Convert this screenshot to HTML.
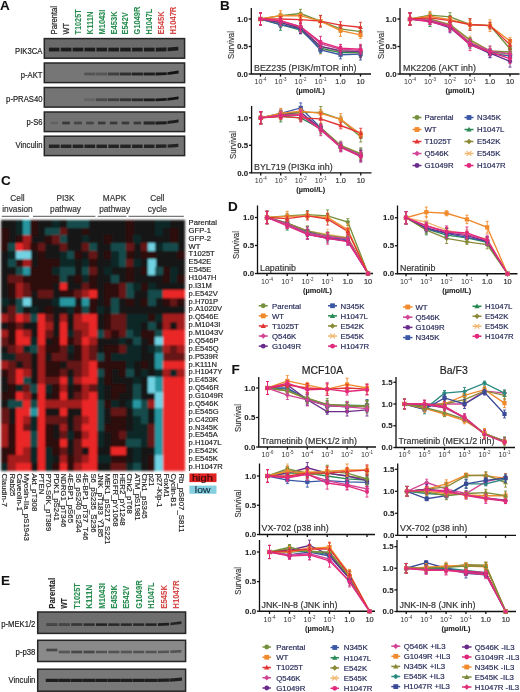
<!DOCTYPE html><html><head><meta charset="utf-8"><style>html,body{margin:0;padding:0;background:#fff;}svg{display:block;filter:blur(0.5px);}</style></head><body>
<svg width="520" height="692" viewBox="0 0 520 692" font-family='"Liberation Sans", sans-serif'>
<defs><filter id="bl" x="-20%" y="-50%" width="140%" height="200%"><feGaussianBlur stdDeviation="0.7"/></filter><filter id="bl2" x="-2%" y="-2%" width="104%" height="104%"><feGaussianBlur stdDeviation="0.85"/></filter></defs>
<rect width="520" height="692" fill="#fff"/>
<text x="0.00" y="10.20" font-size="13.5" font-weight="bold" fill="#111" stroke="#111" stroke-width="0.08" text-anchor="start">A</text>
<text x="220.00" y="10.20" font-size="13.5" font-weight="bold" fill="#111" stroke="#111" stroke-width="0.08" text-anchor="start">B</text>
<text x="1.00" y="184.50" font-size="13.5" font-weight="bold" fill="#111" stroke="#111" stroke-width="0.08" text-anchor="start">C</text>
<text x="228.00" y="211.00" font-size="13.5" font-weight="bold" fill="#111" stroke="#111" stroke-width="0.08" text-anchor="start">D</text>
<text x="1.00" y="584.80" font-size="13.5" font-weight="bold" fill="#111" stroke="#111" stroke-width="0.08" text-anchor="start">E</text>
<text x="231.50" y="374.20" font-size="13.5" font-weight="bold" fill="#111" stroke="#111" stroke-width="0.08" text-anchor="start">F</text>
<text x="0" y="0" font-size="7.6" fill="#222" stroke="#222" stroke-width="0.18" text-anchor="start" transform="translate(57.20 34.40) rotate(-90) scale(1 1.12)" textLength="28.4" lengthAdjust="spacingAndGlyphs">Parental</text>
<text x="0" y="0" font-size="7.6" fill="#222" stroke="#222" stroke-width="0.18" text-anchor="start" transform="translate(69.08 34.40) rotate(-90) scale(1 1.12)" textLength="11.4" lengthAdjust="spacingAndGlyphs">WT</text>
<text x="0" y="0" font-size="7.6" font-weight="bold" fill="#2a8e52" stroke="#2a8e52" stroke-width="0.08" text-anchor="start" transform="translate(80.96 34.40) rotate(-90) scale(1 1.12)" textLength="25" lengthAdjust="spacingAndGlyphs">T1025T</text>
<text x="0" y="0" font-size="7.6" font-weight="bold" fill="#2a8e52" stroke="#2a8e52" stroke-width="0.08" text-anchor="start" transform="translate(92.84 34.40) rotate(-90) scale(1 1.12)" textLength="23" lengthAdjust="spacingAndGlyphs">K111N</text>
<text x="0" y="0" font-size="7.6" font-weight="bold" fill="#2a8e52" stroke="#2a8e52" stroke-width="0.08" text-anchor="start" transform="translate(104.72 34.40) rotate(-90) scale(1 1.12)" textLength="24.7" lengthAdjust="spacingAndGlyphs">M1043I</text>
<text x="0" y="0" font-size="7.6" font-weight="bold" fill="#2a8e52" stroke="#2a8e52" stroke-width="0.08" text-anchor="start" transform="translate(116.60 34.40) rotate(-90) scale(1 1.12)" textLength="23" lengthAdjust="spacingAndGlyphs">E453K</text>
<text x="0" y="0" font-size="7.6" font-weight="bold" fill="#2a8e52" stroke="#2a8e52" stroke-width="0.08" text-anchor="start" transform="translate(128.48 34.40) rotate(-90) scale(1 1.12)" textLength="22" lengthAdjust="spacingAndGlyphs">E542V</text>
<text x="0" y="0" font-size="7.6" font-weight="bold" fill="#2a8e52" stroke="#2a8e52" stroke-width="0.08" text-anchor="start" transform="translate(140.36 34.40) rotate(-90) scale(1 1.12)" textLength="27.7" lengthAdjust="spacingAndGlyphs">G1049R</text>
<text x="0" y="0" font-size="7.6" font-weight="bold" fill="#2a8e52" stroke="#2a8e52" stroke-width="0.08" text-anchor="start" transform="translate(152.24 34.40) rotate(-90) scale(1 1.12)" textLength="25.4" lengthAdjust="spacingAndGlyphs">H1047L</text>
<text x="0" y="0" font-size="7.6" font-weight="bold" fill="#d64c4a" stroke="#d64c4a" stroke-width="0.08" text-anchor="start" transform="translate(164.12 34.40) rotate(-90) scale(1 1.12)" textLength="23" lengthAdjust="spacingAndGlyphs">E545K</text>
<text x="0" y="0" font-size="7.6" font-weight="bold" fill="#d64c4a" stroke="#d64c4a" stroke-width="0.08" text-anchor="start" transform="translate(176.00 34.40) rotate(-90) scale(1 1.12)" textLength="27.7" lengthAdjust="spacingAndGlyphs">H1047R</text>
<rect x="44.30" y="38.60" width="140.30" height="19.60" fill="#6a6a6a" stroke="#262626" stroke-width="1.5"/>
<text x="42.50" y="53.90" font-size="8.4" fill="#222" stroke="#222" stroke-width="0.18" text-anchor="end" textLength="27.4" lengthAdjust="spacingAndGlyphs">PIK3CA</text>
<rect x="44.30" y="63.00" width="140.30" height="19.60" fill="#767676" stroke="#262626" stroke-width="1.5"/>
<text x="42.50" y="77.80" font-size="8.4" fill="#222" stroke="#222" stroke-width="0.18" text-anchor="end" textLength="21.7" lengthAdjust="spacingAndGlyphs">p-AKT</text>
<rect x="44.30" y="87.50" width="140.30" height="19.60" fill="#747474" stroke="#262626" stroke-width="1.5"/>
<text x="42.50" y="101.60" font-size="8.4" fill="#222" stroke="#222" stroke-width="0.18" text-anchor="end" textLength="36.4" lengthAdjust="spacingAndGlyphs">p-PRAS40</text>
<rect x="44.30" y="112.00" width="140.30" height="19.60" fill="#727272" stroke="#262626" stroke-width="1.5"/>
<text x="42.50" y="124.90" font-size="8.4" fill="#222" stroke="#222" stroke-width="0.18" text-anchor="end" textLength="16.1" lengthAdjust="spacingAndGlyphs">p-S6</text>
<rect x="44.30" y="136.20" width="140.30" height="19.40" fill="#727272" stroke="#262626" stroke-width="1.5"/>
<text x="42.50" y="148.20" font-size="8.4" fill="#222" stroke="#222" stroke-width="0.18" text-anchor="end" textLength="26.9" lengthAdjust="spacingAndGlyphs">Vinculin</text>
<g filter="url(#bl)">
<path d="M48.90 47.70L59.50 47.70L59.50 51.50L48.90 51.50Z" fill="#101010" fill-opacity="0.85"/>
<path d="M60.78 47.70L71.38 47.70L71.38 51.50L60.78 51.50Z" fill="#101010" fill-opacity="0.85"/>
<path d="M72.66 47.70L83.26 47.70L83.26 51.50L72.66 51.50Z" fill="#101010" fill-opacity="0.85"/>
<path d="M84.54 47.70L95.14 47.70L95.14 51.50L84.54 51.50Z" fill="#101010" fill-opacity="0.85"/>
<path d="M96.42 47.70L107.02 47.70L107.02 51.50L96.42 51.50Z" fill="#101010" fill-opacity="0.85"/>
<path d="M108.30 47.70L118.90 47.70L118.90 51.50L108.30 51.50Z" fill="#101010" fill-opacity="0.85"/>
<path d="M120.18 47.70L130.78 47.70L130.78 51.50L120.18 51.50Z" fill="#101010" fill-opacity="0.85"/>
<path d="M132.06 47.70L142.66 47.70L142.66 51.50L132.06 51.50Z" fill="#101010" fill-opacity="0.85"/>
<path d="M143.94 47.70L154.54 47.70L154.54 51.50L143.94 51.50Z" fill="#101010" fill-opacity="0.85"/>
<path d="M155.82 47.70L166.42 47.54L166.42 51.34L155.82 51.50Z" fill="#101010" fill-opacity="0.85"/>
<path d="M167.70 47.49L178.30 46.79L178.30 50.59L167.70 51.29Z" fill="#101010" fill-opacity="0.85"/>
</g>
<g filter="url(#bl)">
<path d="M84.24 72.60L95.44 72.60L95.44 75.40L84.24 75.40Z" fill="#101010" fill-opacity="0.30"/>
<path d="M96.12 72.60L107.32 72.60L107.32 75.40L96.12 75.40Z" fill="#101010" fill-opacity="0.35"/>
<path d="M108.00 72.60L119.20 72.60L119.20 75.40L108.00 75.40Z" fill="#101010" fill-opacity="0.55"/>
<path d="M119.88 72.60L131.08 72.60L131.08 75.40L119.88 75.40Z" fill="#101010" fill-opacity="0.70"/>
<path d="M131.76 72.60L142.96 72.60L142.96 75.40L131.76 75.40Z" fill="#101010" fill-opacity="0.80"/>
<path d="M143.64 72.60L154.84 72.60L154.84 75.40L143.64 75.40Z" fill="#101010" fill-opacity="0.85"/>
<path d="M155.52 72.60L166.72 72.24L166.72 75.04L155.52 75.40Z" fill="#101010" fill-opacity="0.90"/>
<path d="M167.40 72.18L178.60 70.59L178.60 73.39L167.40 74.98Z" fill="#101010" fill-opacity="0.95"/>
</g>
<g filter="url(#bl)">
<path d="M84.24 98.40L95.44 98.40L95.44 101.20L84.24 101.20Z" fill="#101010" fill-opacity="0.15"/>
<path d="M96.12 98.40L107.32 98.40L107.32 101.20L96.12 101.20Z" fill="#101010" fill-opacity="0.45"/>
<path d="M108.00 98.40L119.20 98.40L119.20 101.20L108.00 101.20Z" fill="#101010" fill-opacity="0.55"/>
<path d="M119.88 98.40L131.08 98.40L131.08 101.20L119.88 101.20Z" fill="#101010" fill-opacity="0.65"/>
<path d="M131.76 98.40L142.96 98.40L142.96 101.20L131.76 101.20Z" fill="#101010" fill-opacity="0.75"/>
<path d="M143.64 98.40L154.84 98.40L154.84 101.20L143.64 101.20Z" fill="#101010" fill-opacity="0.85"/>
<path d="M155.52 98.40L166.72 98.04L166.72 100.84L155.52 101.20Z" fill="#101010" fill-opacity="0.90"/>
<path d="M167.40 97.98L178.60 96.39L178.60 99.19L167.40 100.78Z" fill="#101010" fill-opacity="0.95"/>
</g>
<g filter="url(#bl)">
<path d="M50.45 121.70L57.95 121.70L57.95 124.30L50.45 124.30Z" fill="#101010" fill-opacity="0.15"/>
<path d="M62.33 121.70L69.83 121.70L69.83 124.30L62.33 124.30Z" fill="#101010" fill-opacity="0.60"/>
<path d="M74.21 121.70L81.71 121.70L81.71 124.30L74.21 124.30Z" fill="#101010" fill-opacity="0.50"/>
<path d="M86.09 121.70L93.59 121.70L93.59 124.30L86.09 124.30Z" fill="#101010" fill-opacity="0.50"/>
<path d="M97.97 121.70L105.47 121.70L105.47 124.30L97.97 124.30Z" fill="#101010" fill-opacity="0.60"/>
<path d="M109.85 121.70L117.35 121.70L117.35 124.30L109.85 124.30Z" fill="#101010" fill-opacity="0.60"/>
<path d="M121.73 121.70L129.23 121.70L129.23 124.30L121.73 124.30Z" fill="#101010" fill-opacity="0.60"/>
<path d="M133.61 121.70L141.11 121.70L141.11 124.30L133.61 124.30Z" fill="#101010" fill-opacity="0.60"/>
</g>
<g filter="url(#bl)">
<path d="M143.64 121.50L154.84 121.50L154.84 124.50L143.64 124.50Z" fill="#101010" fill-opacity="0.75"/>
<path d="M155.52 121.50L166.72 121.14L166.72 124.14L155.52 124.50Z" fill="#101010" fill-opacity="0.85"/>
<path d="M167.40 121.08L178.60 119.49L178.60 122.49L167.40 124.08Z" fill="#101010" fill-opacity="0.85"/>
</g>
<g filter="url(#bl)">
<path d="M48.90 144.60L59.50 144.60L59.50 148.00L48.90 148.00Z" fill="#101010" fill-opacity="0.80"/>
<path d="M60.78 144.60L71.38 144.60L71.38 148.00L60.78 148.00Z" fill="#101010" fill-opacity="0.80"/>
<path d="M72.66 144.60L83.26 144.60L83.26 148.00L72.66 148.00Z" fill="#101010" fill-opacity="0.80"/>
<path d="M84.54 144.60L95.14 144.60L95.14 148.00L84.54 148.00Z" fill="#101010" fill-opacity="0.80"/>
<path d="M96.42 144.60L107.02 144.60L107.02 148.00L96.42 148.00Z" fill="#101010" fill-opacity="0.80"/>
<path d="M108.30 144.60L118.90 144.60L118.90 148.00L108.30 148.00Z" fill="#101010" fill-opacity="0.80"/>
<path d="M120.18 144.60L130.78 144.60L130.78 148.00L120.18 148.00Z" fill="#101010" fill-opacity="0.80"/>
<path d="M132.06 144.60L142.66 144.60L142.66 148.00L132.06 148.00Z" fill="#101010" fill-opacity="0.80"/>
<path d="M143.94 144.60L154.54 144.60L154.54 148.00L143.94 148.00Z" fill="#101010" fill-opacity="0.80"/>
<path d="M155.82 144.60L166.42 144.44L166.42 147.84L155.82 148.00Z" fill="#101010" fill-opacity="0.80"/>
<path d="M167.70 144.39L178.30 143.69L178.30 147.09L167.70 147.79Z" fill="#101010" fill-opacity="0.80"/>
</g>
<text x="0" y="0" font-size="7.6" font-weight="bold" fill="#222" stroke="#222" stroke-width="0.08" text-anchor="start" transform="translate(54.90 608.70) rotate(-90) scale(1 1.12)" textLength="30.8" lengthAdjust="spacingAndGlyphs">Parental</text>
<text x="0" y="0" font-size="7.6" font-weight="bold" fill="#222" stroke="#222" stroke-width="0.08" text-anchor="start" transform="translate(67.30 608.70) rotate(-90) scale(1 1.12)" textLength="10.5" lengthAdjust="spacingAndGlyphs">WT</text>
<text x="0" y="0" font-size="7.6" font-weight="bold" fill="#2a8e52" stroke="#2a8e52" stroke-width="0.08" text-anchor="start" transform="translate(79.70 608.70) rotate(-90) scale(1 1.12)" textLength="25.5" lengthAdjust="spacingAndGlyphs">T1025T</text>
<text x="0" y="0" font-size="7.6" font-weight="bold" fill="#2a8e52" stroke="#2a8e52" stroke-width="0.08" text-anchor="start" transform="translate(92.10 608.70) rotate(-90) scale(1 1.12)" textLength="23.9" lengthAdjust="spacingAndGlyphs">K111N</text>
<text x="0" y="0" font-size="7.6" font-weight="bold" fill="#2a8e52" stroke="#2a8e52" stroke-width="0.08" text-anchor="start" transform="translate(104.50 608.70) rotate(-90) scale(1 1.12)" textLength="25.5" lengthAdjust="spacingAndGlyphs">M1043I</text>
<text x="0" y="0" font-size="7.6" font-weight="bold" fill="#2a8e52" stroke="#2a8e52" stroke-width="0.08" text-anchor="start" transform="translate(116.90 608.70) rotate(-90) scale(1 1.12)" textLength="23.9" lengthAdjust="spacingAndGlyphs">E453K</text>
<text x="0" y="0" font-size="7.6" font-weight="bold" fill="#2a8e52" stroke="#2a8e52" stroke-width="0.08" text-anchor="start" transform="translate(129.30 608.70) rotate(-90) scale(1 1.12)" textLength="22.8" lengthAdjust="spacingAndGlyphs">E542V</text>
<text x="0" y="0" font-size="7.6" font-weight="bold" fill="#2a8e52" stroke="#2a8e52" stroke-width="0.08" text-anchor="start" transform="translate(141.70 608.70) rotate(-90) scale(1 1.12)" textLength="28.4" lengthAdjust="spacingAndGlyphs">G1049R</text>
<text x="0" y="0" font-size="7.6" font-weight="bold" fill="#2a8e52" stroke="#2a8e52" stroke-width="0.08" text-anchor="start" transform="translate(154.10 608.70) rotate(-90) scale(1 1.12)" textLength="26.1" lengthAdjust="spacingAndGlyphs">H1047L</text>
<text x="0" y="0" font-size="7.6" font-weight="bold" fill="#d64c4a" stroke="#d64c4a" stroke-width="0.08" text-anchor="start" transform="translate(166.50 608.70) rotate(-90) scale(1 1.12)" textLength="23.7" lengthAdjust="spacingAndGlyphs">E545K</text>
<text x="0" y="0" font-size="7.6" font-weight="bold" fill="#d64c4a" stroke="#d64c4a" stroke-width="0.08" text-anchor="start" transform="translate(178.90 608.70) rotate(-90) scale(1 1.12)" textLength="28.4" lengthAdjust="spacingAndGlyphs">H1047R</text>
<rect x="37.70" y="612.00" width="147.90" height="21.40" fill="#6e6e6e" stroke="#262626" stroke-width="1.5"/>
<text x="35.40" y="627.40" font-size="8.4" fill="#222" stroke="#222" stroke-width="0.18" text-anchor="end" textLength="34.2" lengthAdjust="spacingAndGlyphs">p-MEK1/2</text>
<rect x="37.70" y="640.30" width="147.90" height="21.20" fill="#8a8a8a" stroke="#262626" stroke-width="1.5"/>
<text x="35.40" y="654.60" font-size="8.4" fill="#222" stroke="#222" stroke-width="0.18" text-anchor="end" textLength="19.8" lengthAdjust="spacingAndGlyphs">p-p38</text>
<rect x="37.70" y="669.20" width="147.90" height="22.00" fill="#787878" stroke="#262626" stroke-width="1.5"/>
<text x="35.40" y="683.20" font-size="8.4" fill="#222" stroke="#222" stroke-width="0.18" text-anchor="end" textLength="26.8" lengthAdjust="spacingAndGlyphs">Vinculin</text>
<g filter="url(#bl)">
<path d="M46.40 623.30L57.40 623.30L57.40 625.90L46.40 625.90Z" fill="#101010" fill-opacity="0.45"/>
<path d="M58.80 623.30L69.80 623.30L69.80 625.90L58.80 625.90Z" fill="#101010" fill-opacity="0.45"/>
<path d="M71.20 623.30L82.20 623.30L82.20 625.90L71.20 625.90Z" fill="#101010" fill-opacity="0.60"/>
<path d="M83.60 623.30L94.60 623.30L94.60 625.90L83.60 625.90Z" fill="#101010" fill-opacity="0.70"/>
<path d="M96.00 623.30L107.00 623.30L107.00 625.90L96.00 625.90Z" fill="#101010" fill-opacity="0.80"/>
<path d="M108.40 623.30L119.40 623.30L119.40 625.90L108.40 625.90Z" fill="#101010" fill-opacity="0.75"/>
<path d="M120.80 623.30L131.80 623.30L131.80 625.90L120.80 625.90Z" fill="#101010" fill-opacity="0.75"/>
<path d="M133.20 623.30L144.20 623.30L144.20 625.90L133.20 625.90Z" fill="#101010" fill-opacity="0.75"/>
<path d="M145.60 623.30L156.60 623.30L156.60 625.90L145.60 625.90Z" fill="#101010" fill-opacity="0.80"/>
<path d="M158.00 623.30L169.00 622.85L169.00 625.45L158.00 625.90Z" fill="#101010" fill-opacity="0.85"/>
<path d="M170.40 622.73L181.40 621.28L181.40 623.88L170.40 625.33Z" fill="#101010" fill-opacity="0.80"/>
</g>
<g filter="url(#bl)">
<path d="M46.40 648.70L57.40 648.70L57.40 651.30L46.40 651.30Z" fill="#101010" fill-opacity="0.55"/>
</g>
<g filter="url(#bl)">
<path d="M58.80 650.70L69.80 650.70L69.80 653.30L58.80 653.30Z" fill="#101010" fill-opacity="0.45"/>
<path d="M71.20 650.70L82.20 650.70L82.20 653.30L71.20 653.30Z" fill="#101010" fill-opacity="0.55"/>
<path d="M83.60 650.70L94.60 650.70L94.60 653.30L83.60 653.30Z" fill="#101010" fill-opacity="0.55"/>
<path d="M96.00 650.70L107.00 650.70L107.00 653.30L96.00 653.30Z" fill="#101010" fill-opacity="0.40"/>
<path d="M108.40 650.70L119.40 650.70L119.40 653.30L108.40 653.30Z" fill="#101010" fill-opacity="0.40"/>
<path d="M120.80 650.70L131.80 650.70L131.80 653.30L120.80 653.30Z" fill="#101010" fill-opacity="0.45"/>
<path d="M133.20 650.70L144.20 650.70L144.20 653.30L133.20 653.30Z" fill="#101010" fill-opacity="0.40"/>
<path d="M145.60 650.70L156.60 650.70L156.60 653.30L145.60 653.30Z" fill="#101010" fill-opacity="0.40"/>
<path d="M158.00 650.70L169.00 650.52L169.00 653.12L158.00 653.30Z" fill="#101010" fill-opacity="0.40"/>
<path d="M170.40 650.47L181.40 649.89L181.40 652.49L170.40 653.07Z" fill="#101010" fill-opacity="0.45"/>
</g>
<g filter="url(#bl)">
<path d="M45.80 678.80L58.00 678.80L58.00 682.00L45.80 682.00Z" fill="#101010" fill-opacity="0.85"/>
<path d="M58.20 678.80L70.40 678.80L70.40 682.00L58.20 682.00Z" fill="#101010" fill-opacity="0.85"/>
<path d="M70.60 678.80L82.80 678.80L82.80 682.00L70.60 682.00Z" fill="#101010" fill-opacity="0.85"/>
<path d="M83.00 678.80L95.20 678.80L95.20 682.00L83.00 682.00Z" fill="#101010" fill-opacity="0.85"/>
<path d="M95.40 678.80L107.60 678.80L107.60 682.00L95.40 682.00Z" fill="#101010" fill-opacity="0.85"/>
<path d="M107.80 678.80L120.00 678.80L120.00 682.00L107.80 682.00Z" fill="#101010" fill-opacity="0.85"/>
<path d="M120.20 678.80L132.40 678.80L132.40 682.00L120.20 682.00Z" fill="#101010" fill-opacity="0.85"/>
<path d="M132.60 678.80L144.80 678.80L144.80 682.00L132.60 682.00Z" fill="#101010" fill-opacity="0.85"/>
<path d="M145.00 678.80L157.20 678.80L157.20 682.00L145.00 682.00Z" fill="#101010" fill-opacity="0.85"/>
<path d="M157.40 678.80L169.60 678.50L169.60 681.70L157.40 682.00Z" fill="#101010" fill-opacity="0.85"/>
<path d="M169.80 678.49L182.00 677.52L182.00 680.72L169.80 681.69Z" fill="#101010" fill-opacity="0.85"/>
</g>
<g filter="url(#bl2)" shape-rendering="crispEdges">
<rect x="0.9" y="219.8" width="183.90" height="250.80" fill="#141414"/>
<rect x="15.61" y="219.80" width="7.66" height="8.14" fill="#0e2626"/>
<rect x="22.97" y="219.80" width="7.66" height="8.14" fill="#2896a0"/>
<rect x="30.32" y="219.80" width="7.66" height="8.14" fill="#2e1111"/>
<rect x="52.39" y="219.80" width="7.66" height="8.14" fill="#0e2626"/>
<rect x="67.10" y="219.80" width="7.66" height="8.14" fill="#154c4c"/>
<rect x="74.46" y="219.80" width="7.66" height="8.14" fill="#154c4c"/>
<rect x="81.82" y="219.80" width="7.66" height="8.14" fill="#154c4c"/>
<rect x="125.95" y="219.80" width="7.66" height="8.14" fill="#2e1111"/>
<rect x="155.38" y="219.80" width="7.66" height="8.14" fill="#0e2626"/>
<rect x="162.73" y="219.80" width="7.66" height="8.14" fill="#0e2626"/>
<rect x="0.90" y="227.64" width="7.66" height="8.14" fill="#2e1111"/>
<rect x="15.61" y="227.64" width="7.66" height="8.14" fill="#0e2626"/>
<rect x="22.97" y="227.64" width="7.66" height="8.14" fill="#2896a0"/>
<rect x="30.32" y="227.64" width="7.66" height="8.14" fill="#2e1111"/>
<rect x="45.04" y="227.64" width="7.66" height="8.14" fill="#154c4c"/>
<rect x="52.39" y="227.64" width="7.66" height="8.14" fill="#154c4c"/>
<rect x="59.75" y="227.64" width="7.66" height="8.14" fill="#661717"/>
<rect x="81.82" y="227.64" width="7.66" height="8.14" fill="#2e1111"/>
<rect x="125.95" y="227.64" width="7.66" height="8.14" fill="#2e1111"/>
<rect x="155.38" y="227.64" width="7.66" height="8.14" fill="#0e2626"/>
<rect x="170.09" y="227.64" width="7.66" height="8.14" fill="#2e1111"/>
<rect x="0.90" y="235.48" width="7.66" height="8.14" fill="#2e1111"/>
<rect x="15.61" y="235.48" width="7.66" height="8.14" fill="#2e1111"/>
<rect x="22.97" y="235.48" width="7.66" height="8.14" fill="#a41e1e"/>
<rect x="45.04" y="235.48" width="7.66" height="8.14" fill="#2e1111"/>
<rect x="52.39" y="235.48" width="7.66" height="8.14" fill="#661717"/>
<rect x="59.75" y="235.48" width="7.66" height="8.14" fill="#154c4c"/>
<rect x="81.82" y="235.48" width="7.66" height="8.14" fill="#0e2626"/>
<rect x="103.88" y="235.48" width="7.66" height="8.14" fill="#2e1111"/>
<rect x="125.95" y="235.48" width="7.66" height="8.14" fill="#2e1111"/>
<rect x="133.31" y="235.48" width="7.66" height="8.14" fill="#0e2626"/>
<rect x="170.09" y="235.48" width="7.66" height="8.14" fill="#2e1111"/>
<rect x="0.90" y="243.31" width="7.66" height="8.14" fill="#2e1111"/>
<rect x="8.26" y="243.31" width="7.66" height="8.14" fill="#154c4c"/>
<rect x="15.61" y="243.31" width="7.66" height="8.14" fill="#ea2828"/>
<rect x="22.97" y="243.31" width="7.66" height="8.14" fill="#a41e1e"/>
<rect x="30.32" y="243.31" width="7.66" height="8.14" fill="#2e1111"/>
<rect x="37.68" y="243.31" width="7.66" height="8.14" fill="#661717"/>
<rect x="59.75" y="243.31" width="7.66" height="8.14" fill="#661717"/>
<rect x="81.82" y="243.31" width="7.66" height="8.14" fill="#661717"/>
<rect x="89.17" y="243.31" width="7.66" height="8.14" fill="#154c4c"/>
<rect x="111.24" y="243.31" width="7.66" height="8.14" fill="#154c4c"/>
<rect x="118.60" y="243.31" width="7.66" height="8.14" fill="#154c4c"/>
<rect x="125.95" y="243.31" width="7.66" height="8.14" fill="#661717"/>
<rect x="140.66" y="243.31" width="7.66" height="8.14" fill="#661717"/>
<rect x="148.02" y="243.31" width="7.66" height="8.14" fill="#70d2e2"/>
<rect x="155.38" y="243.31" width="7.66" height="8.14" fill="#0e2626"/>
<rect x="162.73" y="243.31" width="7.66" height="8.14" fill="#154c4c"/>
<rect x="170.09" y="243.31" width="7.66" height="8.14" fill="#154c4c"/>
<rect x="8.26" y="251.15" width="7.66" height="8.14" fill="#0e2626"/>
<rect x="15.61" y="251.15" width="7.66" height="8.14" fill="#70d2e2"/>
<rect x="22.97" y="251.15" width="7.66" height="8.14" fill="#70d2e2"/>
<rect x="37.68" y="251.15" width="7.66" height="8.14" fill="#2e1111"/>
<rect x="59.75" y="251.15" width="7.66" height="8.14" fill="#0e2626"/>
<rect x="67.10" y="251.15" width="7.66" height="8.14" fill="#154c4c"/>
<rect x="74.46" y="251.15" width="7.66" height="8.14" fill="#2e1111"/>
<rect x="89.17" y="251.15" width="7.66" height="8.14" fill="#661717"/>
<rect x="103.88" y="251.15" width="7.66" height="8.14" fill="#2e1111"/>
<rect x="111.24" y="251.15" width="7.66" height="8.14" fill="#0e2626"/>
<rect x="118.60" y="251.15" width="7.66" height="8.14" fill="#154c4c"/>
<rect x="125.95" y="251.15" width="7.66" height="8.14" fill="#2e1111"/>
<rect x="140.66" y="251.15" width="7.66" height="8.14" fill="#2e1111"/>
<rect x="148.02" y="251.15" width="7.66" height="8.14" fill="#2e1111"/>
<rect x="177.44" y="251.15" width="7.66" height="8.14" fill="#2e1111"/>
<rect x="8.26" y="258.99" width="7.66" height="8.14" fill="#154c4c"/>
<rect x="15.61" y="258.99" width="7.66" height="8.14" fill="#2e1111"/>
<rect x="22.97" y="258.99" width="7.66" height="8.14" fill="#a41e1e"/>
<rect x="37.68" y="258.99" width="7.66" height="8.14" fill="#2e1111"/>
<rect x="45.04" y="258.99" width="7.66" height="8.14" fill="#2e1111"/>
<rect x="52.39" y="258.99" width="7.66" height="8.14" fill="#2e1111"/>
<rect x="59.75" y="258.99" width="7.66" height="8.14" fill="#0e2626"/>
<rect x="67.10" y="258.99" width="7.66" height="8.14" fill="#0e2626"/>
<rect x="81.82" y="258.99" width="7.66" height="8.14" fill="#0e2626"/>
<rect x="89.17" y="258.99" width="7.66" height="8.14" fill="#2e1111"/>
<rect x="111.24" y="258.99" width="7.66" height="8.14" fill="#0e2626"/>
<rect x="118.60" y="258.99" width="7.66" height="8.14" fill="#154c4c"/>
<rect x="125.95" y="258.99" width="7.66" height="8.14" fill="#661717"/>
<rect x="133.31" y="258.99" width="7.66" height="8.14" fill="#0e2626"/>
<rect x="148.02" y="258.99" width="7.66" height="8.14" fill="#70d2e2"/>
<rect x="15.61" y="266.83" width="7.66" height="8.14" fill="#154c4c"/>
<rect x="22.97" y="266.83" width="7.66" height="8.14" fill="#2896a0"/>
<rect x="30.32" y="266.83" width="7.66" height="8.14" fill="#2e1111"/>
<rect x="37.68" y="266.83" width="7.66" height="8.14" fill="#2e1111"/>
<rect x="45.04" y="266.83" width="7.66" height="8.14" fill="#2e1111"/>
<rect x="52.39" y="266.83" width="7.66" height="8.14" fill="#0e2626"/>
<rect x="59.75" y="266.83" width="7.66" height="8.14" fill="#154c4c"/>
<rect x="67.10" y="266.83" width="7.66" height="8.14" fill="#154c4c"/>
<rect x="81.82" y="266.83" width="7.66" height="8.14" fill="#154c4c"/>
<rect x="89.17" y="266.83" width="7.66" height="8.14" fill="#661717"/>
<rect x="103.88" y="266.83" width="7.66" height="8.14" fill="#0e2626"/>
<rect x="125.95" y="266.83" width="7.66" height="8.14" fill="#2e1111"/>
<rect x="140.66" y="266.83" width="7.66" height="8.14" fill="#2e1111"/>
<rect x="148.02" y="266.83" width="7.66" height="8.14" fill="#70d2e2"/>
<rect x="155.38" y="266.83" width="7.66" height="8.14" fill="#154c4c"/>
<rect x="162.73" y="266.83" width="7.66" height="8.14" fill="#2e1111"/>
<rect x="170.09" y="266.83" width="7.66" height="8.14" fill="#0e2626"/>
<rect x="8.26" y="274.66" width="7.66" height="8.14" fill="#661717"/>
<rect x="15.61" y="274.66" width="7.66" height="8.14" fill="#661717"/>
<rect x="22.97" y="274.66" width="7.66" height="8.14" fill="#2e1111"/>
<rect x="30.32" y="274.66" width="7.66" height="8.14" fill="#2e1111"/>
<rect x="37.68" y="274.66" width="7.66" height="8.14" fill="#2e1111"/>
<rect x="45.04" y="274.66" width="7.66" height="8.14" fill="#2e1111"/>
<rect x="52.39" y="274.66" width="7.66" height="8.14" fill="#2e1111"/>
<rect x="59.75" y="274.66" width="7.66" height="8.14" fill="#154c4c"/>
<rect x="74.46" y="274.66" width="7.66" height="8.14" fill="#2e1111"/>
<rect x="81.82" y="274.66" width="7.66" height="8.14" fill="#0e2626"/>
<rect x="89.17" y="274.66" width="7.66" height="8.14" fill="#2e1111"/>
<rect x="111.24" y="274.66" width="7.66" height="8.14" fill="#154c4c"/>
<rect x="125.95" y="274.66" width="7.66" height="8.14" fill="#2e1111"/>
<rect x="162.73" y="274.66" width="7.66" height="8.14" fill="#2e1111"/>
<rect x="170.09" y="274.66" width="7.66" height="8.14" fill="#0e2626"/>
<rect x="177.44" y="274.66" width="7.66" height="8.14" fill="#2e1111"/>
<rect x="8.26" y="282.50" width="7.66" height="8.14" fill="#2e1111"/>
<rect x="15.61" y="282.50" width="7.66" height="8.14" fill="#a41e1e"/>
<rect x="22.97" y="282.50" width="7.66" height="8.14" fill="#661717"/>
<rect x="30.32" y="282.50" width="7.66" height="8.14" fill="#2e1111"/>
<rect x="37.68" y="282.50" width="7.66" height="8.14" fill="#2e1111"/>
<rect x="45.04" y="282.50" width="7.66" height="8.14" fill="#2e1111"/>
<rect x="59.75" y="282.50" width="7.66" height="8.14" fill="#ea2828"/>
<rect x="81.82" y="282.50" width="7.66" height="8.14" fill="#661717"/>
<rect x="89.17" y="282.50" width="7.66" height="8.14" fill="#2e1111"/>
<rect x="103.88" y="282.50" width="7.66" height="8.14" fill="#2e1111"/>
<rect x="111.24" y="282.50" width="7.66" height="8.14" fill="#2e1111"/>
<rect x="118.60" y="282.50" width="7.66" height="8.14" fill="#661717"/>
<rect x="125.95" y="282.50" width="7.66" height="8.14" fill="#154c4c"/>
<rect x="133.31" y="282.50" width="7.66" height="8.14" fill="#0e2626"/>
<rect x="140.66" y="282.50" width="7.66" height="8.14" fill="#2e1111"/>
<rect x="148.02" y="282.50" width="7.66" height="8.14" fill="#0e2626"/>
<rect x="8.26" y="290.34" width="7.66" height="8.14" fill="#2e1111"/>
<rect x="15.61" y="290.34" width="7.66" height="8.14" fill="#a41e1e"/>
<rect x="22.97" y="290.34" width="7.66" height="8.14" fill="#661717"/>
<rect x="37.68" y="290.34" width="7.66" height="8.14" fill="#661717"/>
<rect x="45.04" y="290.34" width="7.66" height="8.14" fill="#661717"/>
<rect x="59.75" y="290.34" width="7.66" height="8.14" fill="#2e1111"/>
<rect x="67.10" y="290.34" width="7.66" height="8.14" fill="#2e1111"/>
<rect x="74.46" y="290.34" width="7.66" height="8.14" fill="#661717"/>
<rect x="81.82" y="290.34" width="7.66" height="8.14" fill="#a41e1e"/>
<rect x="89.17" y="290.34" width="7.66" height="8.14" fill="#ea2828"/>
<rect x="103.88" y="290.34" width="7.66" height="8.14" fill="#2e1111"/>
<rect x="111.24" y="290.34" width="7.66" height="8.14" fill="#2e1111"/>
<rect x="118.60" y="290.34" width="7.66" height="8.14" fill="#661717"/>
<rect x="125.95" y="290.34" width="7.66" height="8.14" fill="#154c4c"/>
<rect x="148.02" y="290.34" width="7.66" height="8.14" fill="#154c4c"/>
<rect x="155.38" y="290.34" width="7.66" height="8.14" fill="#154c4c"/>
<rect x="162.73" y="290.34" width="7.66" height="8.14" fill="#ea2828"/>
<rect x="170.09" y="290.34" width="7.66" height="8.14" fill="#ea2828"/>
<rect x="177.44" y="290.34" width="7.66" height="8.14" fill="#ea2828"/>
<rect x="0.90" y="298.18" width="7.66" height="8.14" fill="#0e2626"/>
<rect x="15.61" y="298.18" width="7.66" height="8.14" fill="#154c4c"/>
<rect x="22.97" y="298.18" width="7.66" height="8.14" fill="#70d2e2"/>
<rect x="52.39" y="298.18" width="7.66" height="8.14" fill="#0e2626"/>
<rect x="59.75" y="298.18" width="7.66" height="8.14" fill="#2896a0"/>
<rect x="67.10" y="298.18" width="7.66" height="8.14" fill="#2896a0"/>
<rect x="81.82" y="298.18" width="7.66" height="8.14" fill="#2896a0"/>
<rect x="89.17" y="298.18" width="7.66" height="8.14" fill="#2e1111"/>
<rect x="103.88" y="298.18" width="7.66" height="8.14" fill="#2e1111"/>
<rect x="111.24" y="298.18" width="7.66" height="8.14" fill="#154c4c"/>
<rect x="125.95" y="298.18" width="7.66" height="8.14" fill="#2e1111"/>
<rect x="140.66" y="298.18" width="7.66" height="8.14" fill="#2e1111"/>
<rect x="148.02" y="298.18" width="7.66" height="8.14" fill="#154c4c"/>
<rect x="162.73" y="298.18" width="7.66" height="8.14" fill="#2e1111"/>
<rect x="170.09" y="298.18" width="7.66" height="8.14" fill="#661717"/>
<rect x="177.44" y="298.18" width="7.66" height="8.14" fill="#2e1111"/>
<rect x="8.26" y="306.01" width="7.66" height="8.14" fill="#661717"/>
<rect x="15.61" y="306.01" width="7.66" height="8.14" fill="#154c4c"/>
<rect x="30.32" y="306.01" width="7.66" height="8.14" fill="#0e2626"/>
<rect x="45.04" y="306.01" width="7.66" height="8.14" fill="#2e1111"/>
<rect x="67.10" y="306.01" width="7.66" height="8.14" fill="#0e2626"/>
<rect x="74.46" y="306.01" width="7.66" height="8.14" fill="#2e1111"/>
<rect x="81.82" y="306.01" width="7.66" height="8.14" fill="#154c4c"/>
<rect x="89.17" y="306.01" width="7.66" height="8.14" fill="#2e1111"/>
<rect x="96.53" y="306.01" width="7.66" height="8.14" fill="#0e2626"/>
<rect x="111.24" y="306.01" width="7.66" height="8.14" fill="#154c4c"/>
<rect x="0.90" y="313.85" width="7.66" height="8.14" fill="#a41e1e"/>
<rect x="8.26" y="313.85" width="7.66" height="8.14" fill="#661717"/>
<rect x="15.61" y="313.85" width="7.66" height="8.14" fill="#ea2828"/>
<rect x="22.97" y="313.85" width="7.66" height="8.14" fill="#a41e1e"/>
<rect x="30.32" y="313.85" width="7.66" height="8.14" fill="#154c4c"/>
<rect x="37.68" y="313.85" width="7.66" height="8.14" fill="#ea2828"/>
<rect x="45.04" y="313.85" width="7.66" height="8.14" fill="#661717"/>
<rect x="59.75" y="313.85" width="7.66" height="8.14" fill="#a41e1e"/>
<rect x="74.46" y="313.85" width="7.66" height="8.14" fill="#a41e1e"/>
<rect x="81.82" y="313.85" width="7.66" height="8.14" fill="#ea2828"/>
<rect x="89.17" y="313.85" width="7.66" height="8.14" fill="#ea2828"/>
<rect x="103.88" y="313.85" width="7.66" height="8.14" fill="#2e1111"/>
<rect x="111.24" y="313.85" width="7.66" height="8.14" fill="#661717"/>
<rect x="118.60" y="313.85" width="7.66" height="8.14" fill="#661717"/>
<rect x="125.95" y="313.85" width="7.66" height="8.14" fill="#0e2626"/>
<rect x="133.31" y="313.85" width="7.66" height="8.14" fill="#0e2626"/>
<rect x="140.66" y="313.85" width="7.66" height="8.14" fill="#0e2626"/>
<rect x="148.02" y="313.85" width="7.66" height="8.14" fill="#2e1111"/>
<rect x="155.38" y="313.85" width="7.66" height="8.14" fill="#0e2626"/>
<rect x="162.73" y="313.85" width="7.66" height="8.14" fill="#a41e1e"/>
<rect x="170.09" y="313.85" width="7.66" height="8.14" fill="#a41e1e"/>
<rect x="177.44" y="313.85" width="7.66" height="8.14" fill="#a41e1e"/>
<rect x="8.26" y="321.69" width="7.66" height="8.14" fill="#2e1111"/>
<rect x="15.61" y="321.69" width="7.66" height="8.14" fill="#661717"/>
<rect x="37.68" y="321.69" width="7.66" height="8.14" fill="#ea2828"/>
<rect x="45.04" y="321.69" width="7.66" height="8.14" fill="#a41e1e"/>
<rect x="59.75" y="321.69" width="7.66" height="8.14" fill="#ea2828"/>
<rect x="74.46" y="321.69" width="7.66" height="8.14" fill="#a41e1e"/>
<rect x="81.82" y="321.69" width="7.66" height="8.14" fill="#a41e1e"/>
<rect x="89.17" y="321.69" width="7.66" height="8.14" fill="#ea2828"/>
<rect x="103.88" y="321.69" width="7.66" height="8.14" fill="#2e1111"/>
<rect x="111.24" y="321.69" width="7.66" height="8.14" fill="#661717"/>
<rect x="118.60" y="321.69" width="7.66" height="8.14" fill="#661717"/>
<rect x="125.95" y="321.69" width="7.66" height="8.14" fill="#0e2626"/>
<rect x="133.31" y="321.69" width="7.66" height="8.14" fill="#0e2626"/>
<rect x="148.02" y="321.69" width="7.66" height="8.14" fill="#154c4c"/>
<rect x="162.73" y="321.69" width="7.66" height="8.14" fill="#a41e1e"/>
<rect x="177.44" y="321.69" width="7.66" height="8.14" fill="#a41e1e"/>
<rect x="0.90" y="329.53" width="7.66" height="8.14" fill="#a41e1e"/>
<rect x="8.26" y="329.53" width="7.66" height="8.14" fill="#2e1111"/>
<rect x="15.61" y="329.53" width="7.66" height="8.14" fill="#ea2828"/>
<rect x="22.97" y="329.53" width="7.66" height="8.14" fill="#a41e1e"/>
<rect x="37.68" y="329.53" width="7.66" height="8.14" fill="#ea2828"/>
<rect x="45.04" y="329.53" width="7.66" height="8.14" fill="#661717"/>
<rect x="59.75" y="329.53" width="7.66" height="8.14" fill="#ea2828"/>
<rect x="67.10" y="329.53" width="7.66" height="8.14" fill="#0e2626"/>
<rect x="74.46" y="329.53" width="7.66" height="8.14" fill="#661717"/>
<rect x="81.82" y="329.53" width="7.66" height="8.14" fill="#a41e1e"/>
<rect x="89.17" y="329.53" width="7.66" height="8.14" fill="#ea2828"/>
<rect x="96.53" y="329.53" width="7.66" height="8.14" fill="#154c4c"/>
<rect x="103.88" y="329.53" width="7.66" height="8.14" fill="#661717"/>
<rect x="111.24" y="329.53" width="7.66" height="8.14" fill="#2e1111"/>
<rect x="118.60" y="329.53" width="7.66" height="8.14" fill="#661717"/>
<rect x="125.95" y="329.53" width="7.66" height="8.14" fill="#154c4c"/>
<rect x="133.31" y="329.53" width="7.66" height="8.14" fill="#0e2626"/>
<rect x="140.66" y="329.53" width="7.66" height="8.14" fill="#2e1111"/>
<rect x="148.02" y="329.53" width="7.66" height="8.14" fill="#2e1111"/>
<rect x="155.38" y="329.53" width="7.66" height="8.14" fill="#154c4c"/>
<rect x="162.73" y="329.53" width="7.66" height="8.14" fill="#ea2828"/>
<rect x="170.09" y="329.53" width="7.66" height="8.14" fill="#ea2828"/>
<rect x="177.44" y="329.53" width="7.66" height="8.14" fill="#ea2828"/>
<rect x="0.90" y="337.36" width="7.66" height="8.14" fill="#661717"/>
<rect x="8.26" y="337.36" width="7.66" height="8.14" fill="#2e1111"/>
<rect x="15.61" y="337.36" width="7.66" height="8.14" fill="#ea2828"/>
<rect x="22.97" y="337.36" width="7.66" height="8.14" fill="#ea2828"/>
<rect x="30.32" y="337.36" width="7.66" height="8.14" fill="#0e2626"/>
<rect x="37.68" y="337.36" width="7.66" height="8.14" fill="#ea2828"/>
<rect x="52.39" y="337.36" width="7.66" height="8.14" fill="#2e1111"/>
<rect x="59.75" y="337.36" width="7.66" height="8.14" fill="#ea2828"/>
<rect x="67.10" y="337.36" width="7.66" height="8.14" fill="#2e1111"/>
<rect x="74.46" y="337.36" width="7.66" height="8.14" fill="#661717"/>
<rect x="81.82" y="337.36" width="7.66" height="8.14" fill="#ea2828"/>
<rect x="89.17" y="337.36" width="7.66" height="8.14" fill="#a41e1e"/>
<rect x="118.60" y="337.36" width="7.66" height="8.14" fill="#0e2626"/>
<rect x="133.31" y="337.36" width="7.66" height="8.14" fill="#154c4c"/>
<rect x="148.02" y="337.36" width="7.66" height="8.14" fill="#2e1111"/>
<rect x="155.38" y="337.36" width="7.66" height="8.14" fill="#70d2e2"/>
<rect x="162.73" y="337.36" width="7.66" height="8.14" fill="#ea2828"/>
<rect x="170.09" y="337.36" width="7.66" height="8.14" fill="#ea2828"/>
<rect x="177.44" y="337.36" width="7.66" height="8.14" fill="#ea2828"/>
<rect x="8.26" y="345.20" width="7.66" height="8.14" fill="#661717"/>
<rect x="15.61" y="345.20" width="7.66" height="8.14" fill="#a41e1e"/>
<rect x="22.97" y="345.20" width="7.66" height="8.14" fill="#0e2626"/>
<rect x="30.32" y="345.20" width="7.66" height="8.14" fill="#154c4c"/>
<rect x="37.68" y="345.20" width="7.66" height="8.14" fill="#a41e1e"/>
<rect x="45.04" y="345.20" width="7.66" height="8.14" fill="#2e1111"/>
<rect x="52.39" y="345.20" width="7.66" height="8.14" fill="#2e1111"/>
<rect x="59.75" y="345.20" width="7.66" height="8.14" fill="#661717"/>
<rect x="67.10" y="345.20" width="7.66" height="8.14" fill="#0e2626"/>
<rect x="74.46" y="345.20" width="7.66" height="8.14" fill="#2e1111"/>
<rect x="81.82" y="345.20" width="7.66" height="8.14" fill="#a41e1e"/>
<rect x="89.17" y="345.20" width="7.66" height="8.14" fill="#661717"/>
<rect x="103.88" y="345.20" width="7.66" height="8.14" fill="#2e1111"/>
<rect x="111.24" y="345.20" width="7.66" height="8.14" fill="#2e1111"/>
<rect x="118.60" y="345.20" width="7.66" height="8.14" fill="#661717"/>
<rect x="125.95" y="345.20" width="7.66" height="8.14" fill="#0e2626"/>
<rect x="133.31" y="345.20" width="7.66" height="8.14" fill="#0e2626"/>
<rect x="148.02" y="345.20" width="7.66" height="8.14" fill="#0e2626"/>
<rect x="155.38" y="345.20" width="7.66" height="8.14" fill="#154c4c"/>
<rect x="162.73" y="345.20" width="7.66" height="8.14" fill="#a41e1e"/>
<rect x="170.09" y="345.20" width="7.66" height="8.14" fill="#661717"/>
<rect x="177.44" y="345.20" width="7.66" height="8.14" fill="#a41e1e"/>
<rect x="0.90" y="353.04" width="7.66" height="8.14" fill="#0e2626"/>
<rect x="8.26" y="353.04" width="7.66" height="8.14" fill="#0e2626"/>
<rect x="15.61" y="353.04" width="7.66" height="8.14" fill="#661717"/>
<rect x="22.97" y="353.04" width="7.66" height="8.14" fill="#661717"/>
<rect x="37.68" y="353.04" width="7.66" height="8.14" fill="#a41e1e"/>
<rect x="52.39" y="353.04" width="7.66" height="8.14" fill="#661717"/>
<rect x="59.75" y="353.04" width="7.66" height="8.14" fill="#661717"/>
<rect x="74.46" y="353.04" width="7.66" height="8.14" fill="#2e1111"/>
<rect x="81.82" y="353.04" width="7.66" height="8.14" fill="#a41e1e"/>
<rect x="89.17" y="353.04" width="7.66" height="8.14" fill="#661717"/>
<rect x="96.53" y="353.04" width="7.66" height="8.14" fill="#154c4c"/>
<rect x="103.88" y="353.04" width="7.66" height="8.14" fill="#2e1111"/>
<rect x="111.24" y="353.04" width="7.66" height="8.14" fill="#0e2626"/>
<rect x="118.60" y="353.04" width="7.66" height="8.14" fill="#0e2626"/>
<rect x="125.95" y="353.04" width="7.66" height="8.14" fill="#0e2626"/>
<rect x="133.31" y="353.04" width="7.66" height="8.14" fill="#0e2626"/>
<rect x="155.38" y="353.04" width="7.66" height="8.14" fill="#2896a0"/>
<rect x="162.73" y="353.04" width="7.66" height="8.14" fill="#661717"/>
<rect x="170.09" y="353.04" width="7.66" height="8.14" fill="#661717"/>
<rect x="177.44" y="353.04" width="7.66" height="8.14" fill="#661717"/>
<rect x="0.90" y="360.88" width="7.66" height="8.14" fill="#a41e1e"/>
<rect x="8.26" y="360.88" width="7.66" height="8.14" fill="#661717"/>
<rect x="22.97" y="360.88" width="7.66" height="8.14" fill="#661717"/>
<rect x="37.68" y="360.88" width="7.66" height="8.14" fill="#a41e1e"/>
<rect x="45.04" y="360.88" width="7.66" height="8.14" fill="#2e1111"/>
<rect x="52.39" y="360.88" width="7.66" height="8.14" fill="#2e1111"/>
<rect x="67.10" y="360.88" width="7.66" height="8.14" fill="#661717"/>
<rect x="74.46" y="360.88" width="7.66" height="8.14" fill="#661717"/>
<rect x="81.82" y="360.88" width="7.66" height="8.14" fill="#a41e1e"/>
<rect x="89.17" y="360.88" width="7.66" height="8.14" fill="#ea2828"/>
<rect x="96.53" y="360.88" width="7.66" height="8.14" fill="#2e1111"/>
<rect x="103.88" y="360.88" width="7.66" height="8.14" fill="#2e1111"/>
<rect x="111.24" y="360.88" width="7.66" height="8.14" fill="#2e1111"/>
<rect x="118.60" y="360.88" width="7.66" height="8.14" fill="#2e1111"/>
<rect x="125.95" y="360.88" width="7.66" height="8.14" fill="#0e2626"/>
<rect x="140.66" y="360.88" width="7.66" height="8.14" fill="#2e1111"/>
<rect x="155.38" y="360.88" width="7.66" height="8.14" fill="#2896a0"/>
<rect x="162.73" y="360.88" width="7.66" height="8.14" fill="#ea2828"/>
<rect x="170.09" y="360.88" width="7.66" height="8.14" fill="#ea2828"/>
<rect x="177.44" y="360.88" width="7.66" height="8.14" fill="#ea2828"/>
<rect x="0.90" y="368.71" width="7.66" height="8.14" fill="#2e1111"/>
<rect x="8.26" y="368.71" width="7.66" height="8.14" fill="#661717"/>
<rect x="15.61" y="368.71" width="7.66" height="8.14" fill="#ea2828"/>
<rect x="22.97" y="368.71" width="7.66" height="8.14" fill="#a41e1e"/>
<rect x="37.68" y="368.71" width="7.66" height="8.14" fill="#a41e1e"/>
<rect x="45.04" y="368.71" width="7.66" height="8.14" fill="#2e1111"/>
<rect x="52.39" y="368.71" width="7.66" height="8.14" fill="#2e1111"/>
<rect x="59.75" y="368.71" width="7.66" height="8.14" fill="#661717"/>
<rect x="74.46" y="368.71" width="7.66" height="8.14" fill="#661717"/>
<rect x="81.82" y="368.71" width="7.66" height="8.14" fill="#a41e1e"/>
<rect x="89.17" y="368.71" width="7.66" height="8.14" fill="#ea2828"/>
<rect x="96.53" y="368.71" width="7.66" height="8.14" fill="#154c4c"/>
<rect x="103.88" y="368.71" width="7.66" height="8.14" fill="#2e1111"/>
<rect x="118.60" y="368.71" width="7.66" height="8.14" fill="#2e1111"/>
<rect x="125.95" y="368.71" width="7.66" height="8.14" fill="#154c4c"/>
<rect x="140.66" y="368.71" width="7.66" height="8.14" fill="#0e2626"/>
<rect x="155.38" y="368.71" width="7.66" height="8.14" fill="#0e2626"/>
<rect x="162.73" y="368.71" width="7.66" height="8.14" fill="#a41e1e"/>
<rect x="170.09" y="368.71" width="7.66" height="8.14" fill="#0e2626"/>
<rect x="177.44" y="368.71" width="7.66" height="8.14" fill="#a41e1e"/>
<rect x="8.26" y="376.55" width="7.66" height="8.14" fill="#661717"/>
<rect x="15.61" y="376.55" width="7.66" height="8.14" fill="#ea2828"/>
<rect x="22.97" y="376.55" width="7.66" height="8.14" fill="#154c4c"/>
<rect x="37.68" y="376.55" width="7.66" height="8.14" fill="#a41e1e"/>
<rect x="45.04" y="376.55" width="7.66" height="8.14" fill="#661717"/>
<rect x="52.39" y="376.55" width="7.66" height="8.14" fill="#661717"/>
<rect x="59.75" y="376.55" width="7.66" height="8.14" fill="#ea2828"/>
<rect x="67.10" y="376.55" width="7.66" height="8.14" fill="#0e2626"/>
<rect x="74.46" y="376.55" width="7.66" height="8.14" fill="#a41e1e"/>
<rect x="81.82" y="376.55" width="7.66" height="8.14" fill="#ea2828"/>
<rect x="89.17" y="376.55" width="7.66" height="8.14" fill="#ea2828"/>
<rect x="96.53" y="376.55" width="7.66" height="8.14" fill="#0e2626"/>
<rect x="103.88" y="376.55" width="7.66" height="8.14" fill="#2e1111"/>
<rect x="133.31" y="376.55" width="7.66" height="8.14" fill="#0e2626"/>
<rect x="148.02" y="376.55" width="7.66" height="8.14" fill="#70d2e2"/>
<rect x="155.38" y="376.55" width="7.66" height="8.14" fill="#2896a0"/>
<rect x="162.73" y="376.55" width="7.66" height="8.14" fill="#ea2828"/>
<rect x="170.09" y="376.55" width="7.66" height="8.14" fill="#ea2828"/>
<rect x="177.44" y="376.55" width="7.66" height="8.14" fill="#ea2828"/>
<rect x="8.26" y="384.39" width="7.66" height="8.14" fill="#2e1111"/>
<rect x="15.61" y="384.39" width="7.66" height="8.14" fill="#0e2626"/>
<rect x="22.97" y="384.39" width="7.66" height="8.14" fill="#661717"/>
<rect x="30.32" y="384.39" width="7.66" height="8.14" fill="#154c4c"/>
<rect x="37.68" y="384.39" width="7.66" height="8.14" fill="#ea2828"/>
<rect x="45.04" y="384.39" width="7.66" height="8.14" fill="#0e2626"/>
<rect x="52.39" y="384.39" width="7.66" height="8.14" fill="#2e1111"/>
<rect x="59.75" y="384.39" width="7.66" height="8.14" fill="#a41e1e"/>
<rect x="74.46" y="384.39" width="7.66" height="8.14" fill="#2e1111"/>
<rect x="81.82" y="384.39" width="7.66" height="8.14" fill="#a41e1e"/>
<rect x="89.17" y="384.39" width="7.66" height="8.14" fill="#661717"/>
<rect x="96.53" y="384.39" width="7.66" height="8.14" fill="#0e2626"/>
<rect x="111.24" y="384.39" width="7.66" height="8.14" fill="#2e1111"/>
<rect x="118.60" y="384.39" width="7.66" height="8.14" fill="#2e1111"/>
<rect x="133.31" y="384.39" width="7.66" height="8.14" fill="#154c4c"/>
<rect x="148.02" y="384.39" width="7.66" height="8.14" fill="#70d2e2"/>
<rect x="155.38" y="384.39" width="7.66" height="8.14" fill="#2896a0"/>
<rect x="162.73" y="384.39" width="7.66" height="8.14" fill="#ea2828"/>
<rect x="170.09" y="384.39" width="7.66" height="8.14" fill="#ea2828"/>
<rect x="177.44" y="384.39" width="7.66" height="8.14" fill="#ea2828"/>
<rect x="0.90" y="392.23" width="7.66" height="8.14" fill="#2e1111"/>
<rect x="8.26" y="392.23" width="7.66" height="8.14" fill="#2e1111"/>
<rect x="15.61" y="392.23" width="7.66" height="8.14" fill="#ea2828"/>
<rect x="22.97" y="392.23" width="7.66" height="8.14" fill="#a41e1e"/>
<rect x="37.68" y="392.23" width="7.66" height="8.14" fill="#ea2828"/>
<rect x="52.39" y="392.23" width="7.66" height="8.14" fill="#2e1111"/>
<rect x="59.75" y="392.23" width="7.66" height="8.14" fill="#ea2828"/>
<rect x="74.46" y="392.23" width="7.66" height="8.14" fill="#661717"/>
<rect x="81.82" y="392.23" width="7.66" height="8.14" fill="#a41e1e"/>
<rect x="89.17" y="392.23" width="7.66" height="8.14" fill="#ea2828"/>
<rect x="96.53" y="392.23" width="7.66" height="8.14" fill="#0e2626"/>
<rect x="111.24" y="392.23" width="7.66" height="8.14" fill="#2e1111"/>
<rect x="133.31" y="392.23" width="7.66" height="8.14" fill="#154c4c"/>
<rect x="155.38" y="392.23" width="7.66" height="8.14" fill="#70d2e2"/>
<rect x="162.73" y="392.23" width="7.66" height="8.14" fill="#ea2828"/>
<rect x="170.09" y="392.23" width="7.66" height="8.14" fill="#ea2828"/>
<rect x="177.44" y="392.23" width="7.66" height="8.14" fill="#ea2828"/>
<rect x="8.26" y="400.06" width="7.66" height="8.14" fill="#154c4c"/>
<rect x="15.61" y="400.06" width="7.66" height="8.14" fill="#154c4c"/>
<rect x="22.97" y="400.06" width="7.66" height="8.14" fill="#ea2828"/>
<rect x="30.32" y="400.06" width="7.66" height="8.14" fill="#154c4c"/>
<rect x="37.68" y="400.06" width="7.66" height="8.14" fill="#ea2828"/>
<rect x="45.04" y="400.06" width="7.66" height="8.14" fill="#a41e1e"/>
<rect x="52.39" y="400.06" width="7.66" height="8.14" fill="#a41e1e"/>
<rect x="59.75" y="400.06" width="7.66" height="8.14" fill="#a41e1e"/>
<rect x="67.10" y="400.06" width="7.66" height="8.14" fill="#a41e1e"/>
<rect x="74.46" y="400.06" width="7.66" height="8.14" fill="#a41e1e"/>
<rect x="81.82" y="400.06" width="7.66" height="8.14" fill="#ea2828"/>
<rect x="89.17" y="400.06" width="7.66" height="8.14" fill="#ea2828"/>
<rect x="96.53" y="400.06" width="7.66" height="8.14" fill="#154c4c"/>
<rect x="103.88" y="400.06" width="7.66" height="8.14" fill="#2e1111"/>
<rect x="111.24" y="400.06" width="7.66" height="8.14" fill="#0e2626"/>
<rect x="125.95" y="400.06" width="7.66" height="8.14" fill="#0e2626"/>
<rect x="133.31" y="400.06" width="7.66" height="8.14" fill="#2896a0"/>
<rect x="140.66" y="400.06" width="7.66" height="8.14" fill="#154c4c"/>
<rect x="148.02" y="400.06" width="7.66" height="8.14" fill="#a41e1e"/>
<rect x="155.38" y="400.06" width="7.66" height="8.14" fill="#70d2e2"/>
<rect x="162.73" y="400.06" width="7.66" height="8.14" fill="#ea2828"/>
<rect x="170.09" y="400.06" width="7.66" height="8.14" fill="#ea2828"/>
<rect x="177.44" y="400.06" width="7.66" height="8.14" fill="#ea2828"/>
<rect x="0.90" y="407.90" width="7.66" height="8.14" fill="#661717"/>
<rect x="15.61" y="407.90" width="7.66" height="8.14" fill="#ea2828"/>
<rect x="22.97" y="407.90" width="7.66" height="8.14" fill="#ea2828"/>
<rect x="30.32" y="407.90" width="7.66" height="8.14" fill="#2896a0"/>
<rect x="37.68" y="407.90" width="7.66" height="8.14" fill="#ea2828"/>
<rect x="59.75" y="407.90" width="7.66" height="8.14" fill="#ea2828"/>
<rect x="81.82" y="407.90" width="7.66" height="8.14" fill="#ea2828"/>
<rect x="89.17" y="407.90" width="7.66" height="8.14" fill="#ea2828"/>
<rect x="96.53" y="407.90" width="7.66" height="8.14" fill="#154c4c"/>
<rect x="111.24" y="407.90" width="7.66" height="8.14" fill="#661717"/>
<rect x="118.60" y="407.90" width="7.66" height="8.14" fill="#661717"/>
<rect x="133.31" y="407.90" width="7.66" height="8.14" fill="#154c4c"/>
<rect x="140.66" y="407.90" width="7.66" height="8.14" fill="#154c4c"/>
<rect x="155.38" y="407.90" width="7.66" height="8.14" fill="#2896a0"/>
<rect x="162.73" y="407.90" width="7.66" height="8.14" fill="#ea2828"/>
<rect x="170.09" y="407.90" width="7.66" height="8.14" fill="#ea2828"/>
<rect x="177.44" y="407.90" width="7.66" height="8.14" fill="#ea2828"/>
<rect x="0.90" y="415.74" width="7.66" height="8.14" fill="#661717"/>
<rect x="15.61" y="415.74" width="7.66" height="8.14" fill="#ea2828"/>
<rect x="22.97" y="415.74" width="7.66" height="8.14" fill="#a41e1e"/>
<rect x="30.32" y="415.74" width="7.66" height="8.14" fill="#0e2626"/>
<rect x="37.68" y="415.74" width="7.66" height="8.14" fill="#ea2828"/>
<rect x="45.04" y="415.74" width="7.66" height="8.14" fill="#661717"/>
<rect x="52.39" y="415.74" width="7.66" height="8.14" fill="#661717"/>
<rect x="59.75" y="415.74" width="7.66" height="8.14" fill="#661717"/>
<rect x="74.46" y="415.74" width="7.66" height="8.14" fill="#661717"/>
<rect x="81.82" y="415.74" width="7.66" height="8.14" fill="#a41e1e"/>
<rect x="89.17" y="415.74" width="7.66" height="8.14" fill="#ea2828"/>
<rect x="96.53" y="415.74" width="7.66" height="8.14" fill="#154c4c"/>
<rect x="111.24" y="415.74" width="7.66" height="8.14" fill="#2e1111"/>
<rect x="118.60" y="415.74" width="7.66" height="8.14" fill="#2e1111"/>
<rect x="133.31" y="415.74" width="7.66" height="8.14" fill="#0e2626"/>
<rect x="140.66" y="415.74" width="7.66" height="8.14" fill="#154c4c"/>
<rect x="155.38" y="415.74" width="7.66" height="8.14" fill="#2896a0"/>
<rect x="162.73" y="415.74" width="7.66" height="8.14" fill="#ea2828"/>
<rect x="170.09" y="415.74" width="7.66" height="8.14" fill="#ea2828"/>
<rect x="177.44" y="415.74" width="7.66" height="8.14" fill="#ea2828"/>
<rect x="0.90" y="423.58" width="7.66" height="8.14" fill="#a41e1e"/>
<rect x="8.26" y="423.58" width="7.66" height="8.14" fill="#2e1111"/>
<rect x="15.61" y="423.58" width="7.66" height="8.14" fill="#ea2828"/>
<rect x="22.97" y="423.58" width="7.66" height="8.14" fill="#661717"/>
<rect x="30.32" y="423.58" width="7.66" height="8.14" fill="#0e2626"/>
<rect x="37.68" y="423.58" width="7.66" height="8.14" fill="#ea2828"/>
<rect x="45.04" y="423.58" width="7.66" height="8.14" fill="#2e1111"/>
<rect x="59.75" y="423.58" width="7.66" height="8.14" fill="#a41e1e"/>
<rect x="74.46" y="423.58" width="7.66" height="8.14" fill="#661717"/>
<rect x="81.82" y="423.58" width="7.66" height="8.14" fill="#ea2828"/>
<rect x="89.17" y="423.58" width="7.66" height="8.14" fill="#ea2828"/>
<rect x="96.53" y="423.58" width="7.66" height="8.14" fill="#154c4c"/>
<rect x="103.88" y="423.58" width="7.66" height="8.14" fill="#2e1111"/>
<rect x="111.24" y="423.58" width="7.66" height="8.14" fill="#2e1111"/>
<rect x="118.60" y="423.58" width="7.66" height="8.14" fill="#2e1111"/>
<rect x="133.31" y="423.58" width="7.66" height="8.14" fill="#0e2626"/>
<rect x="140.66" y="423.58" width="7.66" height="8.14" fill="#0e2626"/>
<rect x="148.02" y="423.58" width="7.66" height="8.14" fill="#661717"/>
<rect x="155.38" y="423.58" width="7.66" height="8.14" fill="#2896a0"/>
<rect x="162.73" y="423.58" width="7.66" height="8.14" fill="#ea2828"/>
<rect x="170.09" y="423.58" width="7.66" height="8.14" fill="#ea2828"/>
<rect x="177.44" y="423.58" width="7.66" height="8.14" fill="#ea2828"/>
<rect x="0.90" y="431.41" width="7.66" height="8.14" fill="#a41e1e"/>
<rect x="8.26" y="431.41" width="7.66" height="8.14" fill="#2e1111"/>
<rect x="15.61" y="431.41" width="7.66" height="8.14" fill="#ea2828"/>
<rect x="22.97" y="431.41" width="7.66" height="8.14" fill="#ea2828"/>
<rect x="30.32" y="431.41" width="7.66" height="8.14" fill="#154c4c"/>
<rect x="37.68" y="431.41" width="7.66" height="8.14" fill="#ea2828"/>
<rect x="45.04" y="431.41" width="7.66" height="8.14" fill="#2e1111"/>
<rect x="59.75" y="431.41" width="7.66" height="8.14" fill="#661717"/>
<rect x="67.10" y="431.41" width="7.66" height="8.14" fill="#0e2626"/>
<rect x="74.46" y="431.41" width="7.66" height="8.14" fill="#2e1111"/>
<rect x="81.82" y="431.41" width="7.66" height="8.14" fill="#a41e1e"/>
<rect x="89.17" y="431.41" width="7.66" height="8.14" fill="#ea2828"/>
<rect x="96.53" y="431.41" width="7.66" height="8.14" fill="#0e2626"/>
<rect x="111.24" y="431.41" width="7.66" height="8.14" fill="#2e1111"/>
<rect x="118.60" y="431.41" width="7.66" height="8.14" fill="#661717"/>
<rect x="125.95" y="431.41" width="7.66" height="8.14" fill="#0e2626"/>
<rect x="133.31" y="431.41" width="7.66" height="8.14" fill="#0e2626"/>
<rect x="140.66" y="431.41" width="7.66" height="8.14" fill="#0e2626"/>
<rect x="148.02" y="431.41" width="7.66" height="8.14" fill="#661717"/>
<rect x="155.38" y="431.41" width="7.66" height="8.14" fill="#2896a0"/>
<rect x="162.73" y="431.41" width="7.66" height="8.14" fill="#ea2828"/>
<rect x="170.09" y="431.41" width="7.66" height="8.14" fill="#ea2828"/>
<rect x="177.44" y="431.41" width="7.66" height="8.14" fill="#ea2828"/>
<rect x="0.90" y="439.25" width="7.66" height="8.14" fill="#a41e1e"/>
<rect x="8.26" y="439.25" width="7.66" height="8.14" fill="#2e1111"/>
<rect x="15.61" y="439.25" width="7.66" height="8.14" fill="#ea2828"/>
<rect x="22.97" y="439.25" width="7.66" height="8.14" fill="#ea2828"/>
<rect x="30.32" y="439.25" width="7.66" height="8.14" fill="#154c4c"/>
<rect x="37.68" y="439.25" width="7.66" height="8.14" fill="#ea2828"/>
<rect x="45.04" y="439.25" width="7.66" height="8.14" fill="#2e1111"/>
<rect x="52.39" y="439.25" width="7.66" height="8.14" fill="#2e1111"/>
<rect x="59.75" y="439.25" width="7.66" height="8.14" fill="#ea2828"/>
<rect x="74.46" y="439.25" width="7.66" height="8.14" fill="#661717"/>
<rect x="81.82" y="439.25" width="7.66" height="8.14" fill="#ea2828"/>
<rect x="89.17" y="439.25" width="7.66" height="8.14" fill="#ea2828"/>
<rect x="96.53" y="439.25" width="7.66" height="8.14" fill="#0e2626"/>
<rect x="111.24" y="439.25" width="7.66" height="8.14" fill="#2e1111"/>
<rect x="118.60" y="439.25" width="7.66" height="8.14" fill="#2e1111"/>
<rect x="125.95" y="439.25" width="7.66" height="8.14" fill="#154c4c"/>
<rect x="133.31" y="439.25" width="7.66" height="8.14" fill="#154c4c"/>
<rect x="140.66" y="439.25" width="7.66" height="8.14" fill="#0e2626"/>
<rect x="148.02" y="439.25" width="7.66" height="8.14" fill="#661717"/>
<rect x="155.38" y="439.25" width="7.66" height="8.14" fill="#2896a0"/>
<rect x="162.73" y="439.25" width="7.66" height="8.14" fill="#ea2828"/>
<rect x="170.09" y="439.25" width="7.66" height="8.14" fill="#ea2828"/>
<rect x="177.44" y="439.25" width="7.66" height="8.14" fill="#ea2828"/>
<rect x="0.90" y="447.09" width="7.66" height="8.14" fill="#2e1111"/>
<rect x="8.26" y="447.09" width="7.66" height="8.14" fill="#2e1111"/>
<rect x="15.61" y="447.09" width="7.66" height="8.14" fill="#ea2828"/>
<rect x="22.97" y="447.09" width="7.66" height="8.14" fill="#a41e1e"/>
<rect x="30.32" y="447.09" width="7.66" height="8.14" fill="#0e2626"/>
<rect x="37.68" y="447.09" width="7.66" height="8.14" fill="#ea2828"/>
<rect x="45.04" y="447.09" width="7.66" height="8.14" fill="#0e2626"/>
<rect x="52.39" y="447.09" width="7.66" height="8.14" fill="#2e1111"/>
<rect x="59.75" y="447.09" width="7.66" height="8.14" fill="#661717"/>
<rect x="74.46" y="447.09" width="7.66" height="8.14" fill="#661717"/>
<rect x="89.17" y="447.09" width="7.66" height="8.14" fill="#ea2828"/>
<rect x="111.24" y="447.09" width="7.66" height="8.14" fill="#ea2828"/>
<rect x="118.60" y="447.09" width="7.66" height="8.14" fill="#ea2828"/>
<rect x="133.31" y="447.09" width="7.66" height="8.14" fill="#0e2626"/>
<rect x="155.38" y="447.09" width="7.66" height="8.14" fill="#2896a0"/>
<rect x="162.73" y="447.09" width="7.66" height="8.14" fill="#ea2828"/>
<rect x="170.09" y="447.09" width="7.66" height="8.14" fill="#ea2828"/>
<rect x="177.44" y="447.09" width="7.66" height="8.14" fill="#ea2828"/>
<rect x="0.90" y="454.93" width="7.66" height="8.14" fill="#2e1111"/>
<rect x="8.26" y="454.93" width="7.66" height="8.14" fill="#a41e1e"/>
<rect x="15.61" y="454.93" width="7.66" height="8.14" fill="#a41e1e"/>
<rect x="22.97" y="454.93" width="7.66" height="8.14" fill="#a41e1e"/>
<rect x="30.32" y="454.93" width="7.66" height="8.14" fill="#0e2626"/>
<rect x="37.68" y="454.93" width="7.66" height="8.14" fill="#ea2828"/>
<rect x="45.04" y="454.93" width="7.66" height="8.14" fill="#0e2626"/>
<rect x="59.75" y="454.93" width="7.66" height="8.14" fill="#a41e1e"/>
<rect x="67.10" y="454.93" width="7.66" height="8.14" fill="#2e1111"/>
<rect x="74.46" y="454.93" width="7.66" height="8.14" fill="#661717"/>
<rect x="81.82" y="454.93" width="7.66" height="8.14" fill="#a41e1e"/>
<rect x="89.17" y="454.93" width="7.66" height="8.14" fill="#ea2828"/>
<rect x="96.53" y="454.93" width="7.66" height="8.14" fill="#0e2626"/>
<rect x="103.88" y="454.93" width="7.66" height="8.14" fill="#0e2626"/>
<rect x="111.24" y="454.93" width="7.66" height="8.14" fill="#2e1111"/>
<rect x="118.60" y="454.93" width="7.66" height="8.14" fill="#2e1111"/>
<rect x="133.31" y="454.93" width="7.66" height="8.14" fill="#0e2626"/>
<rect x="148.02" y="454.93" width="7.66" height="8.14" fill="#2e1111"/>
<rect x="155.38" y="454.93" width="7.66" height="8.14" fill="#70d2e2"/>
<rect x="162.73" y="454.93" width="7.66" height="8.14" fill="#ea2828"/>
<rect x="170.09" y="454.93" width="7.66" height="8.14" fill="#ea2828"/>
<rect x="177.44" y="454.93" width="7.66" height="8.14" fill="#ea2828"/>
<rect x="0.90" y="462.76" width="7.66" height="8.14" fill="#0e2626"/>
<rect x="8.26" y="462.76" width="7.66" height="8.14" fill="#a41e1e"/>
<rect x="15.61" y="462.76" width="7.66" height="8.14" fill="#ea2828"/>
<rect x="22.97" y="462.76" width="7.66" height="8.14" fill="#ea2828"/>
<rect x="37.68" y="462.76" width="7.66" height="8.14" fill="#ea2828"/>
<rect x="45.04" y="462.76" width="7.66" height="8.14" fill="#0e2626"/>
<rect x="52.39" y="462.76" width="7.66" height="8.14" fill="#2e1111"/>
<rect x="59.75" y="462.76" width="7.66" height="8.14" fill="#ea2828"/>
<rect x="67.10" y="462.76" width="7.66" height="8.14" fill="#2e1111"/>
<rect x="74.46" y="462.76" width="7.66" height="8.14" fill="#a41e1e"/>
<rect x="81.82" y="462.76" width="7.66" height="8.14" fill="#ea2828"/>
<rect x="89.17" y="462.76" width="7.66" height="8.14" fill="#ea2828"/>
<rect x="111.24" y="462.76" width="7.66" height="8.14" fill="#661717"/>
<rect x="118.60" y="462.76" width="7.66" height="8.14" fill="#661717"/>
<rect x="125.95" y="462.76" width="7.66" height="8.14" fill="#0e2626"/>
<rect x="133.31" y="462.76" width="7.66" height="8.14" fill="#154c4c"/>
<rect x="148.02" y="462.76" width="7.66" height="8.14" fill="#2e1111"/>
<rect x="155.38" y="462.76" width="7.66" height="8.14" fill="#70d2e2"/>
<rect x="162.73" y="462.76" width="7.66" height="8.14" fill="#ea2828"/>
<rect x="170.09" y="462.76" width="7.66" height="8.14" fill="#ea2828"/>
<rect x="177.44" y="462.76" width="7.66" height="8.14" fill="#ea2828"/>
</g>
<text x="17.50" y="201.20" font-size="8.3" fill="#333" stroke="#333" stroke-width="0.18" text-anchor="middle">Cell</text>
<text x="17.50" y="211.80" font-size="8.3" fill="#333" stroke="#333" stroke-width="0.18" text-anchor="middle">invasion</text>
<text x="65.50" y="201.20" font-size="8.3" fill="#333" stroke="#333" stroke-width="0.18" text-anchor="middle">PI3K</text>
<text x="65.50" y="211.80" font-size="8.3" fill="#333" stroke="#333" stroke-width="0.18" text-anchor="middle">pathway</text>
<text x="114.60" y="201.20" font-size="8.3" fill="#333" stroke="#333" stroke-width="0.18" text-anchor="middle">MAPK</text>
<text x="114.60" y="211.80" font-size="8.3" fill="#333" stroke="#333" stroke-width="0.18" text-anchor="middle">pathway</text>
<text x="157.30" y="201.20" font-size="8.3" fill="#333" stroke="#333" stroke-width="0.18" text-anchor="middle">Cell</text>
<text x="157.30" y="211.80" font-size="8.3" fill="#333" stroke="#333" stroke-width="0.18" text-anchor="middle">cycle</text>
<path d="M1.7 216.3H28.9" stroke="#555" stroke-width="1"/>
<path d="M33 216.3H95.4" stroke="#555" stroke-width="1"/>
<path d="M97.7 216.3H126.5" stroke="#555" stroke-width="1"/>
<path d="M128.5 216.3H183.8" stroke="#555" stroke-width="1"/>
<text x="0" y="0" font-size="7.6" fill="#222" stroke="#222" stroke-width="0.18" text-anchor="start" transform="translate(188.60 224.90) scale(1 0.86)">Parental</text>
<text x="0" y="0" font-size="7.6" fill="#222" stroke="#222" stroke-width="0.18" text-anchor="start" transform="translate(188.60 232.77) scale(1 0.86)">GFP-1</text>
<text x="0" y="0" font-size="7.6" fill="#222" stroke="#222" stroke-width="0.18" text-anchor="start" transform="translate(188.60 240.64) scale(1 0.86)">GFP-2</text>
<text x="0" y="0" font-size="7.6" fill="#222" stroke="#222" stroke-width="0.18" text-anchor="start" transform="translate(188.60 248.51) scale(1 0.86)">WT</text>
<text x="0" y="0" font-size="7.6" fill="#222" stroke="#222" stroke-width="0.18" text-anchor="start" transform="translate(188.60 256.38) scale(1 0.86)">T1025T</text>
<text x="0" y="0" font-size="7.6" fill="#222" stroke="#222" stroke-width="0.18" text-anchor="start" transform="translate(188.60 264.25) scale(1 0.86)">E542E</text>
<text x="0" y="0" font-size="7.6" fill="#222" stroke="#222" stroke-width="0.18" text-anchor="start" transform="translate(188.60 272.13) scale(1 0.86)">E545E</text>
<text x="0" y="0" font-size="7.6" fill="#222" stroke="#222" stroke-width="0.18" text-anchor="start" transform="translate(188.60 280.00) scale(1 0.86)">H1047H</text>
<text x="0" y="0" font-size="7.6" fill="#222" stroke="#222" stroke-width="0.18" text-anchor="start" transform="translate(188.60 287.87) scale(1 0.86)">p.I31M</text>
<text x="0" y="0" font-size="7.6" fill="#222" stroke="#222" stroke-width="0.18" text-anchor="start" transform="translate(188.60 295.74) scale(1 0.86)">p.E542V</text>
<text x="0" y="0" font-size="7.6" fill="#222" stroke="#222" stroke-width="0.18" text-anchor="start" transform="translate(188.60 303.61) scale(1 0.86)">p.H701P</text>
<text x="0" y="0" font-size="7.6" fill="#222" stroke="#222" stroke-width="0.18" text-anchor="start" transform="translate(188.60 311.48) scale(1 0.86)">p.A1020V</text>
<text x="0" y="0" font-size="7.6" fill="#222" stroke="#222" stroke-width="0.18" text-anchor="start" transform="translate(188.60 319.35) scale(1 0.86)">p.Q546E</text>
<text x="0" y="0" font-size="7.6" fill="#222" stroke="#222" stroke-width="0.18" text-anchor="start" transform="translate(188.60 327.22) scale(1 0.86)">p.M1043I</text>
<text x="0" y="0" font-size="7.6" fill="#222" stroke="#222" stroke-width="0.18" text-anchor="start" transform="translate(188.60 335.09) scale(1 0.86)">p.M1043V</text>
<text x="0" y="0" font-size="7.6" fill="#222" stroke="#222" stroke-width="0.18" text-anchor="start" transform="translate(188.60 342.97) scale(1 0.86)">p.Q546P</text>
<text x="0" y="0" font-size="7.6" fill="#222" stroke="#222" stroke-width="0.18" text-anchor="start" transform="translate(188.60 350.84) scale(1 0.86)">p.E545Q</text>
<text x="0" y="0" font-size="7.6" fill="#222" stroke="#222" stroke-width="0.18" text-anchor="start" transform="translate(188.60 358.71) scale(1 0.86)">p.P539R</text>
<text x="0" y="0" font-size="7.6" fill="#222" stroke="#222" stroke-width="0.18" text-anchor="start" transform="translate(188.60 366.58) scale(1 0.86)">p.K111N</text>
<text x="0" y="0" font-size="7.6" fill="#222" stroke="#222" stroke-width="0.18" text-anchor="start" transform="translate(188.60 374.45) scale(1 0.86)">p.H1047Y</text>
<text x="0" y="0" font-size="7.6" fill="#222" stroke="#222" stroke-width="0.18" text-anchor="start" transform="translate(188.60 382.32) scale(1 0.86)">p.E453K</text>
<text x="0" y="0" font-size="7.6" fill="#222" stroke="#222" stroke-width="0.18" text-anchor="start" transform="translate(188.60 390.19) scale(1 0.86)">p.Q546R</text>
<text x="0" y="0" font-size="7.6" fill="#222" stroke="#222" stroke-width="0.18" text-anchor="start" transform="translate(188.60 398.06) scale(1 0.86)">p.G1049R</text>
<text x="0" y="0" font-size="7.6" fill="#222" stroke="#222" stroke-width="0.18" text-anchor="start" transform="translate(188.60 405.93) scale(1 0.86)">p.Q546K</text>
<text x="0" y="0" font-size="7.6" fill="#222" stroke="#222" stroke-width="0.18" text-anchor="start" transform="translate(188.60 413.80) scale(1 0.86)">p.E545G</text>
<text x="0" y="0" font-size="7.6" fill="#222" stroke="#222" stroke-width="0.18" text-anchor="start" transform="translate(188.60 421.68) scale(1 0.86)">p.C420R</text>
<text x="0" y="0" font-size="7.6" fill="#222" stroke="#222" stroke-width="0.18" text-anchor="start" transform="translate(188.60 429.55) scale(1 0.86)">p.N345K</text>
<text x="0" y="0" font-size="7.6" fill="#222" stroke="#222" stroke-width="0.18" text-anchor="start" transform="translate(188.60 437.42) scale(1 0.86)">p.E545A</text>
<text x="0" y="0" font-size="7.6" fill="#222" stroke="#222" stroke-width="0.18" text-anchor="start" transform="translate(188.60 445.29) scale(1 0.86)">p.H1047L</text>
<text x="0" y="0" font-size="7.6" fill="#222" stroke="#222" stroke-width="0.18" text-anchor="start" transform="translate(188.60 453.16) scale(1 0.86)">p.E542K</text>
<text x="0" y="0" font-size="7.6" fill="#222" stroke="#222" stroke-width="0.18" text-anchor="start" transform="translate(188.60 461.03) scale(1 0.86)">p.E545K</text>
<text x="0" y="0" font-size="7.6" fill="#222" stroke="#222" stroke-width="0.18" text-anchor="start" transform="translate(188.60 468.90) scale(1 0.86)">p.H1047R</text>
<text x="0" y="0" font-size="7.85" fill="#222" stroke="#222" stroke-width="0.18" text-anchor="start" transform="translate(2.28 473.40) rotate(90) scale(1 0.85)">Claudin-7</text>
<text x="0" y="0" font-size="7.85" fill="#222" stroke="#222" stroke-width="0.18" text-anchor="start" transform="translate(9.63 473.40) rotate(90) scale(1 0.85)">Rab25</text>
<text x="0" y="0" font-size="7.85" fill="#222" stroke="#222" stroke-width="0.18" text-anchor="start" transform="translate(16.99 473.40) rotate(90) scale(1 0.85)">Caveolin-1</text>
<text x="0" y="0" font-size="7.85" fill="#222" stroke="#222" stroke-width="0.18" text-anchor="start" transform="translate(24.35 473.40) rotate(90) scale(1 0.85)">Myosin-IIa_pS1943</text>
<text x="0" y="0" font-size="7.85" fill="#222" stroke="#222" stroke-width="0.18" text-anchor="start" transform="translate(31.70 473.40) rotate(90) scale(1 0.85)">Akt_pT308</text>
<text x="0" y="0" font-size="7.85" fill="#222" stroke="#222" stroke-width="0.18" text-anchor="start" transform="translate(39.06 473.40) rotate(90) scale(1 0.85)">PTEN</text>
<text x="0" y="0" font-size="7.85" fill="#222" stroke="#222" stroke-width="0.18" text-anchor="start" transform="translate(46.41 473.40) rotate(90) scale(1 0.85)">P70-S6K_pT389</text>
<text x="0" y="0" font-size="7.85" fill="#222" stroke="#222" stroke-width="0.18" text-anchor="start" transform="translate(53.77 473.40) rotate(90) scale(1 0.85)">PDK1_pS241</text>
<text x="0" y="0" font-size="7.85" fill="#222" stroke="#222" stroke-width="0.18" text-anchor="start" transform="translate(61.13 473.40) rotate(90) scale(1 0.85)">NDRG1_pT346</text>
<text x="0" y="0" font-size="7.85" fill="#222" stroke="#222" stroke-width="0.18" text-anchor="start" transform="translate(68.48 473.40) rotate(90) scale(1 0.85)">4E-BP1_pS65</text>
<text x="0" y="0" font-size="7.85" fill="#222" stroke="#222" stroke-width="0.18" text-anchor="start" transform="translate(75.84 473.40) rotate(90) scale(1 0.85)">S6_pS240_S244</text>
<text x="0" y="0" font-size="7.85" fill="#222" stroke="#222" stroke-width="0.18" text-anchor="start" transform="translate(83.19 473.40) rotate(90) scale(1 0.85)">4E-BP1_pT37_T46</text>
<text x="0" y="0" font-size="7.85" fill="#222" stroke="#222" stroke-width="0.18" text-anchor="start" transform="translate(90.55 473.40) rotate(90) scale(1 0.85)">S6_pS235_S236</text>
<text x="0" y="0" font-size="7.85" fill="#222" stroke="#222" stroke-width="0.18" text-anchor="start" transform="translate(97.91 473.40) rotate(90) scale(1 0.85)">JNK_pT183_Y185</text>
<text x="0" y="0" font-size="7.85" fill="#222" stroke="#222" stroke-width="0.18" text-anchor="start" transform="translate(105.26 473.40) rotate(90) scale(1 0.85)">MEK1_pS217_S221</text>
<text x="0" y="0" font-size="7.85" fill="#222" stroke="#222" stroke-width="0.18" text-anchor="start" transform="translate(112.62 473.40) rotate(90) scale(1 0.85)">EGFR_pY1068</text>
<text x="0" y="0" font-size="7.85" fill="#222" stroke="#222" stroke-width="0.18" text-anchor="start" transform="translate(119.97 473.40) rotate(90) scale(1 0.85)">HER2_pY1248</text>
<text x="0" y="0" font-size="7.85" fill="#222" stroke="#222" stroke-width="0.18" text-anchor="start" transform="translate(127.33 473.40) rotate(90) scale(1 0.85)">Chk2_pT68</text>
<text x="0" y="0" font-size="7.85" fill="#222" stroke="#222" stroke-width="0.18" text-anchor="start" transform="translate(134.69 473.40) rotate(90) scale(1 0.85)">ATM_pS1981</text>
<text x="0" y="0" font-size="7.85" fill="#222" stroke="#222" stroke-width="0.18" text-anchor="start" transform="translate(142.04 473.40) rotate(90) scale(1 0.85)">Chk1_pS345</text>
<text x="0" y="0" font-size="7.85" fill="#222" stroke="#222" stroke-width="0.18" text-anchor="start" transform="translate(149.40 473.40) rotate(90) scale(1 0.85)">p21</text>
<text x="0" y="0" font-size="7.85" fill="#222" stroke="#222" stroke-width="0.18" text-anchor="start" transform="translate(156.75 473.40) rotate(90) scale(1 0.85)">p27-Kip-1</text>
<text x="0" y="0" font-size="7.85" fill="#222" stroke="#222" stroke-width="0.18" text-anchor="start" transform="translate(164.11 473.40) rotate(90) scale(1 0.85)">FoxM1</text>
<text x="0" y="0" font-size="7.85" fill="#222" stroke="#222" stroke-width="0.18" text-anchor="start" transform="translate(171.47 473.40) rotate(90) scale(1 0.85)">Cyclin-B1</text>
<text x="0" y="0" font-size="7.85" fill="#222" stroke="#222" stroke-width="0.18" text-anchor="start" transform="translate(178.82 473.40) rotate(90) scale(1 0.85)">Rb_pS807_S811</text>
<rect x="189.4" y="473.4" width="27.1" height="8.7" fill="#e02222"/>
<text x="202.40" y="481.00" font-size="9.6" fill="#3a0a0a" stroke="#3a0a0a" stroke-width="0.18" text-anchor="middle" textLength="21" lengthAdjust="spacingAndGlyphs">high</text>
<rect x="189.4" y="485.6" width="27.1" height="8.2" fill="#86cfe0"/>
<text x="202.60" y="492.80" font-size="9.6" fill="#123040" stroke="#123040" stroke-width="0.18" text-anchor="middle" textLength="15.5" lengthAdjust="spacingAndGlyphs">low</text>
<g stroke="#111" stroke-width="1.3" fill="none">
<path d="M251.30 8.00V74.00H371.00"/>
<path d="M248.70 74.00H251.30"/>
<path d="M248.70 46.50H251.30"/>
<path d="M248.70 19.00H251.30"/>
<path d="M260.50 74.00V76.60"/>
<path d="M280.50 74.00V76.60"/>
<path d="M300.50 74.00V76.60"/>
<path d="M320.50 74.00V76.60"/>
<path d="M340.50 74.00V76.60"/>
<path d="M360.50 74.00V76.60"/>
</g>
<text x="247.90" y="76.70" font-size="7.9" font-weight="bold" fill="#222" stroke="#222" stroke-width="0.08" text-anchor="end">0.0</text>
<text x="247.90" y="49.20" font-size="7.9" font-weight="bold" fill="#222" stroke="#222" stroke-width="0.08" text-anchor="end">0.5</text>
<text x="247.90" y="21.70" font-size="7.9" font-weight="bold" fill="#222" stroke="#222" stroke-width="0.08" text-anchor="end">1.0</text>
<text x="260.50" y="84.20" font-size="7.2" fill="#333" text-anchor="middle">10<tspan font-size="4.46" dy="-3">-4</tspan></text>
<text x="280.50" y="84.20" font-size="7.2" fill="#333" text-anchor="middle">10<tspan font-size="4.46" dy="-3">-3</tspan></text>
<text x="300.50" y="84.20" font-size="7.2" fill="#333" text-anchor="middle">10<tspan font-size="4.46" dy="-3">-2</tspan></text>
<text x="320.50" y="84.20" font-size="7.2" fill="#333" text-anchor="middle">10<tspan font-size="4.46" dy="-3">-1</tspan></text>
<text x="340.50" y="84.20" font-size="7.4" fill="#333" stroke="#333" stroke-width="0.18" text-anchor="middle">1.0</text>
<text x="360.50" y="84.20" font-size="7.4" fill="#333" stroke="#333" stroke-width="0.18" text-anchor="middle">10</text>
<text x="310.50" y="93.20" font-size="7.4" font-weight="bold" fill="#222" stroke="#222" stroke-width="0.08" text-anchor="middle">(&#181;mol/L)</text>
<text x="233.60" y="45.00" font-size="8.6" fill="#3a3a3a" stroke="#3a3a3a" stroke-width="0.18" text-anchor="middle" transform="rotate(-90 233.6 45)" textLength="27.8" lengthAdjust="spacingAndGlyphs">Survival</text>
<text x="254.00" y="70.80" font-size="8.9" fill="#333" stroke="#333" stroke-width="0.18" text-anchor="start">BEZ235 (PI3K/mTOR inh)</text>
<path d="M260.50 19.00L280.50 21.75L300.50 27.25L320.50 49.25L340.50 52.00L360.50 53.10" stroke="#f2b872" stroke-width="1.35" fill="none"/>
<path d="M260.50 19.00L280.50 24.50L300.50 30.00L320.50 48.15L340.50 52.55L360.50 52.55" stroke="#2a8a56" stroke-width="1.35" fill="none"/>
<path d="M260.50 19.00L280.50 24.50L300.50 28.90L320.50 49.80L340.50 54.75L360.50 54.20" stroke="#3a58a6" stroke-width="1.35" fill="none"/>
<path d="M260.50 19.00L280.50 22.85L300.50 27.80L320.50 46.50L340.50 50.90L360.50 52.00" stroke="#8a8a38" stroke-width="1.35" fill="none"/>
<path d="M260.50 19.00L280.50 22.30L300.50 28.35L320.50 46.50L340.50 50.90L360.50 51.45" stroke="#6a2c8c" stroke-width="1.35" fill="none"/>
<path d="M260.50 19.00L280.50 15.70L300.50 13.50L320.50 21.20L340.50 28.90L360.50 31.65" stroke="#74903c" stroke-width="1.35" fill="none"/>
<path d="M260.50 19.00L280.50 15.70L300.50 15.70L320.50 21.20L340.50 30.55L360.50 34.95" stroke="#f08a2c" stroke-width="1.35" fill="none"/>
<path d="M260.50 19.00L280.50 21.20L300.50 26.70L320.50 43.75L340.50 49.25L360.50 50.35" stroke="#d24496" stroke-width="1.35" fill="none"/>
<path d="M260.50 19.00L280.50 19.00L300.50 19.55L320.50 21.20L340.50 25.05L360.50 27.25" stroke="#e23434" stroke-width="1.35" fill="none"/>
<path d="M260.50 19.00L280.50 20.65L300.50 26.70L320.50 42.10L340.50 48.15L360.50 49.25" stroke="#e22a7c" stroke-width="1.35" fill="none"/>
<path d="M260.50 12.95V25.05M259.00 12.95H262.00M259.00 25.05H262.00" stroke="#f2b872" stroke-width="0.9" fill="none"/>
<path d="M258.40 16.90L262.60 21.10M262.60 16.90L258.40 21.10" stroke="#f2b872" stroke-width="1.2"/>
<path d="M280.50 15.98V27.52M279.00 15.98H282.00M279.00 27.52H282.00" stroke="#f2b872" stroke-width="0.9" fill="none"/>
<path d="M278.40 19.65L282.60 23.85M282.60 19.65L278.40 23.85" stroke="#f2b872" stroke-width="1.2"/>
<path d="M300.50 23.95V30.55M299.00 23.95H302.00M299.00 30.55H302.00" stroke="#f2b872" stroke-width="0.9" fill="none"/>
<path d="M298.40 25.15L302.60 29.35M302.60 25.15L298.40 29.35" stroke="#f2b872" stroke-width="1.2"/>
<path d="M320.50 44.30V54.20M319.00 44.30H322.00M319.00 54.20H322.00" stroke="#f2b872" stroke-width="0.9" fill="none"/>
<path d="M318.40 47.15L322.60 51.35M322.60 47.15L318.40 51.35" stroke="#f2b872" stroke-width="1.2"/>
<path d="M340.50 49.52V54.48M339.00 49.52H342.00M339.00 54.48H342.00" stroke="#f2b872" stroke-width="0.9" fill="none"/>
<path d="M338.40 49.90L342.60 54.10M342.60 49.90L338.40 54.10" stroke="#f2b872" stroke-width="1.2"/>
<path d="M360.50 48.98V57.23M359.00 48.98H362.00M359.00 57.23H362.00" stroke="#f2b872" stroke-width="0.9" fill="none"/>
<path d="M358.40 51.00L362.60 55.20M362.60 51.00L358.40 55.20" stroke="#f2b872" stroke-width="1.2"/>
<path d="M260.50 12.95V25.05M259.00 12.95H262.00M259.00 25.05H262.00" stroke="#2a8a56" stroke-width="0.9" fill="none"/>
<path d="M258.10 20.80L260.50 16.60L262.90 20.80Z" fill="#2a8a56"/>
<path d="M280.50 18.73V30.27M279.00 18.73H282.00M279.00 30.27H282.00" stroke="#2a8a56" stroke-width="0.9" fill="none"/>
<path d="M278.10 26.30L280.50 22.10L282.90 26.30Z" fill="#2a8a56"/>
<path d="M300.50 26.70V33.30M299.00 26.70H302.00M299.00 33.30H302.00" stroke="#2a8a56" stroke-width="0.9" fill="none"/>
<path d="M298.10 31.80L300.50 27.60L302.90 31.80Z" fill="#2a8a56"/>
<path d="M320.50 43.20V53.10M319.00 43.20H322.00M319.00 53.10H322.00" stroke="#2a8a56" stroke-width="0.9" fill="none"/>
<path d="M318.10 49.95L320.50 45.75L322.90 49.95Z" fill="#2a8a56"/>
<path d="M340.50 50.07V55.02M339.00 50.07H342.00M339.00 55.02H342.00" stroke="#2a8a56" stroke-width="0.9" fill="none"/>
<path d="M338.10 54.35L340.50 50.15L342.90 54.35Z" fill="#2a8a56"/>
<path d="M360.50 48.42V56.67M359.00 48.42H362.00M359.00 56.67H362.00" stroke="#2a8a56" stroke-width="0.9" fill="none"/>
<path d="M358.10 54.35L360.50 50.15L362.90 54.35Z" fill="#2a8a56"/>
<path d="M260.50 12.95V25.05M259.00 12.95H262.00M259.00 25.05H262.00" stroke="#3a58a6" stroke-width="0.9" fill="none"/>
<rect x="258.40" y="16.90" width="4.2" height="4.2" fill="#3a58a6"/>
<path d="M280.50 21.20V27.80M279.00 21.20H282.00M279.00 27.80H282.00" stroke="#3a58a6" stroke-width="0.9" fill="none"/>
<rect x="278.40" y="22.40" width="4.2" height="4.2" fill="#3a58a6"/>
<path d="M300.50 23.95V33.85M299.00 23.95H302.00M299.00 33.85H302.00" stroke="#3a58a6" stroke-width="0.9" fill="none"/>
<rect x="298.40" y="26.80" width="4.2" height="4.2" fill="#3a58a6"/>
<path d="M320.50 47.32V52.27M319.00 47.32H322.00M319.00 52.27H322.00" stroke="#3a58a6" stroke-width="0.9" fill="none"/>
<rect x="318.40" y="47.70" width="4.2" height="4.2" fill="#3a58a6"/>
<path d="M340.50 50.62V58.88M339.00 50.62H342.00M339.00 58.88H342.00" stroke="#3a58a6" stroke-width="0.9" fill="none"/>
<rect x="338.40" y="52.65" width="4.2" height="4.2" fill="#3a58a6"/>
<path d="M360.50 48.43V59.98M359.00 48.43H362.00M359.00 59.98H362.00" stroke="#3a58a6" stroke-width="0.9" fill="none"/>
<rect x="358.40" y="52.10" width="4.2" height="4.2" fill="#3a58a6"/>
<path d="M260.50 12.95V25.05M259.00 12.95H262.00M259.00 25.05H262.00" stroke="#8a8a38" stroke-width="0.9" fill="none"/>
<path d="M260.50 16.50L263.00 19.00L260.50 21.50L258.00 19.00Z" fill="#8a8a38"/>
<path d="M280.50 19.55V26.15M279.00 19.55H282.00M279.00 26.15H282.00" stroke="#8a8a38" stroke-width="0.9" fill="none"/>
<path d="M280.50 20.35L283.00 22.85L280.50 25.35L278.00 22.85Z" fill="#8a8a38"/>
<path d="M300.50 22.85V32.75M299.00 22.85H302.00M299.00 32.75H302.00" stroke="#8a8a38" stroke-width="0.9" fill="none"/>
<path d="M300.50 25.30L303.00 27.80L300.50 30.30L298.00 27.80Z" fill="#8a8a38"/>
<path d="M320.50 44.02V48.98M319.00 44.02H322.00M319.00 48.98H322.00" stroke="#8a8a38" stroke-width="0.9" fill="none"/>
<path d="M320.50 44.00L323.00 46.50L320.50 49.00L318.00 46.50Z" fill="#8a8a38"/>
<path d="M340.50 46.78V55.03M339.00 46.78H342.00M339.00 55.03H342.00" stroke="#8a8a38" stroke-width="0.9" fill="none"/>
<path d="M340.50 48.40L343.00 50.90L340.50 53.40L338.00 50.90Z" fill="#8a8a38"/>
<path d="M360.50 46.23V57.77M359.00 46.23H362.00M359.00 57.77H362.00" stroke="#8a8a38" stroke-width="0.9" fill="none"/>
<path d="M360.50 49.50L363.00 52.00L360.50 54.50L358.00 52.00Z" fill="#8a8a38"/>
<path d="M260.50 12.95V25.05M259.00 12.95H262.00M259.00 25.05H262.00" stroke="#6a2c8c" stroke-width="0.9" fill="none"/>
<circle cx="260.50" cy="19.00" r="2.1" fill="#6a2c8c"/>
<path d="M280.50 19.00V25.60M279.00 19.00H282.00M279.00 25.60H282.00" stroke="#6a2c8c" stroke-width="0.9" fill="none"/>
<circle cx="280.50" cy="22.30" r="2.1" fill="#6a2c8c"/>
<path d="M300.50 23.40V33.30M299.00 23.40H302.00M299.00 33.30H302.00" stroke="#6a2c8c" stroke-width="0.9" fill="none"/>
<circle cx="300.50" cy="28.35" r="2.1" fill="#6a2c8c"/>
<path d="M320.50 44.02V48.98M319.00 44.02H322.00M319.00 48.98H322.00" stroke="#6a2c8c" stroke-width="0.9" fill="none"/>
<circle cx="320.50" cy="46.50" r="2.1" fill="#6a2c8c"/>
<path d="M340.50 46.78V55.03M339.00 46.78H342.00M339.00 55.03H342.00" stroke="#6a2c8c" stroke-width="0.9" fill="none"/>
<circle cx="340.50" cy="50.90" r="2.1" fill="#6a2c8c"/>
<path d="M360.50 45.68V57.23M359.00 45.68H362.00M359.00 57.23H362.00" stroke="#6a2c8c" stroke-width="0.9" fill="none"/>
<circle cx="360.50" cy="51.45" r="2.1" fill="#6a2c8c"/>
<path d="M260.50 12.95V25.05M259.00 12.95H262.00M259.00 25.05H262.00" stroke="#74903c" stroke-width="0.9" fill="none"/>
<circle cx="260.50" cy="19.00" r="2.1" fill="#74903c"/>
<path d="M280.50 13.22V18.17M279.00 13.22H282.00M279.00 18.17H282.00" stroke="#74903c" stroke-width="0.9" fill="none"/>
<circle cx="280.50" cy="15.70" r="2.1" fill="#74903c"/>
<path d="M300.50 9.37V17.62M299.00 9.37H302.00M299.00 17.62H302.00" stroke="#74903c" stroke-width="0.9" fill="none"/>
<circle cx="300.50" cy="13.50" r="2.1" fill="#74903c"/>
<path d="M320.50 15.43V26.98M319.00 15.43H322.00M319.00 26.98H322.00" stroke="#74903c" stroke-width="0.9" fill="none"/>
<circle cx="320.50" cy="21.20" r="2.1" fill="#74903c"/>
<path d="M340.50 25.60V32.20M339.00 25.60H342.00M339.00 32.20H342.00" stroke="#74903c" stroke-width="0.9" fill="none"/>
<circle cx="340.50" cy="28.90" r="2.1" fill="#74903c"/>
<path d="M360.50 26.70V36.60M359.00 26.70H362.00M359.00 36.60H362.00" stroke="#74903c" stroke-width="0.9" fill="none"/>
<circle cx="360.50" cy="31.65" r="2.1" fill="#74903c"/>
<path d="M260.50 12.95V25.05M259.00 12.95H262.00M259.00 25.05H262.00" stroke="#f08a2c" stroke-width="0.9" fill="none"/>
<rect x="258.40" y="16.90" width="4.2" height="4.2" fill="#f08a2c"/>
<path d="M280.50 10.75V20.65M279.00 10.75H282.00M279.00 20.65H282.00" stroke="#f08a2c" stroke-width="0.9" fill="none"/>
<rect x="278.40" y="13.60" width="4.2" height="4.2" fill="#f08a2c"/>
<path d="M300.50 13.22V18.17M299.00 13.22H302.00M299.00 18.17H302.00" stroke="#f08a2c" stroke-width="0.9" fill="none"/>
<rect x="298.40" y="13.60" width="4.2" height="4.2" fill="#f08a2c"/>
<path d="M320.50 17.08V25.33M319.00 17.08H322.00M319.00 25.33H322.00" stroke="#f08a2c" stroke-width="0.9" fill="none"/>
<rect x="318.40" y="19.10" width="4.2" height="4.2" fill="#f08a2c"/>
<path d="M340.50 24.77V36.32M339.00 24.77H342.00M339.00 36.32H342.00" stroke="#f08a2c" stroke-width="0.9" fill="none"/>
<rect x="338.40" y="28.45" width="4.2" height="4.2" fill="#f08a2c"/>
<path d="M360.50 31.65V38.25M359.00 31.65H362.00M359.00 38.25H362.00" stroke="#f08a2c" stroke-width="0.9" fill="none"/>
<rect x="358.40" y="32.85" width="4.2" height="4.2" fill="#f08a2c"/>
<path d="M260.50 12.95V25.05M259.00 12.95H262.00M259.00 25.05H262.00" stroke="#d24496" stroke-width="0.9" fill="none"/>
<path d="M260.50 16.50L263.00 19.00L260.50 21.50L258.00 19.00Z" fill="#d24496"/>
<path d="M280.50 17.08V25.33M279.00 17.08H282.00M279.00 25.33H282.00" stroke="#d24496" stroke-width="0.9" fill="none"/>
<path d="M280.50 18.70L283.00 21.20L280.50 23.70L278.00 21.20Z" fill="#d24496"/>
<path d="M300.50 20.93V32.48M299.00 20.93H302.00M299.00 32.48H302.00" stroke="#d24496" stroke-width="0.9" fill="none"/>
<path d="M300.50 24.20L303.00 26.70L300.50 29.20L298.00 26.70Z" fill="#d24496"/>
<path d="M320.50 40.45V47.05M319.00 40.45H322.00M319.00 47.05H322.00" stroke="#d24496" stroke-width="0.9" fill="none"/>
<path d="M320.50 41.25L323.00 43.75L320.50 46.25L318.00 43.75Z" fill="#d24496"/>
<path d="M340.50 44.30V54.20M339.00 44.30H342.00M339.00 54.20H342.00" stroke="#d24496" stroke-width="0.9" fill="none"/>
<path d="M340.50 46.75L343.00 49.25L340.50 51.75L338.00 49.25Z" fill="#d24496"/>
<path d="M360.50 47.88V52.83M359.00 47.88H362.00M359.00 52.83H362.00" stroke="#d24496" stroke-width="0.9" fill="none"/>
<path d="M360.50 47.85L363.00 50.35L360.50 52.85L358.00 50.35Z" fill="#d24496"/>
<path d="M260.50 12.95V25.05M259.00 12.95H262.00M259.00 25.05H262.00" stroke="#e23434" stroke-width="0.9" fill="none"/>
<path d="M258.10 20.80L260.50 16.60L262.90 20.80Z" fill="#e23434"/>
<path d="M280.50 16.52V21.48M279.00 16.52H282.00M279.00 21.48H282.00" stroke="#e23434" stroke-width="0.9" fill="none"/>
<path d="M278.10 20.80L280.50 16.60L282.90 20.80Z" fill="#e23434"/>
<path d="M300.50 15.42V23.67M299.00 15.42H302.00M299.00 23.67H302.00" stroke="#e23434" stroke-width="0.9" fill="none"/>
<path d="M298.10 21.35L300.50 17.15L302.90 21.35Z" fill="#e23434"/>
<path d="M320.50 15.43V26.98M319.00 15.43H322.00M319.00 26.98H322.00" stroke="#e23434" stroke-width="0.9" fill="none"/>
<path d="M318.10 23.00L320.50 18.80L322.90 23.00Z" fill="#e23434"/>
<path d="M340.50 21.75V28.35M339.00 21.75H342.00M339.00 28.35H342.00" stroke="#e23434" stroke-width="0.9" fill="none"/>
<path d="M338.10 26.85L340.50 22.65L342.90 26.85Z" fill="#e23434"/>
<path d="M360.50 22.30V32.20M359.00 22.30H362.00M359.00 32.20H362.00" stroke="#e23434" stroke-width="0.9" fill="none"/>
<path d="M358.10 29.05L360.50 24.85L362.90 29.05Z" fill="#e23434"/>
<path d="M260.50 12.95V25.05M259.00 12.95H262.00M259.00 25.05H262.00" stroke="#e22a7c" stroke-width="0.9" fill="none"/>
<circle cx="260.50" cy="19.00" r="2.1" fill="#e22a7c"/>
<path d="M280.50 18.17V23.12M279.00 18.17H282.00M279.00 23.12H282.00" stroke="#e22a7c" stroke-width="0.9" fill="none"/>
<circle cx="280.50" cy="20.65" r="2.1" fill="#e22a7c"/>
<path d="M300.50 22.58V30.83M299.00 22.58H302.00M299.00 30.83H302.00" stroke="#e22a7c" stroke-width="0.9" fill="none"/>
<circle cx="300.50" cy="26.70" r="2.1" fill="#e22a7c"/>
<path d="M320.50 36.33V47.88M319.00 36.33H322.00M319.00 47.88H322.00" stroke="#e22a7c" stroke-width="0.9" fill="none"/>
<circle cx="320.50" cy="42.10" r="2.1" fill="#e22a7c"/>
<path d="M340.50 44.85V51.45M339.00 44.85H342.00M339.00 51.45H342.00" stroke="#e22a7c" stroke-width="0.9" fill="none"/>
<circle cx="340.50" cy="48.15" r="2.1" fill="#e22a7c"/>
<path d="M360.50 44.30V54.20M359.00 44.30H362.00M359.00 54.20H362.00" stroke="#e22a7c" stroke-width="0.9" fill="none"/>
<circle cx="360.50" cy="49.25" r="2.1" fill="#e22a7c"/>
<g stroke="#111" stroke-width="1.3" fill="none">
<path d="M400.00 8.00V74.00H519.50"/>
<path d="M397.40 74.00H400.00"/>
<path d="M397.40 46.50H400.00"/>
<path d="M397.40 19.00H400.00"/>
<path d="M410.00 74.00V76.60"/>
<path d="M430.00 74.00V76.60"/>
<path d="M450.00 74.00V76.60"/>
<path d="M470.00 74.00V76.60"/>
<path d="M490.00 74.00V76.60"/>
<path d="M510.00 74.00V76.60"/>
</g>
<text x="396.60" y="76.70" font-size="7.9" font-weight="bold" fill="#222" stroke="#222" stroke-width="0.08" text-anchor="end">0.0</text>
<text x="396.60" y="49.20" font-size="7.9" font-weight="bold" fill="#222" stroke="#222" stroke-width="0.08" text-anchor="end">0.5</text>
<text x="396.60" y="21.70" font-size="7.9" font-weight="bold" fill="#222" stroke="#222" stroke-width="0.08" text-anchor="end">1.0</text>
<text x="410.00" y="84.20" font-size="7.2" fill="#333" text-anchor="middle">10<tspan font-size="4.46" dy="-3">-4</tspan></text>
<text x="430.00" y="84.20" font-size="7.2" fill="#333" text-anchor="middle">10<tspan font-size="4.46" dy="-3">-3</tspan></text>
<text x="450.00" y="84.20" font-size="7.2" fill="#333" text-anchor="middle">10<tspan font-size="4.46" dy="-3">-2</tspan></text>
<text x="470.00" y="84.20" font-size="7.2" fill="#333" text-anchor="middle">10<tspan font-size="4.46" dy="-3">-1</tspan></text>
<text x="490.00" y="84.20" font-size="7.4" fill="#333" stroke="#333" stroke-width="0.18" text-anchor="middle">1.0</text>
<text x="510.00" y="84.20" font-size="7.4" fill="#333" stroke="#333" stroke-width="0.18" text-anchor="middle">10</text>
<text x="460.00" y="93.20" font-size="7.4" font-weight="bold" fill="#222" stroke="#222" stroke-width="0.08" text-anchor="middle">(&#181;mol/L)</text>
<text x="384.30" y="45.00" font-size="8.6" fill="#3a3a3a" stroke="#3a3a3a" stroke-width="0.18" text-anchor="middle" transform="rotate(-90 384.3 45)" textLength="27.8" lengthAdjust="spacingAndGlyphs">Survival</text>
<text x="403.00" y="70.80" font-size="8.9" fill="#333" stroke="#333" stroke-width="0.18" text-anchor="start">MK2206 (AKT inh)</text>
<path d="M410.00 19.00L430.00 20.65L450.00 24.50L470.00 41.00L490.00 52.00L510.00 55.85" stroke="#f2b872" stroke-width="1.35" fill="none"/>
<path d="M410.00 19.00L430.00 20.65L450.00 25.60L470.00 43.20L490.00 52.00L510.00 53.65" stroke="#2a8a56" stroke-width="1.35" fill="none"/>
<path d="M410.00 19.00L430.00 20.65L450.00 26.15L470.00 43.75L490.00 53.65L510.00 55.85" stroke="#3a58a6" stroke-width="1.35" fill="none"/>
<path d="M410.00 19.00L430.00 19.00L450.00 24.50L470.00 39.90L490.00 50.90L510.00 52.00" stroke="#8a8a38" stroke-width="1.35" fill="none"/>
<path d="M410.00 19.00L430.00 21.20L450.00 27.80L470.00 44.30L490.00 53.10L510.00 61.35" stroke="#6a2c8c" stroke-width="1.35" fill="none"/>
<path d="M410.00 19.00L430.00 15.15L450.00 16.80L470.00 24.50L490.00 25.60L510.00 48.70" stroke="#74903c" stroke-width="1.35" fill="none"/>
<path d="M410.00 19.00L430.00 16.25L450.00 19.55L470.00 24.50L490.00 25.60L510.00 41.00" stroke="#f08a2c" stroke-width="1.35" fill="none"/>
<path d="M410.00 19.00L430.00 20.10L450.00 25.60L470.00 42.65L490.00 50.90L510.00 54.20" stroke="#d24496" stroke-width="1.35" fill="none"/>
<path d="M410.00 19.00L430.00 17.90L450.00 20.65L470.00 24.50L490.00 25.60L510.00 44.85" stroke="#e23434" stroke-width="1.35" fill="none"/>
<path d="M410.00 19.00L430.00 21.75L450.00 26.70L470.00 44.85L490.00 52.00L510.00 58.60" stroke="#e22a7c" stroke-width="1.35" fill="none"/>
<path d="M410.00 12.95V25.05M408.50 12.95H411.50M408.50 25.05H411.50" stroke="#f2b872" stroke-width="0.9" fill="none"/>
<path d="M407.90 16.90L412.10 21.10M412.10 16.90L407.90 21.10" stroke="#f2b872" stroke-width="1.2"/>
<path d="M430.00 14.88V26.42M428.50 14.88H431.50M428.50 26.42H431.50" stroke="#f2b872" stroke-width="0.9" fill="none"/>
<path d="M427.90 18.55L432.10 22.75M432.10 18.55L427.90 22.75" stroke="#f2b872" stroke-width="1.2"/>
<path d="M450.00 21.20V27.80M448.50 21.20H451.50M448.50 27.80H451.50" stroke="#f2b872" stroke-width="0.9" fill="none"/>
<path d="M447.90 22.40L452.10 26.60M452.10 22.40L447.90 26.60" stroke="#f2b872" stroke-width="1.2"/>
<path d="M470.00 36.05V45.95M468.50 36.05H471.50M468.50 45.95H471.50" stroke="#f2b872" stroke-width="0.9" fill="none"/>
<path d="M467.90 38.90L472.10 43.10M472.10 38.90L467.90 43.10" stroke="#f2b872" stroke-width="1.2"/>
<path d="M490.00 49.52V54.48M488.50 49.52H491.50M488.50 54.48H491.50" stroke="#f2b872" stroke-width="0.9" fill="none"/>
<path d="M487.90 49.90L492.10 54.10M492.10 49.90L487.90 54.10" stroke="#f2b872" stroke-width="1.2"/>
<path d="M510.00 51.72V59.97M508.50 51.72H511.50M508.50 59.97H511.50" stroke="#f2b872" stroke-width="0.9" fill="none"/>
<path d="M507.90 53.75L512.10 57.95M512.10 53.75L507.90 57.95" stroke="#f2b872" stroke-width="1.2"/>
<path d="M410.00 12.95V25.05M408.50 12.95H411.50M408.50 25.05H411.50" stroke="#2a8a56" stroke-width="0.9" fill="none"/>
<path d="M407.60 20.80L410.00 16.60L412.40 20.80Z" fill="#2a8a56"/>
<path d="M430.00 14.88V26.42M428.50 14.88H431.50M428.50 26.42H431.50" stroke="#2a8a56" stroke-width="0.9" fill="none"/>
<path d="M427.60 22.45L430.00 18.25L432.40 22.45Z" fill="#2a8a56"/>
<path d="M450.00 22.30V28.90M448.50 22.30H451.50M448.50 28.90H451.50" stroke="#2a8a56" stroke-width="0.9" fill="none"/>
<path d="M447.60 27.40L450.00 23.20L452.40 27.40Z" fill="#2a8a56"/>
<path d="M470.00 38.25V48.15M468.50 38.25H471.50M468.50 48.15H471.50" stroke="#2a8a56" stroke-width="0.9" fill="none"/>
<path d="M467.60 45.00L470.00 40.80L472.40 45.00Z" fill="#2a8a56"/>
<path d="M490.00 49.52V54.48M488.50 49.52H491.50M488.50 54.48H491.50" stroke="#2a8a56" stroke-width="0.9" fill="none"/>
<path d="M487.60 53.80L490.00 49.60L492.40 53.80Z" fill="#2a8a56"/>
<path d="M510.00 49.52V57.77M508.50 49.52H511.50M508.50 57.77H511.50" stroke="#2a8a56" stroke-width="0.9" fill="none"/>
<path d="M507.60 55.45L510.00 51.25L512.40 55.45Z" fill="#2a8a56"/>
<path d="M410.00 12.95V25.05M408.50 12.95H411.50M408.50 25.05H411.50" stroke="#3a58a6" stroke-width="0.9" fill="none"/>
<rect x="407.90" y="16.90" width="4.2" height="4.2" fill="#3a58a6"/>
<path d="M430.00 17.35V23.95M428.50 17.35H431.50M428.50 23.95H431.50" stroke="#3a58a6" stroke-width="0.9" fill="none"/>
<rect x="427.90" y="18.55" width="4.2" height="4.2" fill="#3a58a6"/>
<path d="M450.00 21.20V31.10M448.50 21.20H451.50M448.50 31.10H451.50" stroke="#3a58a6" stroke-width="0.9" fill="none"/>
<rect x="447.90" y="24.05" width="4.2" height="4.2" fill="#3a58a6"/>
<path d="M470.00 41.27V46.23M468.50 41.27H471.50M468.50 46.23H471.50" stroke="#3a58a6" stroke-width="0.9" fill="none"/>
<rect x="467.90" y="41.65" width="4.2" height="4.2" fill="#3a58a6"/>
<path d="M490.00 49.52V57.77M488.50 49.52H491.50M488.50 57.77H491.50" stroke="#3a58a6" stroke-width="0.9" fill="none"/>
<rect x="487.90" y="51.55" width="4.2" height="4.2" fill="#3a58a6"/>
<path d="M510.00 50.07V61.62M508.50 50.07H511.50M508.50 61.62H511.50" stroke="#3a58a6" stroke-width="0.9" fill="none"/>
<rect x="507.90" y="53.75" width="4.2" height="4.2" fill="#3a58a6"/>
<path d="M410.00 12.95V25.05M408.50 12.95H411.50M408.50 25.05H411.50" stroke="#8a8a38" stroke-width="0.9" fill="none"/>
<path d="M410.00 16.50L412.50 19.00L410.00 21.50L407.50 19.00Z" fill="#8a8a38"/>
<path d="M430.00 15.70V22.30M428.50 15.70H431.50M428.50 22.30H431.50" stroke="#8a8a38" stroke-width="0.9" fill="none"/>
<path d="M430.00 16.50L432.50 19.00L430.00 21.50L427.50 19.00Z" fill="#8a8a38"/>
<path d="M450.00 19.55V29.45M448.50 19.55H451.50M448.50 29.45H451.50" stroke="#8a8a38" stroke-width="0.9" fill="none"/>
<path d="M450.00 22.00L452.50 24.50L450.00 27.00L447.50 24.50Z" fill="#8a8a38"/>
<path d="M470.00 37.42V42.38M468.50 37.42H471.50M468.50 42.38H471.50" stroke="#8a8a38" stroke-width="0.9" fill="none"/>
<path d="M470.00 37.40L472.50 39.90L470.00 42.40L467.50 39.90Z" fill="#8a8a38"/>
<path d="M490.00 46.78V55.03M488.50 46.78H491.50M488.50 55.03H491.50" stroke="#8a8a38" stroke-width="0.9" fill="none"/>
<path d="M490.00 48.40L492.50 50.90L490.00 53.40L487.50 50.90Z" fill="#8a8a38"/>
<path d="M510.00 46.23V57.77M508.50 46.23H511.50M508.50 57.77H511.50" stroke="#8a8a38" stroke-width="0.9" fill="none"/>
<path d="M510.00 49.50L512.50 52.00L510.00 54.50L507.50 52.00Z" fill="#8a8a38"/>
<path d="M410.00 12.95V25.05M408.50 12.95H411.50M408.50 25.05H411.50" stroke="#6a2c8c" stroke-width="0.9" fill="none"/>
<circle cx="410.00" cy="19.00" r="2.1" fill="#6a2c8c"/>
<path d="M430.00 17.90V24.50M428.50 17.90H431.50M428.50 24.50H431.50" stroke="#6a2c8c" stroke-width="0.9" fill="none"/>
<circle cx="430.00" cy="21.20" r="2.1" fill="#6a2c8c"/>
<path d="M450.00 22.85V32.75M448.50 22.85H451.50M448.50 32.75H451.50" stroke="#6a2c8c" stroke-width="0.9" fill="none"/>
<circle cx="450.00" cy="27.80" r="2.1" fill="#6a2c8c"/>
<path d="M470.00 41.82V46.77M468.50 41.82H471.50M468.50 46.77H471.50" stroke="#6a2c8c" stroke-width="0.9" fill="none"/>
<circle cx="470.00" cy="44.30" r="2.1" fill="#6a2c8c"/>
<path d="M490.00 48.98V57.23M488.50 48.98H491.50M488.50 57.23H491.50" stroke="#6a2c8c" stroke-width="0.9" fill="none"/>
<circle cx="490.00" cy="53.10" r="2.1" fill="#6a2c8c"/>
<path d="M510.00 55.58V67.12M508.50 55.58H511.50M508.50 67.12H511.50" stroke="#6a2c8c" stroke-width="0.9" fill="none"/>
<circle cx="510.00" cy="61.35" r="2.1" fill="#6a2c8c"/>
<path d="M410.00 12.95V25.05M408.50 12.95H411.50M408.50 25.05H411.50" stroke="#74903c" stroke-width="0.9" fill="none"/>
<circle cx="410.00" cy="19.00" r="2.1" fill="#74903c"/>
<path d="M430.00 12.67V17.62M428.50 12.67H431.50M428.50 17.62H431.50" stroke="#74903c" stroke-width="0.9" fill="none"/>
<circle cx="430.00" cy="15.15" r="2.1" fill="#74903c"/>
<path d="M450.00 12.67V20.92M448.50 12.67H451.50M448.50 20.92H451.50" stroke="#74903c" stroke-width="0.9" fill="none"/>
<circle cx="450.00" cy="16.80" r="2.1" fill="#74903c"/>
<path d="M470.00 18.73V30.27M468.50 18.73H471.50M468.50 30.27H471.50" stroke="#74903c" stroke-width="0.9" fill="none"/>
<circle cx="470.00" cy="24.50" r="2.1" fill="#74903c"/>
<path d="M490.00 22.30V28.90M488.50 22.30H491.50M488.50 28.90H491.50" stroke="#74903c" stroke-width="0.9" fill="none"/>
<circle cx="490.00" cy="25.60" r="2.1" fill="#74903c"/>
<path d="M510.00 43.75V53.65M508.50 43.75H511.50M508.50 53.65H511.50" stroke="#74903c" stroke-width="0.9" fill="none"/>
<circle cx="510.00" cy="48.70" r="2.1" fill="#74903c"/>
<path d="M410.00 12.95V25.05M408.50 12.95H411.50M408.50 25.05H411.50" stroke="#f08a2c" stroke-width="0.9" fill="none"/>
<rect x="407.90" y="16.90" width="4.2" height="4.2" fill="#f08a2c"/>
<path d="M430.00 11.30V21.20M428.50 11.30H431.50M428.50 21.20H431.50" stroke="#f08a2c" stroke-width="0.9" fill="none"/>
<rect x="427.90" y="14.15" width="4.2" height="4.2" fill="#f08a2c"/>
<path d="M450.00 17.07V22.02M448.50 17.07H451.50M448.50 22.02H451.50" stroke="#f08a2c" stroke-width="0.9" fill="none"/>
<rect x="447.90" y="17.45" width="4.2" height="4.2" fill="#f08a2c"/>
<path d="M470.00 20.38V28.62M468.50 20.38H471.50M468.50 28.62H471.50" stroke="#f08a2c" stroke-width="0.9" fill="none"/>
<rect x="467.90" y="22.40" width="4.2" height="4.2" fill="#f08a2c"/>
<path d="M490.00 19.83V31.38M488.50 19.83H491.50M488.50 31.38H491.50" stroke="#f08a2c" stroke-width="0.9" fill="none"/>
<rect x="487.90" y="23.50" width="4.2" height="4.2" fill="#f08a2c"/>
<path d="M510.00 37.70V44.30M508.50 37.70H511.50M508.50 44.30H511.50" stroke="#f08a2c" stroke-width="0.9" fill="none"/>
<rect x="507.90" y="38.90" width="4.2" height="4.2" fill="#f08a2c"/>
<path d="M410.00 12.95V25.05M408.50 12.95H411.50M408.50 25.05H411.50" stroke="#d24496" stroke-width="0.9" fill="none"/>
<path d="M410.00 16.50L412.50 19.00L410.00 21.50L407.50 19.00Z" fill="#d24496"/>
<path d="M430.00 15.98V24.23M428.50 15.98H431.50M428.50 24.23H431.50" stroke="#d24496" stroke-width="0.9" fill="none"/>
<path d="M430.00 17.60L432.50 20.10L430.00 22.60L427.50 20.10Z" fill="#d24496"/>
<path d="M450.00 19.83V31.38M448.50 19.83H451.50M448.50 31.38H451.50" stroke="#d24496" stroke-width="0.9" fill="none"/>
<path d="M450.00 23.10L452.50 25.60L450.00 28.10L447.50 25.60Z" fill="#d24496"/>
<path d="M470.00 39.35V45.95M468.50 39.35H471.50M468.50 45.95H471.50" stroke="#d24496" stroke-width="0.9" fill="none"/>
<path d="M470.00 40.15L472.50 42.65L470.00 45.15L467.50 42.65Z" fill="#d24496"/>
<path d="M490.00 45.95V55.85M488.50 45.95H491.50M488.50 55.85H491.50" stroke="#d24496" stroke-width="0.9" fill="none"/>
<path d="M490.00 48.40L492.50 50.90L490.00 53.40L487.50 50.90Z" fill="#d24496"/>
<path d="M510.00 51.73V56.68M508.50 51.73H511.50M508.50 56.68H511.50" stroke="#d24496" stroke-width="0.9" fill="none"/>
<path d="M510.00 51.70L512.50 54.20L510.00 56.70L507.50 54.20Z" fill="#d24496"/>
<path d="M410.00 12.95V25.05M408.50 12.95H411.50M408.50 25.05H411.50" stroke="#e23434" stroke-width="0.9" fill="none"/>
<path d="M407.60 20.80L410.00 16.60L412.40 20.80Z" fill="#e23434"/>
<path d="M430.00 15.42V20.38M428.50 15.42H431.50M428.50 20.38H431.50" stroke="#e23434" stroke-width="0.9" fill="none"/>
<path d="M427.60 19.70L430.00 15.50L432.40 19.70Z" fill="#e23434"/>
<path d="M450.00 16.52V24.77M448.50 16.52H451.50M448.50 24.77H451.50" stroke="#e23434" stroke-width="0.9" fill="none"/>
<path d="M447.60 22.45L450.00 18.25L452.40 22.45Z" fill="#e23434"/>
<path d="M470.00 18.73V30.27M468.50 18.73H471.50M468.50 30.27H471.50" stroke="#e23434" stroke-width="0.9" fill="none"/>
<path d="M467.60 26.30L470.00 22.10L472.40 26.30Z" fill="#e23434"/>
<path d="M490.00 22.30V28.90M488.50 22.30H491.50M488.50 28.90H491.50" stroke="#e23434" stroke-width="0.9" fill="none"/>
<path d="M487.60 27.40L490.00 23.20L492.40 27.40Z" fill="#e23434"/>
<path d="M510.00 39.90V49.80M508.50 39.90H511.50M508.50 49.80H511.50" stroke="#e23434" stroke-width="0.9" fill="none"/>
<path d="M507.60 46.65L510.00 42.45L512.40 46.65Z" fill="#e23434"/>
<path d="M410.00 12.95V25.05M408.50 12.95H411.50M408.50 25.05H411.50" stroke="#e22a7c" stroke-width="0.9" fill="none"/>
<circle cx="410.00" cy="19.00" r="2.1" fill="#e22a7c"/>
<path d="M430.00 19.27V24.23M428.50 19.27H431.50M428.50 24.23H431.50" stroke="#e22a7c" stroke-width="0.9" fill="none"/>
<circle cx="430.00" cy="21.75" r="2.1" fill="#e22a7c"/>
<path d="M450.00 22.58V30.83M448.50 22.58H451.50M448.50 30.83H451.50" stroke="#e22a7c" stroke-width="0.9" fill="none"/>
<circle cx="450.00" cy="26.70" r="2.1" fill="#e22a7c"/>
<path d="M470.00 39.07V50.62M468.50 39.07H471.50M468.50 50.62H471.50" stroke="#e22a7c" stroke-width="0.9" fill="none"/>
<circle cx="470.00" cy="44.85" r="2.1" fill="#e22a7c"/>
<path d="M490.00 48.70V55.30M488.50 48.70H491.50M488.50 55.30H491.50" stroke="#e22a7c" stroke-width="0.9" fill="none"/>
<circle cx="490.00" cy="52.00" r="2.1" fill="#e22a7c"/>
<path d="M510.00 53.65V63.55M508.50 53.65H511.50M508.50 63.55H511.50" stroke="#e22a7c" stroke-width="0.9" fill="none"/>
<circle cx="510.00" cy="58.60" r="2.1" fill="#e22a7c"/>
<g stroke="#111" stroke-width="1.3" fill="none">
<path d="M251.60 106.00V172.80H371.50"/>
<path d="M249.00 172.80H251.60"/>
<path d="M249.00 145.30H251.60"/>
<path d="M249.00 117.80H251.60"/>
<path d="M260.75 172.80V175.40"/>
<path d="M280.75 172.80V175.40"/>
<path d="M300.75 172.80V175.40"/>
<path d="M320.75 172.80V175.40"/>
<path d="M340.75 172.80V175.40"/>
<path d="M360.75 172.80V175.40"/>
</g>
<text x="248.20" y="175.50" font-size="7.9" font-weight="bold" fill="#222" stroke="#222" stroke-width="0.08" text-anchor="end">0.0</text>
<text x="248.20" y="148.00" font-size="7.9" font-weight="bold" fill="#222" stroke="#222" stroke-width="0.08" text-anchor="end">0.5</text>
<text x="248.20" y="120.50" font-size="7.9" font-weight="bold" fill="#222" stroke="#222" stroke-width="0.08" text-anchor="end">1.0</text>
<text x="260.75" y="183.20" font-size="7.2" fill="#333" text-anchor="middle">10<tspan font-size="4.46" dy="-3">-4</tspan></text>
<text x="280.75" y="183.20" font-size="7.2" fill="#333" text-anchor="middle">10<tspan font-size="4.46" dy="-3">-3</tspan></text>
<text x="300.75" y="183.20" font-size="7.2" fill="#333" text-anchor="middle">10<tspan font-size="4.46" dy="-3">-2</tspan></text>
<text x="320.75" y="183.20" font-size="7.2" fill="#333" text-anchor="middle">10<tspan font-size="4.46" dy="-3">-1</tspan></text>
<text x="340.75" y="183.20" font-size="7.4" fill="#333" stroke="#333" stroke-width="0.18" text-anchor="middle">1.0</text>
<text x="360.75" y="183.20" font-size="7.4" fill="#333" stroke="#333" stroke-width="0.18" text-anchor="middle">10</text>
<text x="310.75" y="192.20" font-size="7.4" font-weight="bold" fill="#222" stroke="#222" stroke-width="0.08" text-anchor="middle">(&#181;mol/L)</text>
<text x="235.50" y="145.00" font-size="8.6" fill="#3a3a3a" stroke="#3a3a3a" stroke-width="0.18" text-anchor="middle" transform="rotate(-90 235.5 145)" textLength="27.8" lengthAdjust="spacingAndGlyphs">Survival</text>
<text x="254.00" y="169.80" font-size="8.9" fill="#333" stroke="#333" stroke-width="0.18" text-anchor="start">BYL719 (PI3K&#945; inh)</text>
<path d="M260.75 117.80L280.75 114.50L300.75 113.40L320.75 127.70L340.75 146.40L360.75 154.65" stroke="#f2b872" stroke-width="1.35" fill="none"/>
<path d="M260.75 117.80L280.75 116.15L300.75 117.80L320.75 128.80L340.75 146.40L360.75 154.10" stroke="#2a8a56" stroke-width="1.35" fill="none"/>
<path d="M260.75 117.80L280.75 113.40L300.75 107.90L320.75 127.70L340.75 146.95L360.75 154.65" stroke="#3a58a6" stroke-width="1.35" fill="none"/>
<path d="M260.75 117.80L280.75 114.50L300.75 115.05L320.75 127.70L340.75 145.30L360.75 153.55" stroke="#8a8a38" stroke-width="1.35" fill="none"/>
<path d="M260.75 117.80L280.75 114.50L300.75 112.30L320.75 128.80L340.75 146.95L360.75 156.30" stroke="#6a2c8c" stroke-width="1.35" fill="none"/>
<path d="M260.75 117.80L280.75 113.40L300.75 112.30L320.75 112.30L340.75 119.45L360.75 137.05" stroke="#74903c" stroke-width="1.35" fill="none"/>
<path d="M260.75 117.80L280.75 113.40L300.75 111.20L320.75 113.40L340.75 119.45L360.75 134.30" stroke="#f08a2c" stroke-width="1.35" fill="none"/>
<path d="M260.75 117.80L280.75 115.05L300.75 115.05L320.75 128.80L340.75 146.95L360.75 155.20" stroke="#d24496" stroke-width="1.35" fill="none"/>
<path d="M260.75 117.80L280.75 116.70L300.75 117.80L320.75 118.90L340.75 125.50L360.75 133.20" stroke="#e23434" stroke-width="1.35" fill="none"/>
<path d="M260.75 117.80L280.75 115.60L300.75 115.05L320.75 129.90L340.75 147.50L360.75 156.30" stroke="#e22a7c" stroke-width="1.35" fill="none"/>
<path d="M260.75 111.75V123.85M259.25 111.75H262.25M259.25 123.85H262.25" stroke="#f2b872" stroke-width="0.9" fill="none"/>
<path d="M258.65 115.70L262.85 119.90M262.85 115.70L258.65 119.90" stroke="#f2b872" stroke-width="1.2"/>
<path d="M280.75 108.72V120.28M279.25 108.72H282.25M279.25 120.28H282.25" stroke="#f2b872" stroke-width="0.9" fill="none"/>
<path d="M278.65 112.40L282.85 116.60M282.85 112.40L278.65 116.60" stroke="#f2b872" stroke-width="1.2"/>
<path d="M300.75 110.10V116.70M299.25 110.10H302.25M299.25 116.70H302.25" stroke="#f2b872" stroke-width="0.9" fill="none"/>
<path d="M298.65 111.30L302.85 115.50M302.85 111.30L298.65 115.50" stroke="#f2b872" stroke-width="1.2"/>
<path d="M320.75 122.75V132.65M319.25 122.75H322.25M319.25 132.65H322.25" stroke="#f2b872" stroke-width="0.9" fill="none"/>
<path d="M318.65 125.60L322.85 129.80M322.85 125.60L318.65 129.80" stroke="#f2b872" stroke-width="1.2"/>
<path d="M340.75 143.93V148.88M339.25 143.93H342.25M339.25 148.88H342.25" stroke="#f2b872" stroke-width="0.9" fill="none"/>
<path d="M338.65 144.30L342.85 148.50M342.85 144.30L338.65 148.50" stroke="#f2b872" stroke-width="1.2"/>
<path d="M360.75 150.53V158.78M359.25 150.53H362.25M359.25 158.78H362.25" stroke="#f2b872" stroke-width="0.9" fill="none"/>
<path d="M358.65 152.55L362.85 156.75M362.85 152.55L358.65 156.75" stroke="#f2b872" stroke-width="1.2"/>
<path d="M260.75 111.75V123.85M259.25 111.75H262.25M259.25 123.85H262.25" stroke="#2a8a56" stroke-width="0.9" fill="none"/>
<path d="M258.35 119.60L260.75 115.40L263.15 119.60Z" fill="#2a8a56"/>
<path d="M280.75 110.38V121.93M279.25 110.38H282.25M279.25 121.93H282.25" stroke="#2a8a56" stroke-width="0.9" fill="none"/>
<path d="M278.35 117.95L280.75 113.75L283.15 117.95Z" fill="#2a8a56"/>
<path d="M300.75 114.50V121.10M299.25 114.50H302.25M299.25 121.10H302.25" stroke="#2a8a56" stroke-width="0.9" fill="none"/>
<path d="M298.35 119.60L300.75 115.40L303.15 119.60Z" fill="#2a8a56"/>
<path d="M320.75 123.85V133.75M319.25 123.85H322.25M319.25 133.75H322.25" stroke="#2a8a56" stroke-width="0.9" fill="none"/>
<path d="M318.35 130.60L320.75 126.40L323.15 130.60Z" fill="#2a8a56"/>
<path d="M340.75 143.93V148.88M339.25 143.93H342.25M339.25 148.88H342.25" stroke="#2a8a56" stroke-width="0.9" fill="none"/>
<path d="M338.35 148.20L340.75 144.00L343.15 148.20Z" fill="#2a8a56"/>
<path d="M360.75 149.98V158.23M359.25 149.98H362.25M359.25 158.23H362.25" stroke="#2a8a56" stroke-width="0.9" fill="none"/>
<path d="M358.35 155.90L360.75 151.70L363.15 155.90Z" fill="#2a8a56"/>
<path d="M260.75 111.75V123.85M259.25 111.75H262.25M259.25 123.85H262.25" stroke="#3a58a6" stroke-width="0.9" fill="none"/>
<rect x="258.65" y="115.70" width="4.2" height="4.2" fill="#3a58a6"/>
<path d="M280.75 110.10V116.70M279.25 110.10H282.25M279.25 116.70H282.25" stroke="#3a58a6" stroke-width="0.9" fill="none"/>
<rect x="278.65" y="111.30" width="4.2" height="4.2" fill="#3a58a6"/>
<path d="M300.75 102.95V112.85M299.25 102.95H302.25M299.25 112.85H302.25" stroke="#3a58a6" stroke-width="0.9" fill="none"/>
<rect x="298.65" y="105.80" width="4.2" height="4.2" fill="#3a58a6"/>
<path d="M320.75 125.23V130.18M319.25 125.23H322.25M319.25 130.18H322.25" stroke="#3a58a6" stroke-width="0.9" fill="none"/>
<rect x="318.65" y="125.60" width="4.2" height="4.2" fill="#3a58a6"/>
<path d="M340.75 142.83V151.08M339.25 142.83H342.25M339.25 151.08H342.25" stroke="#3a58a6" stroke-width="0.9" fill="none"/>
<rect x="338.65" y="144.85" width="4.2" height="4.2" fill="#3a58a6"/>
<path d="M360.75 148.88V160.43M359.25 148.88H362.25M359.25 160.43H362.25" stroke="#3a58a6" stroke-width="0.9" fill="none"/>
<rect x="358.65" y="152.55" width="4.2" height="4.2" fill="#3a58a6"/>
<path d="M260.75 111.75V123.85M259.25 111.75H262.25M259.25 123.85H262.25" stroke="#8a8a38" stroke-width="0.9" fill="none"/>
<path d="M260.75 115.30L263.25 117.80L260.75 120.30L258.25 117.80Z" fill="#8a8a38"/>
<path d="M280.75 111.20V117.80M279.25 111.20H282.25M279.25 117.80H282.25" stroke="#8a8a38" stroke-width="0.9" fill="none"/>
<path d="M280.75 112.00L283.25 114.50L280.75 117.00L278.25 114.50Z" fill="#8a8a38"/>
<path d="M300.75 110.10V120.00M299.25 110.10H302.25M299.25 120.00H302.25" stroke="#8a8a38" stroke-width="0.9" fill="none"/>
<path d="M300.75 112.55L303.25 115.05L300.75 117.55L298.25 115.05Z" fill="#8a8a38"/>
<path d="M320.75 125.23V130.18M319.25 125.23H322.25M319.25 130.18H322.25" stroke="#8a8a38" stroke-width="0.9" fill="none"/>
<path d="M320.75 125.20L323.25 127.70L320.75 130.20L318.25 127.70Z" fill="#8a8a38"/>
<path d="M340.75 141.18V149.43M339.25 141.18H342.25M339.25 149.43H342.25" stroke="#8a8a38" stroke-width="0.9" fill="none"/>
<path d="M340.75 142.80L343.25 145.30L340.75 147.80L338.25 145.30Z" fill="#8a8a38"/>
<path d="M360.75 147.78V159.33M359.25 147.78H362.25M359.25 159.33H362.25" stroke="#8a8a38" stroke-width="0.9" fill="none"/>
<path d="M360.75 151.05L363.25 153.55L360.75 156.05L358.25 153.55Z" fill="#8a8a38"/>
<path d="M260.75 111.75V123.85M259.25 111.75H262.25M259.25 123.85H262.25" stroke="#6a2c8c" stroke-width="0.9" fill="none"/>
<circle cx="260.75" cy="117.80" r="2.1" fill="#6a2c8c"/>
<path d="M280.75 111.20V117.80M279.25 111.20H282.25M279.25 117.80H282.25" stroke="#6a2c8c" stroke-width="0.9" fill="none"/>
<circle cx="280.75" cy="114.50" r="2.1" fill="#6a2c8c"/>
<path d="M300.75 107.35V117.25M299.25 107.35H302.25M299.25 117.25H302.25" stroke="#6a2c8c" stroke-width="0.9" fill="none"/>
<circle cx="300.75" cy="112.30" r="2.1" fill="#6a2c8c"/>
<path d="M320.75 126.33V131.28M319.25 126.33H322.25M319.25 131.28H322.25" stroke="#6a2c8c" stroke-width="0.9" fill="none"/>
<circle cx="320.75" cy="128.80" r="2.1" fill="#6a2c8c"/>
<path d="M340.75 142.83V151.08M339.25 142.83H342.25M339.25 151.08H342.25" stroke="#6a2c8c" stroke-width="0.9" fill="none"/>
<circle cx="340.75" cy="146.95" r="2.1" fill="#6a2c8c"/>
<path d="M360.75 150.53V162.08M359.25 150.53H362.25M359.25 162.08H362.25" stroke="#6a2c8c" stroke-width="0.9" fill="none"/>
<circle cx="360.75" cy="156.30" r="2.1" fill="#6a2c8c"/>
<path d="M260.75 111.75V123.85M259.25 111.75H262.25M259.25 123.85H262.25" stroke="#74903c" stroke-width="0.9" fill="none"/>
<circle cx="260.75" cy="117.80" r="2.1" fill="#74903c"/>
<path d="M280.75 110.93V115.88M279.25 110.93H282.25M279.25 115.88H282.25" stroke="#74903c" stroke-width="0.9" fill="none"/>
<circle cx="280.75" cy="113.40" r="2.1" fill="#74903c"/>
<path d="M300.75 108.18V116.43M299.25 108.18H302.25M299.25 116.43H302.25" stroke="#74903c" stroke-width="0.9" fill="none"/>
<circle cx="300.75" cy="112.30" r="2.1" fill="#74903c"/>
<path d="M320.75 106.53V118.08M319.25 106.53H322.25M319.25 118.08H322.25" stroke="#74903c" stroke-width="0.9" fill="none"/>
<circle cx="320.75" cy="112.30" r="2.1" fill="#74903c"/>
<path d="M340.75 116.15V122.75M339.25 116.15H342.25M339.25 122.75H342.25" stroke="#74903c" stroke-width="0.9" fill="none"/>
<circle cx="340.75" cy="119.45" r="2.1" fill="#74903c"/>
<path d="M360.75 132.10V142.00M359.25 132.10H362.25M359.25 142.00H362.25" stroke="#74903c" stroke-width="0.9" fill="none"/>
<circle cx="360.75" cy="137.05" r="2.1" fill="#74903c"/>
<path d="M260.75 111.75V123.85M259.25 111.75H262.25M259.25 123.85H262.25" stroke="#f08a2c" stroke-width="0.9" fill="none"/>
<rect x="258.65" y="115.70" width="4.2" height="4.2" fill="#f08a2c"/>
<path d="M280.75 108.45V118.35M279.25 108.45H282.25M279.25 118.35H282.25" stroke="#f08a2c" stroke-width="0.9" fill="none"/>
<rect x="278.65" y="111.30" width="4.2" height="4.2" fill="#f08a2c"/>
<path d="M300.75 108.73V113.67M299.25 108.73H302.25M299.25 113.67H302.25" stroke="#f08a2c" stroke-width="0.9" fill="none"/>
<rect x="298.65" y="109.10" width="4.2" height="4.2" fill="#f08a2c"/>
<path d="M320.75 109.28V117.53M319.25 109.28H322.25M319.25 117.53H322.25" stroke="#f08a2c" stroke-width="0.9" fill="none"/>
<rect x="318.65" y="111.30" width="4.2" height="4.2" fill="#f08a2c"/>
<path d="M340.75 113.68V125.23M339.25 113.68H342.25M339.25 125.23H342.25" stroke="#f08a2c" stroke-width="0.9" fill="none"/>
<rect x="338.65" y="117.35" width="4.2" height="4.2" fill="#f08a2c"/>
<path d="M360.75 131.00V137.60M359.25 131.00H362.25M359.25 137.60H362.25" stroke="#f08a2c" stroke-width="0.9" fill="none"/>
<rect x="358.65" y="132.20" width="4.2" height="4.2" fill="#f08a2c"/>
<path d="M260.75 111.75V123.85M259.25 111.75H262.25M259.25 123.85H262.25" stroke="#d24496" stroke-width="0.9" fill="none"/>
<path d="M260.75 115.30L263.25 117.80L260.75 120.30L258.25 117.80Z" fill="#d24496"/>
<path d="M280.75 110.93V119.18M279.25 110.93H282.25M279.25 119.18H282.25" stroke="#d24496" stroke-width="0.9" fill="none"/>
<path d="M280.75 112.55L283.25 115.05L280.75 117.55L278.25 115.05Z" fill="#d24496"/>
<path d="M300.75 109.28V120.83M299.25 109.28H302.25M299.25 120.83H302.25" stroke="#d24496" stroke-width="0.9" fill="none"/>
<path d="M300.75 112.55L303.25 115.05L300.75 117.55L298.25 115.05Z" fill="#d24496"/>
<path d="M320.75 125.50V132.10M319.25 125.50H322.25M319.25 132.10H322.25" stroke="#d24496" stroke-width="0.9" fill="none"/>
<path d="M320.75 126.30L323.25 128.80L320.75 131.30L318.25 128.80Z" fill="#d24496"/>
<path d="M340.75 142.00V151.90M339.25 142.00H342.25M339.25 151.90H342.25" stroke="#d24496" stroke-width="0.9" fill="none"/>
<path d="M340.75 144.45L343.25 146.95L340.75 149.45L338.25 146.95Z" fill="#d24496"/>
<path d="M360.75 152.73V157.68M359.25 152.73H362.25M359.25 157.68H362.25" stroke="#d24496" stroke-width="0.9" fill="none"/>
<path d="M360.75 152.70L363.25 155.20L360.75 157.70L358.25 155.20Z" fill="#d24496"/>
<path d="M260.75 111.75V123.85M259.25 111.75H262.25M259.25 123.85H262.25" stroke="#e23434" stroke-width="0.9" fill="none"/>
<path d="M258.35 119.60L260.75 115.40L263.15 119.60Z" fill="#e23434"/>
<path d="M280.75 114.23V119.18M279.25 114.23H282.25M279.25 119.18H282.25" stroke="#e23434" stroke-width="0.9" fill="none"/>
<path d="M278.35 118.50L280.75 114.30L283.15 118.50Z" fill="#e23434"/>
<path d="M300.75 113.68V121.93M299.25 113.68H302.25M299.25 121.93H302.25" stroke="#e23434" stroke-width="0.9" fill="none"/>
<path d="M298.35 119.60L300.75 115.40L303.15 119.60Z" fill="#e23434"/>
<path d="M320.75 113.12V124.68M319.25 113.12H322.25M319.25 124.68H322.25" stroke="#e23434" stroke-width="0.9" fill="none"/>
<path d="M318.35 120.70L320.75 116.50L323.15 120.70Z" fill="#e23434"/>
<path d="M340.75 122.20V128.80M339.25 122.20H342.25M339.25 128.80H342.25" stroke="#e23434" stroke-width="0.9" fill="none"/>
<path d="M338.35 127.30L340.75 123.10L343.15 127.30Z" fill="#e23434"/>
<path d="M360.75 128.25V138.15M359.25 128.25H362.25M359.25 138.15H362.25" stroke="#e23434" stroke-width="0.9" fill="none"/>
<path d="M358.35 135.00L360.75 130.80L363.15 135.00Z" fill="#e23434"/>
<path d="M260.75 111.75V123.85M259.25 111.75H262.25M259.25 123.85H262.25" stroke="#e22a7c" stroke-width="0.9" fill="none"/>
<circle cx="260.75" cy="117.80" r="2.1" fill="#e22a7c"/>
<path d="M280.75 113.13V118.08M279.25 113.13H282.25M279.25 118.08H282.25" stroke="#e22a7c" stroke-width="0.9" fill="none"/>
<circle cx="280.75" cy="115.60" r="2.1" fill="#e22a7c"/>
<path d="M300.75 110.93V119.18M299.25 110.93H302.25M299.25 119.18H302.25" stroke="#e22a7c" stroke-width="0.9" fill="none"/>
<circle cx="300.75" cy="115.05" r="2.1" fill="#e22a7c"/>
<path d="M320.75 124.12V135.68M319.25 124.12H322.25M319.25 135.68H322.25" stroke="#e22a7c" stroke-width="0.9" fill="none"/>
<circle cx="320.75" cy="129.90" r="2.1" fill="#e22a7c"/>
<path d="M340.75 144.20V150.80M339.25 144.20H342.25M339.25 150.80H342.25" stroke="#e22a7c" stroke-width="0.9" fill="none"/>
<circle cx="340.75" cy="147.50" r="2.1" fill="#e22a7c"/>
<path d="M360.75 151.35V161.25M359.25 151.35H362.25M359.25 161.25H362.25" stroke="#e22a7c" stroke-width="0.9" fill="none"/>
<circle cx="360.75" cy="156.30" r="2.1" fill="#e22a7c"/>
<path d="M412.50 117.50H421.50" stroke="#74903c" stroke-width="1.5"/>
<circle cx="417.00" cy="117.50" r="2.4" fill="#74903c"/>
<text x="424.50" y="120.30" font-size="7.8" fill="#262a58" stroke="#262a58" stroke-width="0.18" text-anchor="start">Parental</text>
<path d="M412.50 129.50H421.50" stroke="#f08a2c" stroke-width="1.5"/>
<rect x="414.60" y="127.10" width="4.8" height="4.8" fill="#f08a2c"/>
<text x="424.50" y="132.30" font-size="7.8" fill="#262a58" stroke="#262a58" stroke-width="0.18" text-anchor="start">WT</text>
<path d="M412.50 141.50H421.50" stroke="#e23434" stroke-width="1.5"/>
<path d="M414.30 143.60L417.00 138.80L419.70 143.60Z" fill="#e23434"/>
<text x="424.50" y="144.30" font-size="7.8" fill="#262a58" stroke="#262a58" stroke-width="0.18" text-anchor="start">T1025T</text>
<path d="M412.50 153.50H421.50" stroke="#d24496" stroke-width="1.5"/>
<path d="M417.00 150.70L419.80 153.50L417.00 156.30L414.20 153.50Z" fill="#d24496"/>
<text x="424.50" y="156.30" font-size="7.8" fill="#262a58" stroke="#262a58" stroke-width="0.18" text-anchor="start">Q546K</text>
<path d="M412.50 165.50H421.50" stroke="#6a2c8c" stroke-width="1.5"/>
<circle cx="417.00" cy="165.50" r="2.4" fill="#6a2c8c"/>
<text x="424.50" y="168.30" font-size="7.8" fill="#262a58" stroke="#262a58" stroke-width="0.18" text-anchor="start">G1049R</text>
<path d="M464.50 117.50H473.50" stroke="#3a58a6" stroke-width="1.5"/>
<rect x="466.60" y="115.10" width="4.8" height="4.8" fill="#3a58a6"/>
<text x="477.00" y="120.30" font-size="7.8" fill="#262a58" stroke="#262a58" stroke-width="0.18" text-anchor="start">N345K</text>
<path d="M464.50 129.50H473.50" stroke="#2a8a56" stroke-width="1.5"/>
<path d="M466.30 131.60L469.00 126.80L471.70 131.60Z" fill="#2a8a56"/>
<text x="477.00" y="132.30" font-size="7.8" fill="#262a58" stroke="#262a58" stroke-width="0.18" text-anchor="start">H1047L</text>
<path d="M464.50 141.50H473.50" stroke="#8a8a38" stroke-width="1.5"/>
<path d="M469.00 138.70L471.80 141.50L469.00 144.30L466.20 141.50Z" fill="#8a8a38"/>
<text x="477.00" y="144.30" font-size="7.8" fill="#262a58" stroke="#262a58" stroke-width="0.18" text-anchor="start">E542K</text>
<path d="M464.50 153.50H473.50" stroke="#f2b872" stroke-width="1.5"/>
<path d="M466.60 151.10L471.40 155.90M471.40 151.10L466.60 155.90" stroke="#f2b872" stroke-width="1.2"/>
<text x="477.00" y="156.30" font-size="7.8" fill="#262a58" stroke="#262a58" stroke-width="0.18" text-anchor="start">E545K</text>
<path d="M464.50 165.50H473.50" stroke="#e22a7c" stroke-width="1.5"/>
<circle cx="469.00" cy="165.50" r="2.4" fill="#e22a7c"/>
<text x="477.00" y="168.30" font-size="7.8" fill="#262a58" stroke="#262a58" stroke-width="0.18" text-anchor="start">H1047R</text>
<g stroke="#111" stroke-width="1.3" fill="none">
<path d="M257.50 205.50V273.50H373.00"/>
<path d="M254.90 273.50H257.50"/>
<path d="M254.90 245.50H257.50"/>
<path d="M254.90 217.50H257.50"/>
<path d="M267.00 273.50V276.10"/>
<path d="M287.20 273.50V276.10"/>
<path d="M307.40 273.50V276.10"/>
<path d="M327.60 273.50V276.10"/>
<path d="M347.80 273.50V276.10"/>
<path d="M368.00 273.50V276.10"/>
</g>
<text x="254.10" y="276.20" font-size="7.9" font-weight="bold" fill="#222" stroke="#222" stroke-width="0.08" text-anchor="end">0.0</text>
<text x="254.10" y="248.20" font-size="7.9" font-weight="bold" fill="#222" stroke="#222" stroke-width="0.08" text-anchor="end">0.5</text>
<text x="254.10" y="220.20" font-size="7.9" font-weight="bold" fill="#222" stroke="#222" stroke-width="0.08" text-anchor="end">1.0</text>
<text x="267.00" y="284.20" font-size="7.2" fill="#333" text-anchor="middle">10<tspan font-size="4.46" dy="-3">-4</tspan></text>
<text x="287.20" y="284.20" font-size="7.2" fill="#333" text-anchor="middle">10<tspan font-size="4.46" dy="-3">-3</tspan></text>
<text x="307.40" y="284.20" font-size="7.2" fill="#333" text-anchor="middle">10<tspan font-size="4.46" dy="-3">-2</tspan></text>
<text x="327.60" y="284.20" font-size="7.2" fill="#333" text-anchor="middle">10<tspan font-size="4.46" dy="-3">-1</tspan></text>
<text x="347.80" y="284.20" font-size="7.4" fill="#333" stroke="#333" stroke-width="0.18" text-anchor="middle">1.0</text>
<text x="368.00" y="284.20" font-size="7.4" fill="#333" stroke="#333" stroke-width="0.18" text-anchor="middle">10</text>
<text x="317.50" y="293.20" font-size="7.4" font-weight="bold" fill="#222" stroke="#222" stroke-width="0.08" text-anchor="middle">(&#181;mol/L)</text>
<text x="238.60" y="245.00" font-size="8.6" fill="#3a3a3a" stroke="#3a3a3a" stroke-width="0.18" text-anchor="middle" transform="rotate(-90 238.6 245)" textLength="27.8" lengthAdjust="spacingAndGlyphs">Survival</text>
<text x="260.00" y="270.50" font-size="8.9" fill="#333" stroke="#333" stroke-width="0.18" text-anchor="start">Lapatinib</text>
<path d="M267.00 217.50L287.20 223.10L307.40 230.94L327.60 234.30L347.80 237.66L368.00 273.50" stroke="#f2b872" stroke-width="1.35" fill="none"/>
<path d="M267.00 217.50L287.20 224.22L307.40 232.62L327.60 237.10L347.80 238.78L368.00 273.50" stroke="#2a8a56" stroke-width="1.35" fill="none"/>
<path d="M267.00 217.50L287.20 223.10L307.40 231.50L327.60 237.10L347.80 239.90L368.00 273.50" stroke="#3a58a6" stroke-width="1.35" fill="none"/>
<path d="M267.00 217.50L287.20 223.10L307.40 230.94L327.60 235.42L347.80 238.22L368.00 273.50" stroke="#8a8a38" stroke-width="1.35" fill="none"/>
<path d="M267.00 217.50L287.20 224.22L307.40 234.30L327.60 238.22L347.80 241.02L368.00 273.50" stroke="#6a2c8c" stroke-width="1.35" fill="none"/>
<path d="M267.00 217.50L287.20 215.82L307.40 214.70L327.60 215.82L347.80 221.98L368.00 273.50" stroke="#74903c" stroke-width="1.35" fill="none"/>
<path d="M267.00 217.50L287.20 216.38L307.40 215.82L327.60 217.50L347.80 229.82L368.00 273.50" stroke="#f08a2c" stroke-width="1.35" fill="none"/>
<path d="M267.00 217.50L287.20 224.22L307.40 233.18L327.60 236.54L347.80 238.78L368.00 273.50" stroke="#d24496" stroke-width="1.35" fill="none"/>
<path d="M267.00 217.50L287.20 218.62L307.40 215.82L327.60 219.18L347.80 231.50L368.00 273.50" stroke="#e23434" stroke-width="1.35" fill="none"/>
<path d="M267.00 217.50L287.20 225.90L307.40 234.30L327.60 238.22L347.80 241.58L368.00 273.50" stroke="#e22a7c" stroke-width="1.35" fill="none"/>
<path d="M267.00 211.34V223.66M265.50 211.34H268.50M265.50 223.66H268.50" stroke="#f2b872" stroke-width="0.9" fill="none"/>
<path d="M264.90 215.40L269.10 219.60M269.10 215.40L264.90 219.60" stroke="#f2b872" stroke-width="1.2"/>
<path d="M287.20 217.22V228.98M285.70 217.22H288.70M285.70 228.98H288.70" stroke="#f2b872" stroke-width="0.9" fill="none"/>
<path d="M285.10 221.00L289.30 225.20M289.30 221.00L285.10 225.20" stroke="#f2b872" stroke-width="1.2"/>
<path d="M307.40 227.58V234.30M305.90 227.58H308.90M305.90 234.30H308.90" stroke="#f2b872" stroke-width="0.9" fill="none"/>
<path d="M305.30 228.84L309.50 233.04M309.50 228.84L305.30 233.04" stroke="#f2b872" stroke-width="1.2"/>
<path d="M327.60 229.26V239.34M326.10 229.26H329.10M326.10 239.34H329.10" stroke="#f2b872" stroke-width="0.9" fill="none"/>
<path d="M325.50 232.20L329.70 236.40M329.70 232.20L325.50 236.40" stroke="#f2b872" stroke-width="1.2"/>
<path d="M347.80 235.14V240.18M346.30 235.14H349.30M346.30 240.18H349.30" stroke="#f2b872" stroke-width="0.9" fill="none"/>
<path d="M345.70 235.56L349.90 239.76M349.90 235.56L345.70 239.76" stroke="#f2b872" stroke-width="1.2"/>
<path d="M365.90 271.40L370.10 275.60M370.10 271.40L365.90 275.60" stroke="#f2b872" stroke-width="1.2"/>
<path d="M267.00 211.34V223.66M265.50 211.34H268.50M265.50 223.66H268.50" stroke="#2a8a56" stroke-width="0.9" fill="none"/>
<path d="M264.60 219.30L267.00 215.10L269.40 219.30Z" fill="#2a8a56"/>
<path d="M287.20 218.34V230.10M285.70 218.34H288.70M285.70 230.10H288.70" stroke="#2a8a56" stroke-width="0.9" fill="none"/>
<path d="M284.80 226.02L287.20 221.82L289.60 226.02Z" fill="#2a8a56"/>
<path d="M307.40 229.26V235.98M305.90 229.26H308.90M305.90 235.98H308.90" stroke="#2a8a56" stroke-width="0.9" fill="none"/>
<path d="M305.00 234.42L307.40 230.22L309.80 234.42Z" fill="#2a8a56"/>
<path d="M327.60 232.06V242.14M326.10 232.06H329.10M326.10 242.14H329.10" stroke="#2a8a56" stroke-width="0.9" fill="none"/>
<path d="M325.20 238.90L327.60 234.70L330.00 238.90Z" fill="#2a8a56"/>
<path d="M347.80 236.26V241.30M346.30 236.26H349.30M346.30 241.30H349.30" stroke="#2a8a56" stroke-width="0.9" fill="none"/>
<path d="M345.40 240.58L347.80 236.38L350.20 240.58Z" fill="#2a8a56"/>
<path d="M365.60 275.30L368.00 271.10L370.40 275.30Z" fill="#2a8a56"/>
<path d="M267.00 211.34V223.66M265.50 211.34H268.50M265.50 223.66H268.50" stroke="#3a58a6" stroke-width="0.9" fill="none"/>
<rect x="264.90" y="215.40" width="4.2" height="4.2" fill="#3a58a6"/>
<path d="M287.20 219.74V226.46M285.70 219.74H288.70M285.70 226.46H288.70" stroke="#3a58a6" stroke-width="0.9" fill="none"/>
<rect x="285.10" y="221.00" width="4.2" height="4.2" fill="#3a58a6"/>
<path d="M307.40 226.46V236.54M305.90 226.46H308.90M305.90 236.54H308.90" stroke="#3a58a6" stroke-width="0.9" fill="none"/>
<rect x="305.30" y="229.40" width="4.2" height="4.2" fill="#3a58a6"/>
<path d="M327.60 234.58V239.62M326.10 234.58H329.10M326.10 239.62H329.10" stroke="#3a58a6" stroke-width="0.9" fill="none"/>
<rect x="325.50" y="235.00" width="4.2" height="4.2" fill="#3a58a6"/>
<path d="M347.80 235.70V244.10M346.30 235.70H349.30M346.30 244.10H349.30" stroke="#3a58a6" stroke-width="0.9" fill="none"/>
<rect x="345.70" y="237.80" width="4.2" height="4.2" fill="#3a58a6"/>
<rect x="365.90" y="271.40" width="4.2" height="4.2" fill="#3a58a6"/>
<path d="M267.00 211.34V223.66M265.50 211.34H268.50M265.50 223.66H268.50" stroke="#8a8a38" stroke-width="0.9" fill="none"/>
<path d="M267.00 215.00L269.50 217.50L267.00 220.00L264.50 217.50Z" fill="#8a8a38"/>
<path d="M287.20 219.74V226.46M285.70 219.74H288.70M285.70 226.46H288.70" stroke="#8a8a38" stroke-width="0.9" fill="none"/>
<path d="M287.20 220.60L289.70 223.10L287.20 225.60L284.70 223.10Z" fill="#8a8a38"/>
<path d="M307.40 225.90V235.98M305.90 225.90H308.90M305.90 235.98H308.90" stroke="#8a8a38" stroke-width="0.9" fill="none"/>
<path d="M307.40 228.44L309.90 230.94L307.40 233.44L304.90 230.94Z" fill="#8a8a38"/>
<path d="M327.60 232.90V237.94M326.10 232.90H329.10M326.10 237.94H329.10" stroke="#8a8a38" stroke-width="0.9" fill="none"/>
<path d="M327.60 232.92L330.10 235.42L327.60 237.92L325.10 235.42Z" fill="#8a8a38"/>
<path d="M347.80 234.02V242.42M346.30 234.02H349.30M346.30 242.42H349.30" stroke="#8a8a38" stroke-width="0.9" fill="none"/>
<path d="M347.80 235.72L350.30 238.22L347.80 240.72L345.30 238.22Z" fill="#8a8a38"/>
<path d="M368.00 271.00L370.50 273.50L368.00 276.00L365.50 273.50Z" fill="#8a8a38"/>
<path d="M267.00 211.34V223.66M265.50 211.34H268.50M265.50 223.66H268.50" stroke="#6a2c8c" stroke-width="0.9" fill="none"/>
<circle cx="267.00" cy="217.50" r="2.1" fill="#6a2c8c"/>
<path d="M287.20 220.86V227.58M285.70 220.86H288.70M285.70 227.58H288.70" stroke="#6a2c8c" stroke-width="0.9" fill="none"/>
<circle cx="287.20" cy="224.22" r="2.1" fill="#6a2c8c"/>
<path d="M307.40 229.26V239.34M305.90 229.26H308.90M305.90 239.34H308.90" stroke="#6a2c8c" stroke-width="0.9" fill="none"/>
<circle cx="307.40" cy="234.30" r="2.1" fill="#6a2c8c"/>
<path d="M327.60 235.70V240.74M326.10 235.70H329.10M326.10 240.74H329.10" stroke="#6a2c8c" stroke-width="0.9" fill="none"/>
<circle cx="327.60" cy="238.22" r="2.1" fill="#6a2c8c"/>
<path d="M347.80 236.82V245.22M346.30 236.82H349.30M346.30 245.22H349.30" stroke="#6a2c8c" stroke-width="0.9" fill="none"/>
<circle cx="347.80" cy="241.02" r="2.1" fill="#6a2c8c"/>
<circle cx="368.00" cy="273.50" r="2.1" fill="#6a2c8c"/>
<path d="M267.00 211.34V223.66M265.50 211.34H268.50M265.50 223.66H268.50" stroke="#74903c" stroke-width="0.9" fill="none"/>
<circle cx="267.00" cy="217.50" r="2.1" fill="#74903c"/>
<path d="M287.20 213.30V218.34M285.70 213.30H288.70M285.70 218.34H288.70" stroke="#74903c" stroke-width="0.9" fill="none"/>
<circle cx="287.20" cy="215.82" r="2.1" fill="#74903c"/>
<path d="M307.40 210.50V218.90M305.90 210.50H308.90M305.90 218.90H308.90" stroke="#74903c" stroke-width="0.9" fill="none"/>
<circle cx="307.40" cy="214.70" r="2.1" fill="#74903c"/>
<path d="M327.60 209.94V221.70M326.10 209.94H329.10M326.10 221.70H329.10" stroke="#74903c" stroke-width="0.9" fill="none"/>
<circle cx="327.60" cy="215.82" r="2.1" fill="#74903c"/>
<path d="M347.80 218.62V225.34M346.30 218.62H349.30M346.30 225.34H349.30" stroke="#74903c" stroke-width="0.9" fill="none"/>
<circle cx="347.80" cy="221.98" r="2.1" fill="#74903c"/>
<circle cx="368.00" cy="273.50" r="2.1" fill="#74903c"/>
<path d="M267.00 211.34V223.66M265.50 211.34H268.50M265.50 223.66H268.50" stroke="#f08a2c" stroke-width="0.9" fill="none"/>
<rect x="264.90" y="215.40" width="4.2" height="4.2" fill="#f08a2c"/>
<path d="M287.20 211.34V221.42M285.70 211.34H288.70M285.70 221.42H288.70" stroke="#f08a2c" stroke-width="0.9" fill="none"/>
<rect x="285.10" y="214.28" width="4.2" height="4.2" fill="#f08a2c"/>
<path d="M307.40 213.30V218.34M305.90 213.30H308.90M305.90 218.34H308.90" stroke="#f08a2c" stroke-width="0.9" fill="none"/>
<rect x="305.30" y="213.72" width="4.2" height="4.2" fill="#f08a2c"/>
<path d="M327.60 213.30V221.70M326.10 213.30H329.10M326.10 221.70H329.10" stroke="#f08a2c" stroke-width="0.9" fill="none"/>
<rect x="325.50" y="215.40" width="4.2" height="4.2" fill="#f08a2c"/>
<path d="M347.80 223.94V235.70M346.30 223.94H349.30M346.30 235.70H349.30" stroke="#f08a2c" stroke-width="0.9" fill="none"/>
<rect x="345.70" y="227.72" width="4.2" height="4.2" fill="#f08a2c"/>
<rect x="365.90" y="271.40" width="4.2" height="4.2" fill="#f08a2c"/>
<path d="M267.00 211.34V223.66M265.50 211.34H268.50M265.50 223.66H268.50" stroke="#d24496" stroke-width="0.9" fill="none"/>
<path d="M267.00 215.00L269.50 217.50L267.00 220.00L264.50 217.50Z" fill="#d24496"/>
<path d="M287.20 220.02V228.42M285.70 220.02H288.70M285.70 228.42H288.70" stroke="#d24496" stroke-width="0.9" fill="none"/>
<path d="M287.20 221.72L289.70 224.22L287.20 226.72L284.70 224.22Z" fill="#d24496"/>
<path d="M307.40 227.30V239.06M305.90 227.30H308.90M305.90 239.06H308.90" stroke="#d24496" stroke-width="0.9" fill="none"/>
<path d="M307.40 230.68L309.90 233.18L307.40 235.68L304.90 233.18Z" fill="#d24496"/>
<path d="M327.60 233.18V239.90M326.10 233.18H329.10M326.10 239.90H329.10" stroke="#d24496" stroke-width="0.9" fill="none"/>
<path d="M327.60 234.04L330.10 236.54L327.60 239.04L325.10 236.54Z" fill="#d24496"/>
<path d="M347.80 233.74V243.82M346.30 233.74H349.30M346.30 243.82H349.30" stroke="#d24496" stroke-width="0.9" fill="none"/>
<path d="M347.80 236.28L350.30 238.78L347.80 241.28L345.30 238.78Z" fill="#d24496"/>
<path d="M368.00 271.00L370.50 273.50L368.00 276.00L365.50 273.50Z" fill="#d24496"/>
<path d="M267.00 211.34V223.66M265.50 211.34H268.50M265.50 223.66H268.50" stroke="#e23434" stroke-width="0.9" fill="none"/>
<path d="M264.60 219.30L267.00 215.10L269.40 219.30Z" fill="#e23434"/>
<path d="M287.20 216.10V221.14M285.70 216.10H288.70M285.70 221.14H288.70" stroke="#e23434" stroke-width="0.9" fill="none"/>
<path d="M284.80 220.42L287.20 216.22L289.60 220.42Z" fill="#e23434"/>
<path d="M307.40 211.62V220.02M305.90 211.62H308.90M305.90 220.02H308.90" stroke="#e23434" stroke-width="0.9" fill="none"/>
<path d="M305.00 217.62L307.40 213.42L309.80 217.62Z" fill="#e23434"/>
<path d="M327.60 213.30V225.06M326.10 213.30H329.10M326.10 225.06H329.10" stroke="#e23434" stroke-width="0.9" fill="none"/>
<path d="M325.20 220.98L327.60 216.78L330.00 220.98Z" fill="#e23434"/>
<path d="M347.80 228.14V234.86M346.30 228.14H349.30M346.30 234.86H349.30" stroke="#e23434" stroke-width="0.9" fill="none"/>
<path d="M345.40 233.30L347.80 229.10L350.20 233.30Z" fill="#e23434"/>
<path d="M365.60 275.30L368.00 271.10L370.40 275.30Z" fill="#e23434"/>
<path d="M267.00 211.34V223.66M265.50 211.34H268.50M265.50 223.66H268.50" stroke="#e22a7c" stroke-width="0.9" fill="none"/>
<circle cx="267.00" cy="217.50" r="2.1" fill="#e22a7c"/>
<path d="M287.20 223.38V228.42M285.70 223.38H288.70M285.70 228.42H288.70" stroke="#e22a7c" stroke-width="0.9" fill="none"/>
<circle cx="287.20" cy="225.90" r="2.1" fill="#e22a7c"/>
<path d="M307.40 230.10V238.50M305.90 230.10H308.90M305.90 238.50H308.90" stroke="#e22a7c" stroke-width="0.9" fill="none"/>
<circle cx="307.40" cy="234.30" r="2.1" fill="#e22a7c"/>
<path d="M327.60 232.34V244.10M326.10 232.34H329.10M326.10 244.10H329.10" stroke="#e22a7c" stroke-width="0.9" fill="none"/>
<circle cx="327.60" cy="238.22" r="2.1" fill="#e22a7c"/>
<path d="M347.80 238.22V244.94M346.30 238.22H349.30M346.30 244.94H349.30" stroke="#e22a7c" stroke-width="0.9" fill="none"/>
<circle cx="347.80" cy="241.58" r="2.1" fill="#e22a7c"/>
<circle cx="368.00" cy="273.50" r="2.1" fill="#e22a7c"/>
<g stroke="#111" stroke-width="1.3" fill="none">
<path d="M397.50 205.50V273.75H517.50"/>
<path d="M394.90 273.75H397.50"/>
<path d="M394.90 245.75H397.50"/>
<path d="M394.90 217.75H397.50"/>
<path d="M406.00 273.75V276.35"/>
<path d="M426.30 273.75V276.35"/>
<path d="M446.60 273.75V276.35"/>
<path d="M466.90 273.75V276.35"/>
<path d="M487.20 273.75V276.35"/>
<path d="M507.50 273.75V276.35"/>
</g>
<text x="394.10" y="276.45" font-size="7.9" font-weight="bold" fill="#222" stroke="#222" stroke-width="0.08" text-anchor="end">0.0</text>
<text x="394.10" y="248.45" font-size="7.9" font-weight="bold" fill="#222" stroke="#222" stroke-width="0.08" text-anchor="end">0.5</text>
<text x="394.10" y="220.45" font-size="7.9" font-weight="bold" fill="#222" stroke="#222" stroke-width="0.08" text-anchor="end">1.0</text>
<text x="406.00" y="284.20" font-size="7.2" fill="#333" text-anchor="middle">10<tspan font-size="4.46" dy="-3">-4</tspan></text>
<text x="426.30" y="284.20" font-size="7.2" fill="#333" text-anchor="middle">10<tspan font-size="4.46" dy="-3">-3</tspan></text>
<text x="446.60" y="284.20" font-size="7.2" fill="#333" text-anchor="middle">10<tspan font-size="4.46" dy="-3">-2</tspan></text>
<text x="466.90" y="284.20" font-size="7.2" fill="#333" text-anchor="middle">10<tspan font-size="4.46" dy="-3">-1</tspan></text>
<text x="487.20" y="284.20" font-size="7.4" fill="#333" stroke="#333" stroke-width="0.18" text-anchor="middle">1.0</text>
<text x="507.50" y="284.20" font-size="7.4" fill="#333" stroke="#333" stroke-width="0.18" text-anchor="middle">10</text>
<text x="456.75" y="293.20" font-size="7.4" font-weight="bold" fill="#222" stroke="#222" stroke-width="0.08" text-anchor="middle">(&#181;mol/L)</text>
<text x="400.00" y="270.50" font-size="8.9" fill="#333" stroke="#333" stroke-width="0.18" text-anchor="start">Neratinib</text>
<path d="M406.00 217.75L426.30 222.23L446.60 230.07L466.90 234.55L487.20 239.03L507.50 273.75" stroke="#f2b872" stroke-width="1.35" fill="none"/>
<path d="M406.00 217.75L426.30 228.95L446.60 235.11L466.90 237.91L487.20 242.39L507.50 273.75" stroke="#2a8a56" stroke-width="1.35" fill="none"/>
<path d="M406.00 217.75L426.30 228.95L446.60 233.43L466.90 237.35L487.20 241.27L507.50 273.75" stroke="#3a58a6" stroke-width="1.35" fill="none"/>
<path d="M406.00 217.75L426.30 230.07L446.60 238.47L466.90 241.83L487.20 244.63L507.50 273.75" stroke="#8a8a38" stroke-width="1.35" fill="none"/>
<path d="M406.00 217.75L426.30 227.83L446.60 232.87L466.90 235.67L487.20 241.27L507.50 273.75" stroke="#6a2c8c" stroke-width="1.35" fill="none"/>
<path d="M406.00 217.75L426.30 212.15L446.60 213.27L466.90 219.43L487.20 227.27L507.50 273.75" stroke="#f08a2c" stroke-width="1.35" fill="none"/>
<path d="M406.00 217.75L426.30 226.15L446.60 231.75L466.90 234.55L487.20 240.15L507.50 273.75" stroke="#d24496" stroke-width="1.35" fill="none"/>
<path d="M406.00 217.75L426.30 225.59L446.60 231.75L466.90 232.87L487.20 240.15L507.50 273.75" stroke="#e22a7c" stroke-width="1.35" fill="none"/>
<path d="M406.00 211.59V223.91M404.50 211.59H407.50M404.50 223.91H407.50" stroke="#f2b872" stroke-width="0.9" fill="none"/>
<path d="M403.90 215.65L408.10 219.85M408.10 215.65L403.90 219.85" stroke="#f2b872" stroke-width="1.2"/>
<path d="M426.30 216.35V228.11M424.80 216.35H427.80M424.80 228.11H427.80" stroke="#f2b872" stroke-width="0.9" fill="none"/>
<path d="M424.20 220.13L428.40 224.33M428.40 220.13L424.20 224.33" stroke="#f2b872" stroke-width="1.2"/>
<path d="M446.60 226.71V233.43M445.10 226.71H448.10M445.10 233.43H448.10" stroke="#f2b872" stroke-width="0.9" fill="none"/>
<path d="M444.50 227.97L448.70 232.17M448.70 227.97L444.50 232.17" stroke="#f2b872" stroke-width="1.2"/>
<path d="M466.90 229.51V239.59M465.40 229.51H468.40M465.40 239.59H468.40" stroke="#f2b872" stroke-width="0.9" fill="none"/>
<path d="M464.80 232.45L469.00 236.65M469.00 232.45L464.80 236.65" stroke="#f2b872" stroke-width="1.2"/>
<path d="M487.20 236.51V241.55M485.70 236.51H488.70M485.70 241.55H488.70" stroke="#f2b872" stroke-width="0.9" fill="none"/>
<path d="M485.10 236.93L489.30 241.13M489.30 236.93L485.10 241.13" stroke="#f2b872" stroke-width="1.2"/>
<path d="M505.40 271.65L509.60 275.85M509.60 271.65L505.40 275.85" stroke="#f2b872" stroke-width="1.2"/>
<path d="M406.00 211.59V223.91M404.50 211.59H407.50M404.50 223.91H407.50" stroke="#2a8a56" stroke-width="0.9" fill="none"/>
<path d="M403.60 219.55L406.00 215.35L408.40 219.55Z" fill="#2a8a56"/>
<path d="M426.30 223.07V234.83M424.80 223.07H427.80M424.80 234.83H427.80" stroke="#2a8a56" stroke-width="0.9" fill="none"/>
<path d="M423.90 230.75L426.30 226.55L428.70 230.75Z" fill="#2a8a56"/>
<path d="M446.60 231.75V238.47M445.10 231.75H448.10M445.10 238.47H448.10" stroke="#2a8a56" stroke-width="0.9" fill="none"/>
<path d="M444.20 236.91L446.60 232.71L449.00 236.91Z" fill="#2a8a56"/>
<path d="M466.90 232.87V242.95M465.40 232.87H468.40M465.40 242.95H468.40" stroke="#2a8a56" stroke-width="0.9" fill="none"/>
<path d="M464.50 239.71L466.90 235.51L469.30 239.71Z" fill="#2a8a56"/>
<path d="M487.20 239.87V244.91M485.70 239.87H488.70M485.70 244.91H488.70" stroke="#2a8a56" stroke-width="0.9" fill="none"/>
<path d="M484.80 244.19L487.20 239.99L489.60 244.19Z" fill="#2a8a56"/>
<path d="M505.10 275.55L507.50 271.35L509.90 275.55Z" fill="#2a8a56"/>
<path d="M406.00 211.59V223.91M404.50 211.59H407.50M404.50 223.91H407.50" stroke="#3a58a6" stroke-width="0.9" fill="none"/>
<rect x="403.90" y="215.65" width="4.2" height="4.2" fill="#3a58a6"/>
<path d="M426.30 225.59V232.31M424.80 225.59H427.80M424.80 232.31H427.80" stroke="#3a58a6" stroke-width="0.9" fill="none"/>
<rect x="424.20" y="226.85" width="4.2" height="4.2" fill="#3a58a6"/>
<path d="M446.60 228.39V238.47M445.10 228.39H448.10M445.10 238.47H448.10" stroke="#3a58a6" stroke-width="0.9" fill="none"/>
<rect x="444.50" y="231.33" width="4.2" height="4.2" fill="#3a58a6"/>
<path d="M466.90 234.83V239.87M465.40 234.83H468.40M465.40 239.87H468.40" stroke="#3a58a6" stroke-width="0.9" fill="none"/>
<rect x="464.80" y="235.25" width="4.2" height="4.2" fill="#3a58a6"/>
<path d="M487.20 237.07V245.47M485.70 237.07H488.70M485.70 245.47H488.70" stroke="#3a58a6" stroke-width="0.9" fill="none"/>
<rect x="485.10" y="239.17" width="4.2" height="4.2" fill="#3a58a6"/>
<rect x="505.40" y="271.65" width="4.2" height="4.2" fill="#3a58a6"/>
<path d="M406.00 211.59V223.91M404.50 211.59H407.50M404.50 223.91H407.50" stroke="#8a8a38" stroke-width="0.9" fill="none"/>
<path d="M406.00 215.25L408.50 217.75L406.00 220.25L403.50 217.75Z" fill="#8a8a38"/>
<path d="M426.30 226.71V233.43M424.80 226.71H427.80M424.80 233.43H427.80" stroke="#8a8a38" stroke-width="0.9" fill="none"/>
<path d="M426.30 227.57L428.80 230.07L426.30 232.57L423.80 230.07Z" fill="#8a8a38"/>
<path d="M446.60 233.43V243.51M445.10 233.43H448.10M445.10 243.51H448.10" stroke="#8a8a38" stroke-width="0.9" fill="none"/>
<path d="M446.60 235.97L449.10 238.47L446.60 240.97L444.10 238.47Z" fill="#8a8a38"/>
<path d="M466.90 239.31V244.35M465.40 239.31H468.40M465.40 244.35H468.40" stroke="#8a8a38" stroke-width="0.9" fill="none"/>
<path d="M466.90 239.33L469.40 241.83L466.90 244.33L464.40 241.83Z" fill="#8a8a38"/>
<path d="M487.20 240.43V248.83M485.70 240.43H488.70M485.70 248.83H488.70" stroke="#8a8a38" stroke-width="0.9" fill="none"/>
<path d="M487.20 242.13L489.70 244.63L487.20 247.13L484.70 244.63Z" fill="#8a8a38"/>
<path d="M507.50 271.25L510.00 273.75L507.50 276.25L505.00 273.75Z" fill="#8a8a38"/>
<path d="M406.00 211.59V223.91M404.50 211.59H407.50M404.50 223.91H407.50" stroke="#6a2c8c" stroke-width="0.9" fill="none"/>
<circle cx="406.00" cy="217.75" r="2.1" fill="#6a2c8c"/>
<path d="M426.30 224.47V231.19M424.80 224.47H427.80M424.80 231.19H427.80" stroke="#6a2c8c" stroke-width="0.9" fill="none"/>
<circle cx="426.30" cy="227.83" r="2.1" fill="#6a2c8c"/>
<path d="M446.60 227.83V237.91M445.10 227.83H448.10M445.10 237.91H448.10" stroke="#6a2c8c" stroke-width="0.9" fill="none"/>
<circle cx="446.60" cy="232.87" r="2.1" fill="#6a2c8c"/>
<path d="M466.90 233.15V238.19M465.40 233.15H468.40M465.40 238.19H468.40" stroke="#6a2c8c" stroke-width="0.9" fill="none"/>
<circle cx="466.90" cy="235.67" r="2.1" fill="#6a2c8c"/>
<path d="M487.20 237.07V245.47M485.70 237.07H488.70M485.70 245.47H488.70" stroke="#6a2c8c" stroke-width="0.9" fill="none"/>
<circle cx="487.20" cy="241.27" r="2.1" fill="#6a2c8c"/>
<circle cx="507.50" cy="273.75" r="2.1" fill="#6a2c8c"/>
<path d="M406.00 211.59V223.91M404.50 211.59H407.50M404.50 223.91H407.50" stroke="#f08a2c" stroke-width="0.9" fill="none"/>
<rect x="403.90" y="215.65" width="4.2" height="4.2" fill="#f08a2c"/>
<path d="M426.30 207.11V217.19M424.80 207.11H427.80M424.80 217.19H427.80" stroke="#f08a2c" stroke-width="0.9" fill="none"/>
<rect x="424.20" y="210.05" width="4.2" height="4.2" fill="#f08a2c"/>
<path d="M446.60 210.75V215.79M445.10 210.75H448.10M445.10 215.79H448.10" stroke="#f08a2c" stroke-width="0.9" fill="none"/>
<rect x="444.50" y="211.17" width="4.2" height="4.2" fill="#f08a2c"/>
<path d="M466.90 215.23V223.63M465.40 215.23H468.40M465.40 223.63H468.40" stroke="#f08a2c" stroke-width="0.9" fill="none"/>
<rect x="464.80" y="217.33" width="4.2" height="4.2" fill="#f08a2c"/>
<path d="M487.20 221.39V233.15M485.70 221.39H488.70M485.70 233.15H488.70" stroke="#f08a2c" stroke-width="0.9" fill="none"/>
<rect x="485.10" y="225.17" width="4.2" height="4.2" fill="#f08a2c"/>
<rect x="505.40" y="271.65" width="4.2" height="4.2" fill="#f08a2c"/>
<path d="M406.00 211.59V223.91M404.50 211.59H407.50M404.50 223.91H407.50" stroke="#d24496" stroke-width="0.9" fill="none"/>
<path d="M406.00 215.25L408.50 217.75L406.00 220.25L403.50 217.75Z" fill="#d24496"/>
<path d="M426.30 221.95V230.35M424.80 221.95H427.80M424.80 230.35H427.80" stroke="#d24496" stroke-width="0.9" fill="none"/>
<path d="M426.30 223.65L428.80 226.15L426.30 228.65L423.80 226.15Z" fill="#d24496"/>
<path d="M446.60 225.87V237.63M445.10 225.87H448.10M445.10 237.63H448.10" stroke="#d24496" stroke-width="0.9" fill="none"/>
<path d="M446.60 229.25L449.10 231.75L446.60 234.25L444.10 231.75Z" fill="#d24496"/>
<path d="M466.90 231.19V237.91M465.40 231.19H468.40M465.40 237.91H468.40" stroke="#d24496" stroke-width="0.9" fill="none"/>
<path d="M466.90 232.05L469.40 234.55L466.90 237.05L464.40 234.55Z" fill="#d24496"/>
<path d="M487.20 235.11V245.19M485.70 235.11H488.70M485.70 245.19H488.70" stroke="#d24496" stroke-width="0.9" fill="none"/>
<path d="M487.20 237.65L489.70 240.15L487.20 242.65L484.70 240.15Z" fill="#d24496"/>
<path d="M507.50 271.25L510.00 273.75L507.50 276.25L505.00 273.75Z" fill="#d24496"/>
<path d="M406.00 211.59V223.91M404.50 211.59H407.50M404.50 223.91H407.50" stroke="#e22a7c" stroke-width="0.9" fill="none"/>
<circle cx="406.00" cy="217.75" r="2.1" fill="#e22a7c"/>
<path d="M426.30 223.07V228.11M424.80 223.07H427.80M424.80 228.11H427.80" stroke="#e22a7c" stroke-width="0.9" fill="none"/>
<circle cx="426.30" cy="225.59" r="2.1" fill="#e22a7c"/>
<path d="M446.60 227.55V235.95M445.10 227.55H448.10M445.10 235.95H448.10" stroke="#e22a7c" stroke-width="0.9" fill="none"/>
<circle cx="446.60" cy="231.75" r="2.1" fill="#e22a7c"/>
<path d="M466.90 226.99V238.75M465.40 226.99H468.40M465.40 238.75H468.40" stroke="#e22a7c" stroke-width="0.9" fill="none"/>
<circle cx="466.90" cy="232.87" r="2.1" fill="#e22a7c"/>
<path d="M487.20 236.79V243.51M485.70 236.79H488.70M485.70 243.51H488.70" stroke="#e22a7c" stroke-width="0.9" fill="none"/>
<circle cx="487.20" cy="240.15" r="2.1" fill="#e22a7c"/>
<circle cx="507.50" cy="273.75" r="2.1" fill="#e22a7c"/>
<path d="M258.75 305.75H267.75" stroke="#74903c" stroke-width="1.5"/>
<circle cx="263.25" cy="305.75" r="2.4" fill="#74903c"/>
<text x="272.00" y="308.55" font-size="7.8" fill="#262a58" stroke="#262a58" stroke-width="0.18" text-anchor="start">Parental</text>
<path d="M258.75 315.85H267.75" stroke="#f08a2c" stroke-width="1.5"/>
<rect x="260.85" y="313.45" width="4.8" height="4.8" fill="#f08a2c"/>
<text x="272.00" y="318.65" font-size="7.8" fill="#262a58" stroke="#262a58" stroke-width="0.18" text-anchor="start">WT</text>
<path d="M258.75 325.95H267.75" stroke="#e23434" stroke-width="1.5"/>
<path d="M260.55 328.05L263.25 323.25L265.95 328.05Z" fill="#e23434"/>
<text x="272.00" y="328.75" font-size="7.8" fill="#262a58" stroke="#262a58" stroke-width="0.18" text-anchor="start">T1025T</text>
<path d="M258.75 336.05H267.75" stroke="#d24496" stroke-width="1.5"/>
<path d="M263.25 333.25L266.05 336.05L263.25 338.85L260.45 336.05Z" fill="#d24496"/>
<text x="272.00" y="338.85" font-size="7.8" fill="#262a58" stroke="#262a58" stroke-width="0.18" text-anchor="start">Q546K</text>
<path d="M258.75 346.15H267.75" stroke="#6a2c8c" stroke-width="1.5"/>
<circle cx="263.25" cy="346.15" r="2.4" fill="#6a2c8c"/>
<text x="272.00" y="348.95" font-size="7.8" fill="#262a58" stroke="#262a58" stroke-width="0.18" text-anchor="start">G1049R</text>
<path d="M328.00 305.75H337.00" stroke="#3a58a6" stroke-width="1.5"/>
<rect x="330.10" y="303.35" width="4.8" height="4.8" fill="#3a58a6"/>
<text x="340.50" y="308.55" font-size="7.8" fill="#262a58" stroke="#262a58" stroke-width="0.18" text-anchor="start">N345K</text>
<path d="M328.00 315.85H337.00" stroke="#2a8a56" stroke-width="1.5"/>
<path d="M329.80 317.95L332.50 313.15L335.20 317.95Z" fill="#2a8a56"/>
<text x="340.50" y="318.65" font-size="7.8" fill="#262a58" stroke="#262a58" stroke-width="0.18" text-anchor="start">H1047L</text>
<path d="M328.00 325.95H337.00" stroke="#8a8a38" stroke-width="1.5"/>
<path d="M332.50 323.15L335.30 325.95L332.50 328.75L329.70 325.95Z" fill="#8a8a38"/>
<text x="340.50" y="328.75" font-size="7.8" fill="#262a58" stroke="#262a58" stroke-width="0.18" text-anchor="start">E542K</text>
<path d="M328.00 336.05H337.00" stroke="#f2b872" stroke-width="1.5"/>
<path d="M330.10 333.65L334.90 338.45M334.90 333.65L330.10 338.45" stroke="#f2b872" stroke-width="1.2"/>
<text x="340.50" y="338.85" font-size="7.8" fill="#262a58" stroke="#262a58" stroke-width="0.18" text-anchor="start">E545K</text>
<path d="M328.00 346.15H337.00" stroke="#e22a7c" stroke-width="1.5"/>
<circle cx="332.50" cy="346.15" r="2.4" fill="#e22a7c"/>
<text x="340.50" y="348.95" font-size="7.8" fill="#262a58" stroke="#262a58" stroke-width="0.18" text-anchor="start">H1047R</text>
<path d="M403.00 307.00H412.50" stroke="#f08a2c" stroke-width="1.5"/>
<rect x="405.35" y="304.60" width="4.8" height="4.8" fill="#f08a2c"/>
<text x="415.50" y="309.80" font-size="7.8" fill="#262a58" stroke="#262a58" stroke-width="0.18" text-anchor="start">WT</text>
<path d="M403.00 317.20H412.50" stroke="#d24496" stroke-width="1.5"/>
<path d="M407.75 314.40L410.55 317.20L407.75 320.00L404.95 317.20Z" fill="#d24496"/>
<text x="415.50" y="320.00" font-size="7.8" fill="#262a58" stroke="#262a58" stroke-width="0.18" text-anchor="start">Q546K</text>
<path d="M403.00 327.40H412.50" stroke="#6a2c8c" stroke-width="1.5"/>
<circle cx="407.75" cy="327.40" r="2.4" fill="#6a2c8c"/>
<text x="415.50" y="330.20" font-size="7.8" fill="#262a58" stroke="#262a58" stroke-width="0.18" text-anchor="start">G1049R</text>
<path d="M403.00 337.60H412.50" stroke="#3a58a6" stroke-width="1.5"/>
<rect x="405.35" y="335.20" width="4.8" height="4.8" fill="#3a58a6"/>
<text x="415.50" y="340.40" font-size="7.8" fill="#262a58" stroke="#262a58" stroke-width="0.18" text-anchor="start">N345K</text>
<path d="M472.50 306.25H481.50" stroke="#2a8a56" stroke-width="1.5"/>
<path d="M474.30 308.35L477.00 303.55L479.70 308.35Z" fill="#2a8a56"/>
<text x="485.00" y="309.05" font-size="7.8" fill="#262a58" stroke="#262a58" stroke-width="0.18" text-anchor="start">H1047L</text>
<path d="M472.50 316.25H481.50" stroke="#8a8a38" stroke-width="1.5"/>
<path d="M477.00 313.45L479.80 316.25L477.00 319.05L474.20 316.25Z" fill="#8a8a38"/>
<text x="485.00" y="319.05" font-size="7.8" fill="#262a58" stroke="#262a58" stroke-width="0.18" text-anchor="start">E542K</text>
<path d="M472.50 326.25H481.50" stroke="#f2b872" stroke-width="1.5"/>
<path d="M474.60 323.85L479.40 328.65M479.40 323.85L474.60 328.65" stroke="#f2b872" stroke-width="1.2"/>
<text x="485.00" y="329.05" font-size="7.8" fill="#262a58" stroke="#262a58" stroke-width="0.18" text-anchor="start">E545K</text>
<path d="M472.50 336.25H481.50" stroke="#e22a7c" stroke-width="1.5"/>
<circle cx="477.00" cy="336.25" r="2.4" fill="#e22a7c"/>
<text x="485.00" y="339.05" font-size="7.8" fill="#262a58" stroke="#262a58" stroke-width="0.18" text-anchor="start">H1047R</text>
<text x="322.50" y="374.00" font-size="10.5" fill="#222" stroke="#222" stroke-width="0.18" text-anchor="middle">MCF10A</text>
<text x="453.75" y="374.00" font-size="10.5" fill="#222" stroke="#222" stroke-width="0.18" text-anchor="middle">Ba/F3</text>
<g stroke="#111" stroke-width="1.3" fill="none">
<path d="M258.75 377.00V447.00H376.00"/>
<path d="M256.15 447.00H258.75"/>
<path d="M256.15 417.50H258.75"/>
<path d="M256.15 388.00H258.75"/>
<path d="M267.50 447.00V449.60"/>
<path d="M287.40 447.00V449.60"/>
<path d="M307.30 447.00V449.60"/>
<path d="M327.20 447.00V449.60"/>
<path d="M347.10 447.00V449.60"/>
<path d="M367.00 447.00V449.60"/>
</g>
<text x="255.35" y="449.70" font-size="7.9" font-weight="bold" fill="#222" stroke="#222" stroke-width="0.08" text-anchor="end">0.0</text>
<text x="255.35" y="420.20" font-size="7.9" font-weight="bold" fill="#222" stroke="#222" stroke-width="0.08" text-anchor="end">0.5</text>
<text x="255.35" y="390.70" font-size="7.9" font-weight="bold" fill="#222" stroke="#222" stroke-width="0.08" text-anchor="end">1.0</text>
<text x="267.50" y="457.20" font-size="7.2" fill="#333" text-anchor="middle">10<tspan font-size="4.46" dy="-3">-6</tspan></text>
<text x="287.40" y="457.20" font-size="7.2" fill="#333" text-anchor="middle">10<tspan font-size="4.46" dy="-3">-5</tspan></text>
<text x="307.30" y="457.20" font-size="7.2" fill="#333" text-anchor="middle">10<tspan font-size="4.46" dy="-3">-4</tspan></text>
<text x="327.20" y="457.20" font-size="7.2" fill="#333" text-anchor="middle">10<tspan font-size="4.46" dy="-3">-3</tspan></text>
<text x="347.10" y="457.20" font-size="7.2" fill="#333" text-anchor="middle">10<tspan font-size="4.46" dy="-3">-2</tspan></text>
<text x="367.00" y="457.20" font-size="7.2" fill="#333" text-anchor="middle">10<tspan font-size="4.46" dy="-3">-1</tspan></text>
<text x="240.60" y="418.00" font-size="8.6" fill="#3a3a3a" stroke="#3a3a3a" stroke-width="0.18" text-anchor="middle" transform="rotate(-90 240.6 418)" textLength="27.8" lengthAdjust="spacingAndGlyphs">Survival</text>
<text x="261.00" y="443.50" font-size="8.9" fill="#333" stroke="#333" stroke-width="0.18" text-anchor="start">Trametinib (MEK1/2 inh)</text>
<path d="M267.50 388.00L287.40 390.95L307.30 399.80L327.20 405.70L347.10 405.70L367.00 405.70" stroke="#f2b872" stroke-width="1.35" fill="none"/>
<path d="M267.50 388.00L287.40 389.18L307.30 398.62L327.20 405.70L347.10 405.11L367.00 405.70" stroke="#2a8a56" stroke-width="1.35" fill="none"/>
<path d="M267.50 388.00L287.40 388.00L307.30 399.80L327.20 405.70L347.10 406.88L367.00 405.70" stroke="#3a58a6" stroke-width="1.35" fill="none"/>
<path d="M267.50 388.00L287.40 390.95L307.30 398.03L327.20 404.52L347.10 405.70L367.00 406.88" stroke="#8a8a38" stroke-width="1.35" fill="none"/>
<path d="M267.50 388.00L287.40 385.05L307.30 399.80L327.20 411.60L347.10 411.60L367.00 409.83" stroke="#6a2c8c" stroke-width="1.35" fill="none"/>
<path d="M267.50 388.00L287.40 390.95L307.30 398.62L327.20 404.52L347.10 405.70L367.00 405.70" stroke="#74903c" stroke-width="1.35" fill="none"/>
<path d="M267.50 388.00L287.40 380.92L307.30 385.05L327.20 389.18L347.10 384.46L367.00 388.00" stroke="#f08a2c" stroke-width="1.35" fill="none"/>
<path d="M267.50 388.00L287.40 395.08L307.30 399.80L327.20 405.70L347.10 406.88L367.00 408.65" stroke="#d24496" stroke-width="1.35" fill="none"/>
<path d="M267.50 388.00L287.40 385.05L307.30 388.00L327.20 389.18L347.10 388.00L367.00 389.18" stroke="#e23434" stroke-width="1.35" fill="none"/>
<path d="M267.50 388.00L287.40 383.28L307.30 389.77L327.20 389.18L347.10 391.54L367.00 389.77" stroke="#e22a7c" stroke-width="1.35" fill="none"/>
<path d="M267.50 381.51V394.49M266.00 381.51H269.00M266.00 394.49H269.00" stroke="#f2b872" stroke-width="0.9" fill="none"/>
<path d="M265.40 385.90L269.60 390.10M269.60 385.90L265.40 390.10" stroke="#f2b872" stroke-width="1.2"/>
<path d="M287.40 384.75V397.14M285.90 384.75H288.90M285.90 397.14H288.90" stroke="#f2b872" stroke-width="0.9" fill="none"/>
<path d="M285.30 388.85L289.50 393.05M289.50 388.85L285.30 393.05" stroke="#f2b872" stroke-width="1.2"/>
<path d="M307.30 396.26V403.34M305.80 396.26H308.80M305.80 403.34H308.80" stroke="#f2b872" stroke-width="0.9" fill="none"/>
<path d="M305.20 397.70L309.40 401.90M309.40 397.70L305.20 401.90" stroke="#f2b872" stroke-width="1.2"/>
<path d="M327.20 400.39V411.01M325.70 400.39H328.70M325.70 411.01H328.70" stroke="#f2b872" stroke-width="0.9" fill="none"/>
<path d="M325.10 403.60L329.30 407.80M329.30 403.60L325.10 407.80" stroke="#f2b872" stroke-width="1.2"/>
<path d="M347.10 403.05V408.35M345.60 403.05H348.60M345.60 408.35H348.60" stroke="#f2b872" stroke-width="0.9" fill="none"/>
<path d="M345.00 403.60L349.20 407.80M349.20 403.60L345.00 407.80" stroke="#f2b872" stroke-width="1.2"/>
<path d="M367.00 401.27V410.12M365.50 401.27H368.50M365.50 410.12H368.50" stroke="#f2b872" stroke-width="0.9" fill="none"/>
<path d="M364.90 403.60L369.10 407.80M369.10 403.60L364.90 407.80" stroke="#f2b872" stroke-width="1.2"/>
<path d="M267.50 381.51V394.49M266.00 381.51H269.00M266.00 394.49H269.00" stroke="#2a8a56" stroke-width="0.9" fill="none"/>
<path d="M265.10 389.80L267.50 385.60L269.90 389.80Z" fill="#2a8a56"/>
<path d="M287.40 382.99V395.38M285.90 382.99H288.90M285.90 395.38H288.90" stroke="#2a8a56" stroke-width="0.9" fill="none"/>
<path d="M285.00 390.98L287.40 386.78L289.80 390.98Z" fill="#2a8a56"/>
<path d="M307.30 395.08V402.16M305.80 395.08H308.80M305.80 402.16H308.80" stroke="#2a8a56" stroke-width="0.9" fill="none"/>
<path d="M304.90 400.42L307.30 396.22L309.70 400.42Z" fill="#2a8a56"/>
<path d="M327.20 400.39V411.01M325.70 400.39H328.70M325.70 411.01H328.70" stroke="#2a8a56" stroke-width="0.9" fill="none"/>
<path d="M324.80 407.50L327.20 403.30L329.60 407.50Z" fill="#2a8a56"/>
<path d="M347.10 402.46V407.76M345.60 402.46H348.60M345.60 407.76H348.60" stroke="#2a8a56" stroke-width="0.9" fill="none"/>
<path d="M344.70 406.91L347.10 402.71L349.50 406.91Z" fill="#2a8a56"/>
<path d="M367.00 401.27V410.12M365.50 401.27H368.50M365.50 410.12H368.50" stroke="#2a8a56" stroke-width="0.9" fill="none"/>
<path d="M364.60 407.50L367.00 403.30L369.40 407.50Z" fill="#2a8a56"/>
<path d="M267.50 381.51V394.49M266.00 381.51H269.00M266.00 394.49H269.00" stroke="#3a58a6" stroke-width="0.9" fill="none"/>
<rect x="265.40" y="385.90" width="4.2" height="4.2" fill="#3a58a6"/>
<path d="M287.40 384.46V391.54M285.90 384.46H288.90M285.90 391.54H288.90" stroke="#3a58a6" stroke-width="0.9" fill="none"/>
<rect x="285.30" y="385.90" width="4.2" height="4.2" fill="#3a58a6"/>
<path d="M307.30 394.49V405.11M305.80 394.49H308.80M305.80 405.11H308.80" stroke="#3a58a6" stroke-width="0.9" fill="none"/>
<rect x="305.20" y="397.70" width="4.2" height="4.2" fill="#3a58a6"/>
<path d="M327.20 403.05V408.35M325.70 403.05H328.70M325.70 408.35H328.70" stroke="#3a58a6" stroke-width="0.9" fill="none"/>
<rect x="325.10" y="403.60" width="4.2" height="4.2" fill="#3a58a6"/>
<path d="M347.10 402.45V411.31M345.60 402.45H348.60M345.60 411.31H348.60" stroke="#3a58a6" stroke-width="0.9" fill="none"/>
<rect x="345.00" y="404.78" width="4.2" height="4.2" fill="#3a58a6"/>
<path d="M367.00 399.50V411.89M365.50 399.50H368.50M365.50 411.89H368.50" stroke="#3a58a6" stroke-width="0.9" fill="none"/>
<rect x="364.90" y="403.60" width="4.2" height="4.2" fill="#3a58a6"/>
<path d="M267.50 381.51V394.49M266.00 381.51H269.00M266.00 394.49H269.00" stroke="#8a8a38" stroke-width="0.9" fill="none"/>
<path d="M267.50 385.50L270.00 388.00L267.50 390.50L265.00 388.00Z" fill="#8a8a38"/>
<path d="M287.40 387.41V394.49M285.90 387.41H288.90M285.90 394.49H288.90" stroke="#8a8a38" stroke-width="0.9" fill="none"/>
<path d="M287.40 388.45L289.90 390.95L287.40 393.45L284.90 390.95Z" fill="#8a8a38"/>
<path d="M307.30 392.72V403.34M305.80 392.72H308.80M305.80 403.34H308.80" stroke="#8a8a38" stroke-width="0.9" fill="none"/>
<path d="M307.30 395.53L309.80 398.03L307.30 400.53L304.80 398.03Z" fill="#8a8a38"/>
<path d="M327.20 401.87V407.17M325.70 401.87H328.70M325.70 407.17H328.70" stroke="#8a8a38" stroke-width="0.9" fill="none"/>
<path d="M327.20 402.02L329.70 404.52L327.20 407.02L324.70 404.52Z" fill="#8a8a38"/>
<path d="M347.10 401.27V410.12M345.60 401.27H348.60M345.60 410.12H348.60" stroke="#8a8a38" stroke-width="0.9" fill="none"/>
<path d="M347.10 403.20L349.60 405.70L347.10 408.20L344.60 405.70Z" fill="#8a8a38"/>
<path d="M367.00 400.69V413.07M365.50 400.69H368.50M365.50 413.07H368.50" stroke="#8a8a38" stroke-width="0.9" fill="none"/>
<path d="M367.00 404.38L369.50 406.88L367.00 409.38L364.50 406.88Z" fill="#8a8a38"/>
<path d="M267.50 381.51V394.49M266.00 381.51H269.00M266.00 394.49H269.00" stroke="#6a2c8c" stroke-width="0.9" fill="none"/>
<circle cx="267.50" cy="388.00" r="2.1" fill="#6a2c8c"/>
<path d="M287.40 381.51V388.59M285.90 381.51H288.90M285.90 388.59H288.90" stroke="#6a2c8c" stroke-width="0.9" fill="none"/>
<circle cx="287.40" cy="385.05" r="2.1" fill="#6a2c8c"/>
<path d="M307.30 394.49V405.11M305.80 394.49H308.80M305.80 405.11H308.80" stroke="#6a2c8c" stroke-width="0.9" fill="none"/>
<circle cx="307.30" cy="399.80" r="2.1" fill="#6a2c8c"/>
<path d="M327.20 408.95V414.25M325.70 408.95H328.70M325.70 414.25H328.70" stroke="#6a2c8c" stroke-width="0.9" fill="none"/>
<circle cx="327.20" cy="411.60" r="2.1" fill="#6a2c8c"/>
<path d="M347.10 407.18V416.03M345.60 407.18H348.60M345.60 416.03H348.60" stroke="#6a2c8c" stroke-width="0.9" fill="none"/>
<circle cx="347.10" cy="411.60" r="2.1" fill="#6a2c8c"/>
<path d="M367.00 403.63V416.02M365.50 403.63H368.50M365.50 416.02H368.50" stroke="#6a2c8c" stroke-width="0.9" fill="none"/>
<circle cx="367.00" cy="409.83" r="2.1" fill="#6a2c8c"/>
<path d="M267.50 381.51V394.49M266.00 381.51H269.00M266.00 394.49H269.00" stroke="#74903c" stroke-width="0.9" fill="none"/>
<circle cx="267.50" cy="388.00" r="2.1" fill="#74903c"/>
<path d="M287.40 388.30V393.60M285.90 388.30H288.90M285.90 393.60H288.90" stroke="#74903c" stroke-width="0.9" fill="none"/>
<circle cx="287.40" cy="390.95" r="2.1" fill="#74903c"/>
<path d="M307.30 394.19V403.05M305.80 394.19H308.80M305.80 403.05H308.80" stroke="#74903c" stroke-width="0.9" fill="none"/>
<circle cx="307.30" cy="398.62" r="2.1" fill="#74903c"/>
<path d="M327.20 398.32V410.71M325.70 398.32H328.70M325.70 410.71H328.70" stroke="#74903c" stroke-width="0.9" fill="none"/>
<circle cx="327.20" cy="404.52" r="2.1" fill="#74903c"/>
<path d="M347.10 402.16V409.24M345.60 402.16H348.60M345.60 409.24H348.60" stroke="#74903c" stroke-width="0.9" fill="none"/>
<circle cx="347.10" cy="405.70" r="2.1" fill="#74903c"/>
<path d="M367.00 400.39V411.01M365.50 400.39H368.50M365.50 411.01H368.50" stroke="#74903c" stroke-width="0.9" fill="none"/>
<circle cx="367.00" cy="405.70" r="2.1" fill="#74903c"/>
<path d="M267.50 381.51V394.49M266.00 381.51H269.00M266.00 394.49H269.00" stroke="#f08a2c" stroke-width="0.9" fill="none"/>
<rect x="265.40" y="385.90" width="4.2" height="4.2" fill="#f08a2c"/>
<path d="M287.40 375.61V386.23M285.90 375.61H288.90M285.90 386.23H288.90" stroke="#f08a2c" stroke-width="0.9" fill="none"/>
<rect x="285.30" y="378.82" width="4.2" height="4.2" fill="#f08a2c"/>
<path d="M307.30 382.40V387.70M305.80 382.40H308.80M305.80 387.70H308.80" stroke="#f08a2c" stroke-width="0.9" fill="none"/>
<rect x="305.20" y="382.95" width="4.2" height="4.2" fill="#f08a2c"/>
<path d="M327.20 384.75V393.61M325.70 384.75H328.70M325.70 393.61H328.70" stroke="#f08a2c" stroke-width="0.9" fill="none"/>
<rect x="325.10" y="387.08" width="4.2" height="4.2" fill="#f08a2c"/>
<path d="M347.10 378.26V390.65M345.60 378.26H348.60M345.60 390.65H348.60" stroke="#f08a2c" stroke-width="0.9" fill="none"/>
<rect x="345.00" y="382.36" width="4.2" height="4.2" fill="#f08a2c"/>
<path d="M367.00 384.46V391.54M365.50 384.46H368.50M365.50 391.54H368.50" stroke="#f08a2c" stroke-width="0.9" fill="none"/>
<rect x="364.90" y="385.90" width="4.2" height="4.2" fill="#f08a2c"/>
<path d="M267.50 381.51V394.49M266.00 381.51H269.00M266.00 394.49H269.00" stroke="#d24496" stroke-width="0.9" fill="none"/>
<path d="M267.50 385.50L270.00 388.00L267.50 390.50L265.00 388.00Z" fill="#d24496"/>
<path d="M287.40 390.65V399.50M285.90 390.65H288.90M285.90 399.50H288.90" stroke="#d24496" stroke-width="0.9" fill="none"/>
<path d="M287.40 392.58L289.90 395.08L287.40 397.58L284.90 395.08Z" fill="#d24496"/>
<path d="M307.30 393.61V406.00M305.80 393.61H308.80M305.80 406.00H308.80" stroke="#d24496" stroke-width="0.9" fill="none"/>
<path d="M307.30 397.30L309.80 399.80L307.30 402.30L304.80 399.80Z" fill="#d24496"/>
<path d="M327.20 402.16V409.24M325.70 402.16H328.70M325.70 409.24H328.70" stroke="#d24496" stroke-width="0.9" fill="none"/>
<path d="M327.20 403.20L329.70 405.70L327.20 408.20L324.70 405.70Z" fill="#d24496"/>
<path d="M347.10 401.57V412.19M345.60 401.57H348.60M345.60 412.19H348.60" stroke="#d24496" stroke-width="0.9" fill="none"/>
<path d="M347.10 404.38L349.60 406.88L347.10 409.38L344.60 406.88Z" fill="#d24496"/>
<path d="M367.00 406.00V411.30M365.50 406.00H368.50M365.50 411.30H368.50" stroke="#d24496" stroke-width="0.9" fill="none"/>
<path d="M367.00 406.15L369.50 408.65L367.00 411.15L364.50 408.65Z" fill="#d24496"/>
<path d="M267.50 381.51V394.49M266.00 381.51H269.00M266.00 394.49H269.00" stroke="#e23434" stroke-width="0.9" fill="none"/>
<path d="M265.10 389.80L267.50 385.60L269.90 389.80Z" fill="#e23434"/>
<path d="M287.40 382.40V387.70M285.90 382.40H288.90M285.90 387.70H288.90" stroke="#e23434" stroke-width="0.9" fill="none"/>
<path d="M285.00 386.85L287.40 382.65L289.80 386.85Z" fill="#e23434"/>
<path d="M307.30 383.57V392.43M305.80 383.57H308.80M305.80 392.43H308.80" stroke="#e23434" stroke-width="0.9" fill="none"/>
<path d="M304.90 389.80L307.30 385.60L309.70 389.80Z" fill="#e23434"/>
<path d="M327.20 382.99V395.38M325.70 382.99H328.70M325.70 395.38H328.70" stroke="#e23434" stroke-width="0.9" fill="none"/>
<path d="M324.80 390.98L327.20 386.78L329.60 390.98Z" fill="#e23434"/>
<path d="M347.10 384.46V391.54M345.60 384.46H348.60M345.60 391.54H348.60" stroke="#e23434" stroke-width="0.9" fill="none"/>
<path d="M344.70 389.80L347.10 385.60L349.50 389.80Z" fill="#e23434"/>
<path d="M367.00 383.87V394.49M365.50 383.87H368.50M365.50 394.49H368.50" stroke="#e23434" stroke-width="0.9" fill="none"/>
<path d="M364.60 390.98L367.00 386.78L369.40 390.98Z" fill="#e23434"/>
<path d="M267.50 381.51V394.49M266.00 381.51H269.00M266.00 394.49H269.00" stroke="#e22a7c" stroke-width="0.9" fill="none"/>
<circle cx="267.50" cy="388.00" r="2.1" fill="#e22a7c"/>
<path d="M287.40 380.62V385.93M285.90 380.62H288.90M285.90 385.93H288.90" stroke="#e22a7c" stroke-width="0.9" fill="none"/>
<circle cx="287.40" cy="383.28" r="2.1" fill="#e22a7c"/>
<path d="M307.30 385.34V394.19M305.80 385.34H308.80M305.80 394.19H308.80" stroke="#e22a7c" stroke-width="0.9" fill="none"/>
<circle cx="307.30" cy="389.77" r="2.1" fill="#e22a7c"/>
<path d="M327.20 382.99V395.38M325.70 382.99H328.70M325.70 395.38H328.70" stroke="#e22a7c" stroke-width="0.9" fill="none"/>
<circle cx="327.20" cy="389.18" r="2.1" fill="#e22a7c"/>
<path d="M347.10 388.00V395.08M345.60 388.00H348.60M345.60 395.08H348.60" stroke="#e22a7c" stroke-width="0.9" fill="none"/>
<circle cx="347.10" cy="391.54" r="2.1" fill="#e22a7c"/>
<path d="M367.00 384.46V395.08M365.50 384.46H368.50M365.50 395.08H368.50" stroke="#e22a7c" stroke-width="0.9" fill="none"/>
<circle cx="367.00" cy="389.77" r="2.1" fill="#e22a7c"/>
<g stroke="#111" stroke-width="1.3" fill="none">
<path d="M396.00 377.00V447.50H515.00"/>
<path d="M393.40 447.50H396.00"/>
<path d="M393.40 425.75H396.00"/>
<path d="M393.40 404.00H396.00"/>
<path d="M393.40 382.25H396.00"/>
<path d="M404.50 447.50V450.10"/>
<path d="M424.50 447.50V450.10"/>
<path d="M444.50 447.50V450.10"/>
<path d="M464.50 447.50V450.10"/>
<path d="M484.50 447.50V450.10"/>
<path d="M504.50 447.50V450.10"/>
</g>
<text x="392.60" y="450.20" font-size="7.9" font-weight="bold" fill="#222" stroke="#222" stroke-width="0.08" text-anchor="end">0.0</text>
<text x="392.60" y="428.45" font-size="7.9" font-weight="bold" fill="#222" stroke="#222" stroke-width="0.08" text-anchor="end">0.5</text>
<text x="392.60" y="406.70" font-size="7.9" font-weight="bold" fill="#222" stroke="#222" stroke-width="0.08" text-anchor="end">1.0</text>
<text x="392.60" y="384.95" font-size="7.9" font-weight="bold" fill="#222" stroke="#222" stroke-width="0.08" text-anchor="end">1.5</text>
<text x="404.50" y="457.20" font-size="7.2" fill="#333" text-anchor="middle">10<tspan font-size="4.46" dy="-3">-6</tspan></text>
<text x="424.50" y="457.20" font-size="7.2" fill="#333" text-anchor="middle">10<tspan font-size="4.46" dy="-3">-5</tspan></text>
<text x="444.50" y="457.20" font-size="7.2" fill="#333" text-anchor="middle">10<tspan font-size="4.46" dy="-3">-4</tspan></text>
<text x="464.50" y="457.20" font-size="7.2" fill="#333" text-anchor="middle">10<tspan font-size="4.46" dy="-3">-3</tspan></text>
<text x="484.50" y="457.20" font-size="7.2" fill="#333" text-anchor="middle">10<tspan font-size="4.46" dy="-3">-2</tspan></text>
<text x="504.50" y="457.20" font-size="7.2" fill="#333" text-anchor="middle">10<tspan font-size="4.46" dy="-3">-1</tspan></text>
<text x="398.50" y="443.50" font-size="8.9" fill="#333" stroke="#333" stroke-width="0.18" text-anchor="start">Trametinib (MEK1/2 inh)</text>
<path d="M404.50 404.00L424.50 404.00L444.50 404.00L464.50 404.00L484.50 390.95L504.50 393.12" stroke="#d24496" stroke-width="1.35" fill="none"/>
<path d="M404.50 404.00L424.50 404.87L444.50 404.00L464.50 395.30L484.50 389.64L504.50 403.13" stroke="#f08a2c" stroke-width="1.35" fill="none"/>
<path d="M404.50 404.00L424.50 406.18L444.50 404.00L464.50 399.65L484.50 390.95L504.50 395.30" stroke="#8a8a38" stroke-width="1.35" fill="none"/>
<path d="M404.50 404.00L424.50 409.22L444.50 393.12L464.50 391.38L484.50 383.12L504.50 393.12" stroke="#2a8a80" stroke-width="1.35" fill="none"/>
<path d="M404.50 404.00L424.50 409.22L444.50 397.91L464.50 404.00L484.50 392.25L504.50 414.00" stroke="#3a4a96" stroke-width="1.35" fill="none"/>
<path d="M404.50 404.00L424.50 404.87L444.50 407.48L464.50 417.92L484.50 433.58L504.50 440.98" stroke="#6a2c8c" stroke-width="1.35" fill="none"/>
<path d="M404.50 404.00L424.50 404.00L444.50 407.48L464.50 417.05L484.50 434.01L504.50 441.41" stroke="#e22a7c" stroke-width="1.35" fill="none"/>
<path d="M404.50 404.00L424.50 408.35L444.50 414.00L464.50 420.53L484.50 433.14L504.50 441.85" stroke="#f08a2c" stroke-width="1.35" fill="none"/>
<path d="M404.50 404.00L424.50 407.48L444.50 412.70L464.50 419.23L484.50 433.58L504.50 441.41" stroke="#7a8a3a" stroke-width="1.35" fill="none"/>
<path d="M404.50 404.00L424.50 404.00L444.50 406.18L464.50 417.92L484.50 434.45L504.50 442.28" stroke="#e0307c" stroke-width="1.35" fill="none"/>
<path d="M404.50 399.21V408.79M403.00 399.21H406.00M403.00 408.79H406.00" stroke="#d24496" stroke-width="0.9" fill="none"/>
<path d="M404.50 401.50L407.00 404.00L404.50 406.50L402.00 404.00Z" fill="#d24496"/>
<path d="M424.50 400.74V407.26M423.00 400.74H426.00M423.00 407.26H426.00" stroke="#d24496" stroke-width="0.9" fill="none"/>
<path d="M424.50 401.50L427.00 404.00L424.50 406.50L422.00 404.00Z" fill="#d24496"/>
<path d="M444.50 399.43V408.57M443.00 399.43H446.00M443.00 408.57H446.00" stroke="#d24496" stroke-width="0.9" fill="none"/>
<path d="M444.50 401.50L447.00 404.00L444.50 406.50L442.00 404.00Z" fill="#d24496"/>
<path d="M464.50 401.39V406.61M463.00 401.39H466.00M463.00 406.61H466.00" stroke="#d24496" stroke-width="0.9" fill="none"/>
<path d="M464.50 401.50L467.00 404.00L464.50 406.50L462.00 404.00Z" fill="#d24496"/>
<path d="M484.50 387.03V394.87M483.00 387.03H486.00M483.00 394.87H486.00" stroke="#d24496" stroke-width="0.9" fill="none"/>
<path d="M484.50 388.45L487.00 390.95L484.50 393.45L482.00 390.95Z" fill="#d24496"/>
<path d="M504.50 391.17V395.08M503.00 391.17H506.00M503.00 395.08H506.00" stroke="#d24496" stroke-width="0.9" fill="none"/>
<path d="M504.50 390.62L507.00 393.12L504.50 395.62L502.00 393.12Z" fill="#d24496"/>
<path d="M404.50 399.21V408.79M403.00 399.21H406.00M403.00 408.79H406.00" stroke="#f08a2c" stroke-width="0.9" fill="none"/>
<rect x="402.40" y="401.90" width="4.2" height="4.2" fill="#f08a2c"/>
<path d="M424.50 402.26V407.48M423.00 402.26H426.00M423.00 407.48H426.00" stroke="#f08a2c" stroke-width="0.9" fill="none"/>
<rect x="422.40" y="402.77" width="4.2" height="4.2" fill="#f08a2c"/>
<path d="M444.50 400.08V407.92M443.00 400.08H446.00M443.00 407.92H446.00" stroke="#f08a2c" stroke-width="0.9" fill="none"/>
<rect x="442.40" y="401.90" width="4.2" height="4.2" fill="#f08a2c"/>
<path d="M464.50 393.34V397.26M463.00 393.34H466.00M463.00 397.26H466.00" stroke="#f08a2c" stroke-width="0.9" fill="none"/>
<rect x="462.40" y="393.20" width="4.2" height="4.2" fill="#f08a2c"/>
<path d="M484.50 386.38V392.91M483.00 386.38H486.00M483.00 392.91H486.00" stroke="#f08a2c" stroke-width="0.9" fill="none"/>
<rect x="482.40" y="387.54" width="4.2" height="4.2" fill="#f08a2c"/>
<path d="M504.50 398.56V407.70M503.00 398.56H506.00M503.00 407.70H506.00" stroke="#f08a2c" stroke-width="0.9" fill="none"/>
<rect x="502.40" y="401.03" width="4.2" height="4.2" fill="#f08a2c"/>
<path d="M404.50 399.21V408.79M403.00 399.21H406.00M403.00 408.79H406.00" stroke="#8a8a38" stroke-width="0.9" fill="none"/>
<path d="M402.10 405.80L404.50 401.60L406.90 405.80Z" fill="#8a8a38"/>
<path d="M424.50 403.56V408.79M423.00 403.56H426.00M423.00 408.79H426.00" stroke="#8a8a38" stroke-width="0.9" fill="none"/>
<path d="M422.10 407.98L424.50 403.77L426.90 407.98Z" fill="#8a8a38"/>
<path d="M444.50 400.08V407.92M443.00 400.08H446.00M443.00 407.92H446.00" stroke="#8a8a38" stroke-width="0.9" fill="none"/>
<path d="M442.10 405.80L444.50 401.60L446.90 405.80Z" fill="#8a8a38"/>
<path d="M464.50 397.69V401.61M463.00 397.69H466.00M463.00 401.61H466.00" stroke="#8a8a38" stroke-width="0.9" fill="none"/>
<path d="M462.10 401.45L464.50 397.25L466.90 401.45Z" fill="#8a8a38"/>
<path d="M484.50 387.69V394.21M483.00 387.69H486.00M483.00 394.21H486.00" stroke="#8a8a38" stroke-width="0.9" fill="none"/>
<path d="M482.10 392.75L484.50 388.55L486.90 392.75Z" fill="#8a8a38"/>
<path d="M504.50 390.73V399.87M503.00 390.73H506.00M503.00 399.87H506.00" stroke="#8a8a38" stroke-width="0.9" fill="none"/>
<path d="M502.10 397.10L504.50 392.90L506.90 397.10Z" fill="#8a8a38"/>
<path d="M404.50 399.21V408.79M403.00 399.21H406.00M403.00 408.79H406.00" stroke="#2a8a80" stroke-width="0.9" fill="none"/>
<path d="M404.50 401.50L407.00 404.00L404.50 406.50L402.00 404.00Z" fill="#2a8a80"/>
<path d="M424.50 404.65V413.79M423.00 404.65H426.00M423.00 413.79H426.00" stroke="#2a8a80" stroke-width="0.9" fill="none"/>
<path d="M424.50 406.72L427.00 409.22L424.50 411.72L422.00 409.22Z" fill="#2a8a80"/>
<path d="M444.50 390.51V395.74M443.00 390.51H446.00M443.00 395.74H446.00" stroke="#2a8a80" stroke-width="0.9" fill="none"/>
<path d="M444.50 390.62L447.00 393.12L444.50 395.62L442.00 393.12Z" fill="#2a8a80"/>
<path d="M464.50 387.47V395.30M463.00 387.47H466.00M463.00 395.30H466.00" stroke="#2a8a80" stroke-width="0.9" fill="none"/>
<path d="M464.50 388.88L467.00 391.38L464.50 393.88L462.00 391.38Z" fill="#2a8a80"/>
<path d="M484.50 381.16V385.08M483.00 381.16H486.00M483.00 385.08H486.00" stroke="#2a8a80" stroke-width="0.9" fill="none"/>
<path d="M484.50 380.62L487.00 383.12L484.50 385.62L482.00 383.12Z" fill="#2a8a80"/>
<path d="M504.50 389.86V396.39M503.00 389.86H506.00M503.00 396.39H506.00" stroke="#2a8a80" stroke-width="0.9" fill="none"/>
<path d="M504.50 390.62L507.00 393.12L504.50 395.62L502.00 393.12Z" fill="#2a8a80"/>
<path d="M404.50 399.21V408.79M403.00 399.21H406.00M403.00 408.79H406.00" stroke="#3a4a96" stroke-width="0.9" fill="none"/>
<rect x="402.40" y="401.90" width="4.2" height="4.2" fill="#3a4a96"/>
<path d="M424.50 407.26V411.18M423.00 407.26H426.00M423.00 411.18H426.00" stroke="#3a4a96" stroke-width="0.9" fill="none"/>
<rect x="422.40" y="407.12" width="4.2" height="4.2" fill="#3a4a96"/>
<path d="M444.50 394.65V401.17M443.00 394.65H446.00M443.00 401.17H446.00" stroke="#3a4a96" stroke-width="0.9" fill="none"/>
<rect x="442.40" y="395.81" width="4.2" height="4.2" fill="#3a4a96"/>
<path d="M464.50 399.43V408.57M463.00 399.43H466.00M463.00 408.57H466.00" stroke="#3a4a96" stroke-width="0.9" fill="none"/>
<rect x="462.40" y="401.90" width="4.2" height="4.2" fill="#3a4a96"/>
<path d="M484.50 389.64V394.87M483.00 389.64H486.00M483.00 394.87H486.00" stroke="#3a4a96" stroke-width="0.9" fill="none"/>
<rect x="482.40" y="390.15" width="4.2" height="4.2" fill="#3a4a96"/>
<path d="M504.50 410.09V417.92M503.00 410.09H506.00M503.00 417.92H506.00" stroke="#3a4a96" stroke-width="0.9" fill="none"/>
<rect x="502.40" y="411.90" width="4.2" height="4.2" fill="#3a4a96"/>
<path d="M404.50 399.21V408.79M403.00 399.21H406.00M403.00 408.79H406.00" stroke="#6a2c8c" stroke-width="0.9" fill="none"/>
<circle cx="404.50" cy="404.00" r="2.1" fill="#6a2c8c"/>
<path d="M424.50 400.30V409.44M423.00 400.30H426.00M423.00 409.44H426.00" stroke="#6a2c8c" stroke-width="0.9" fill="none"/>
<circle cx="424.50" cy="404.87" r="2.1" fill="#6a2c8c"/>
<path d="M444.50 404.87V410.09M443.00 404.87H446.00M443.00 410.09H446.00" stroke="#6a2c8c" stroke-width="0.9" fill="none"/>
<circle cx="444.50" cy="407.48" r="2.1" fill="#6a2c8c"/>
<path d="M464.50 414.00V421.84M463.00 414.00H466.00M463.00 421.84H466.00" stroke="#6a2c8c" stroke-width="0.9" fill="none"/>
<circle cx="464.50" cy="417.92" r="2.1" fill="#6a2c8c"/>
<path d="M484.50 431.62V435.54M483.00 431.62H486.00M483.00 435.54H486.00" stroke="#6a2c8c" stroke-width="0.9" fill="none"/>
<circle cx="484.50" cy="433.58" r="2.1" fill="#6a2c8c"/>
<path d="M504.50 437.71V444.24M503.00 437.71H506.00M503.00 444.24H506.00" stroke="#6a2c8c" stroke-width="0.9" fill="none"/>
<circle cx="504.50" cy="440.98" r="2.1" fill="#6a2c8c"/>
<path d="M404.50 399.21V408.79M403.00 399.21H406.00M403.00 408.79H406.00" stroke="#e22a7c" stroke-width="0.9" fill="none"/>
<circle cx="404.50" cy="404.00" r="2.1" fill="#e22a7c"/>
<path d="M424.50 400.08V407.92M423.00 400.08H426.00M423.00 407.92H426.00" stroke="#e22a7c" stroke-width="0.9" fill="none"/>
<circle cx="424.50" cy="404.00" r="2.1" fill="#e22a7c"/>
<path d="M444.50 405.52V409.44M443.00 405.52H446.00M443.00 409.44H446.00" stroke="#e22a7c" stroke-width="0.9" fill="none"/>
<circle cx="444.50" cy="407.48" r="2.1" fill="#e22a7c"/>
<path d="M464.50 413.79V420.31M463.00 413.79H466.00M463.00 420.31H466.00" stroke="#e22a7c" stroke-width="0.9" fill="none"/>
<circle cx="464.50" cy="417.05" r="2.1" fill="#e22a7c"/>
<path d="M484.50 429.45V438.58M483.00 429.45H486.00M483.00 438.58H486.00" stroke="#e22a7c" stroke-width="0.9" fill="none"/>
<circle cx="484.50" cy="434.01" r="2.1" fill="#e22a7c"/>
<path d="M504.50 438.80V444.02M503.00 438.80H506.00M503.00 444.02H506.00" stroke="#e22a7c" stroke-width="0.9" fill="none"/>
<circle cx="504.50" cy="441.41" r="2.1" fill="#e22a7c"/>
<path d="M404.50 399.21V408.79M403.00 399.21H406.00M403.00 408.79H406.00" stroke="#f08a2c" stroke-width="0.9" fill="none"/>
<rect x="402.40" y="401.90" width="4.2" height="4.2" fill="#f08a2c"/>
<path d="M424.50 404.44V412.27M423.00 404.44H426.00M423.00 412.27H426.00" stroke="#f08a2c" stroke-width="0.9" fill="none"/>
<rect x="422.40" y="406.25" width="4.2" height="4.2" fill="#f08a2c"/>
<path d="M444.50 412.05V415.96M443.00 412.05H446.00M443.00 415.96H446.00" stroke="#f08a2c" stroke-width="0.9" fill="none"/>
<rect x="442.40" y="411.90" width="4.2" height="4.2" fill="#f08a2c"/>
<path d="M464.50 417.27V423.79M463.00 417.27H466.00M463.00 423.79H466.00" stroke="#f08a2c" stroke-width="0.9" fill="none"/>
<rect x="462.40" y="418.43" width="4.2" height="4.2" fill="#f08a2c"/>
<path d="M484.50 428.58V437.71M483.00 428.58H486.00M483.00 437.71H486.00" stroke="#f08a2c" stroke-width="0.9" fill="none"/>
<rect x="482.40" y="431.04" width="4.2" height="4.2" fill="#f08a2c"/>
<path d="M504.50 439.24V444.46M503.00 439.24H506.00M503.00 444.46H506.00" stroke="#f08a2c" stroke-width="0.9" fill="none"/>
<rect x="502.40" y="439.75" width="4.2" height="4.2" fill="#f08a2c"/>
<path d="M404.50 399.21V408.79M403.00 399.21H406.00M403.00 408.79H406.00" stroke="#7a8a3a" stroke-width="0.9" fill="none"/>
<path d="M402.10 405.80L404.50 401.60L406.90 405.80Z" fill="#7a8a3a"/>
<path d="M424.50 404.87V410.09M423.00 404.87H426.00M423.00 410.09H426.00" stroke="#7a8a3a" stroke-width="0.9" fill="none"/>
<path d="M422.10 409.28L424.50 405.08L426.90 409.28Z" fill="#7a8a3a"/>
<path d="M444.50 408.78V416.62M443.00 408.78H446.00M443.00 416.62H446.00" stroke="#7a8a3a" stroke-width="0.9" fill="none"/>
<path d="M442.10 414.50L444.50 410.30L446.90 414.50Z" fill="#7a8a3a"/>
<path d="M464.50 417.27V421.18M463.00 417.27H466.00M463.00 421.18H466.00" stroke="#7a8a3a" stroke-width="0.9" fill="none"/>
<path d="M462.10 421.03L464.50 416.82L466.90 421.03Z" fill="#7a8a3a"/>
<path d="M484.50 430.32V436.84M483.00 430.32H486.00M483.00 436.84H486.00" stroke="#7a8a3a" stroke-width="0.9" fill="none"/>
<path d="M482.10 435.38L484.50 431.18L486.90 435.38Z" fill="#7a8a3a"/>
<path d="M504.50 436.84V445.98M503.00 436.84H506.00M503.00 445.98H506.00" stroke="#7a8a3a" stroke-width="0.9" fill="none"/>
<path d="M502.10 443.21L504.50 439.01L506.90 443.21Z" fill="#7a8a3a"/>
<path d="M404.50 399.21V408.79M403.00 399.21H406.00M403.00 408.79H406.00" stroke="#e0307c" stroke-width="0.9" fill="none"/>
<path d="M404.50 401.50L407.00 404.00L404.50 406.50L402.00 404.00Z" fill="#e0307c"/>
<path d="M424.50 400.74V407.26M423.00 400.74H426.00M423.00 407.26H426.00" stroke="#e0307c" stroke-width="0.9" fill="none"/>
<path d="M424.50 401.50L427.00 404.00L424.50 406.50L422.00 404.00Z" fill="#e0307c"/>
<path d="M444.50 401.61V410.74M443.00 401.61H446.00M443.00 410.74H446.00" stroke="#e0307c" stroke-width="0.9" fill="none"/>
<path d="M444.50 403.68L447.00 406.18L444.50 408.68L442.00 406.18Z" fill="#e0307c"/>
<path d="M464.50 415.31V420.53M463.00 415.31H466.00M463.00 420.53H466.00" stroke="#e0307c" stroke-width="0.9" fill="none"/>
<path d="M464.50 415.42L467.00 417.92L464.50 420.42L462.00 417.92Z" fill="#e0307c"/>
<path d="M484.50 430.53V438.37M483.00 430.53H486.00M483.00 438.37H486.00" stroke="#e0307c" stroke-width="0.9" fill="none"/>
<path d="M484.50 431.95L487.00 434.45L484.50 436.95L482.00 434.45Z" fill="#e0307c"/>
<path d="M504.50 440.32V444.24M503.00 440.32H506.00M503.00 444.24H506.00" stroke="#e0307c" stroke-width="0.9" fill="none"/>
<path d="M504.50 439.78L507.00 442.28L504.50 444.78L502.00 442.28Z" fill="#e0307c"/>
<g stroke="#111" stroke-width="1.3" fill="none">
<path d="M259.50 463.50V534.50H375.00"/>
<path d="M256.90 534.50H259.50"/>
<path d="M256.90 505.25H259.50"/>
<path d="M256.90 476.00H259.50"/>
<path d="M267.50 534.50V537.10"/>
<path d="M287.40 534.50V537.10"/>
<path d="M307.30 534.50V537.10"/>
<path d="M327.20 534.50V537.10"/>
<path d="M347.10 534.50V537.10"/>
<path d="M367.00 534.50V537.10"/>
</g>
<text x="256.10" y="537.20" font-size="7.9" font-weight="bold" fill="#222" stroke="#222" stroke-width="0.08" text-anchor="end">0.0</text>
<text x="256.10" y="507.95" font-size="7.9" font-weight="bold" fill="#222" stroke="#222" stroke-width="0.08" text-anchor="end">0.5</text>
<text x="256.10" y="478.70" font-size="7.9" font-weight="bold" fill="#222" stroke="#222" stroke-width="0.08" text-anchor="end">1.0</text>
<text x="240.60" y="503.50" font-size="8.6" fill="#3a3a3a" stroke="#3a3a3a" stroke-width="0.18" text-anchor="middle" transform="rotate(-90 240.6 503.5)" textLength="27.8" lengthAdjust="spacingAndGlyphs">Survival</text>
<text x="261.50" y="531.00" font-size="8.9" fill="#333" stroke="#333" stroke-width="0.18" text-anchor="start">VX-702 (p38 inh)</text>
<path d="M267.50 476.00L287.40 470.15L307.30 471.32L327.20 471.32L347.10 470.15L367.00 470.15" stroke="#f2b872" stroke-width="1.35" fill="none"/>
<path d="M267.50 476.00L287.40 473.07L307.30 473.07L327.20 476.00L347.10 478.93L367.00 480.10" stroke="#2a8a56" stroke-width="1.35" fill="none"/>
<path d="M267.50 476.00L287.40 480.10L307.30 481.85L327.20 480.68L347.10 481.85L367.00 482.44" stroke="#3a58a6" stroke-width="1.35" fill="none"/>
<path d="M267.50 476.00L287.40 471.32L307.30 474.83L327.20 473.07L347.10 476.00L367.00 478.93" stroke="#8a8a38" stroke-width="1.35" fill="none"/>
<path d="M267.50 476.00L287.40 473.07L307.30 467.81L327.20 473.07L347.10 476.00L367.00 480.68" stroke="#6a2c8c" stroke-width="1.35" fill="none"/>
<path d="M267.50 476.00L287.40 468.98L307.30 473.07L327.20 471.32L347.10 473.07L367.00 478.93" stroke="#74903c" stroke-width="1.35" fill="none"/>
<path d="M267.50 476.00L287.40 471.32L307.30 473.07L327.20 471.32L347.10 470.15L367.00 470.15" stroke="#f08a2c" stroke-width="1.35" fill="none"/>
<path d="M267.50 476.00L287.40 477.17L307.30 474.25L327.20 480.68L347.10 484.77L367.00 488.87" stroke="#d24496" stroke-width="1.35" fill="none"/>
<path d="M267.50 476.00L287.40 476.00L307.30 473.07L327.20 473.07L347.10 471.32L367.00 470.15" stroke="#e23434" stroke-width="1.35" fill="none"/>
<path d="M267.50 476.00L287.40 477.75L307.30 474.25L327.20 483.02L347.10 485.94L367.00 491.80" stroke="#e22a7c" stroke-width="1.35" fill="none"/>
<path d="M267.50 469.56V482.44M266.00 469.56H269.00M266.00 482.44H269.00" stroke="#f2b872" stroke-width="0.9" fill="none"/>
<path d="M265.40 473.90L269.60 478.10M269.60 473.90L265.40 478.10" stroke="#f2b872" stroke-width="1.2"/>
<path d="M287.40 464.01V476.29M285.90 464.01H288.90M285.90 476.29H288.90" stroke="#f2b872" stroke-width="0.9" fill="none"/>
<path d="M285.30 468.05L289.50 472.25M289.50 468.05L285.30 472.25" stroke="#f2b872" stroke-width="1.2"/>
<path d="M307.30 467.81V474.83M305.80 467.81H308.80M305.80 474.83H308.80" stroke="#f2b872" stroke-width="0.9" fill="none"/>
<path d="M305.20 469.22L309.40 473.42M309.40 469.22L305.20 473.42" stroke="#f2b872" stroke-width="1.2"/>
<path d="M327.20 466.06V476.58M325.70 466.06H328.70M325.70 476.58H328.70" stroke="#f2b872" stroke-width="0.9" fill="none"/>
<path d="M325.10 469.22L329.30 473.42M329.30 469.22L325.10 473.42" stroke="#f2b872" stroke-width="1.2"/>
<path d="M347.10 467.52V472.78M345.60 467.52H348.60M345.60 472.78H348.60" stroke="#f2b872" stroke-width="0.9" fill="none"/>
<path d="M345.00 468.05L349.20 472.25M349.20 468.05L345.00 472.25" stroke="#f2b872" stroke-width="1.2"/>
<path d="M367.00 465.76V474.54M365.50 465.76H368.50M365.50 474.54H368.50" stroke="#f2b872" stroke-width="0.9" fill="none"/>
<path d="M364.90 468.05L369.10 472.25M369.10 468.05L364.90 472.25" stroke="#f2b872" stroke-width="1.2"/>
<path d="M267.50 469.56V482.44M266.00 469.56H269.00M266.00 482.44H269.00" stroke="#2a8a56" stroke-width="0.9" fill="none"/>
<path d="M265.10 477.80L267.50 473.60L269.90 477.80Z" fill="#2a8a56"/>
<path d="M287.40 466.93V479.22M285.90 466.93H288.90M285.90 479.22H288.90" stroke="#2a8a56" stroke-width="0.9" fill="none"/>
<path d="M285.00 474.88L287.40 470.67L289.80 474.88Z" fill="#2a8a56"/>
<path d="M307.30 469.56V476.58M305.80 469.56H308.80M305.80 476.58H308.80" stroke="#2a8a56" stroke-width="0.9" fill="none"/>
<path d="M304.90 474.88L307.30 470.67L309.70 474.88Z" fill="#2a8a56"/>
<path d="M327.20 470.74V481.26M325.70 470.74H328.70M325.70 481.26H328.70" stroke="#2a8a56" stroke-width="0.9" fill="none"/>
<path d="M324.80 477.80L327.20 473.60L329.60 477.80Z" fill="#2a8a56"/>
<path d="M347.10 476.29V481.56M345.60 476.29H348.60M345.60 481.56H348.60" stroke="#2a8a56" stroke-width="0.9" fill="none"/>
<path d="M344.70 480.73L347.10 476.52L349.50 480.73Z" fill="#2a8a56"/>
<path d="M367.00 475.71V484.48M365.50 475.71H368.50M365.50 484.48H368.50" stroke="#2a8a56" stroke-width="0.9" fill="none"/>
<path d="M364.60 481.90L367.00 477.69L369.40 481.90Z" fill="#2a8a56"/>
<path d="M267.50 469.56V482.44M266.00 469.56H269.00M266.00 482.44H269.00" stroke="#3a58a6" stroke-width="0.9" fill="none"/>
<rect x="265.40" y="473.90" width="4.2" height="4.2" fill="#3a58a6"/>
<path d="M287.40 476.59V483.61M285.90 476.59H288.90M285.90 483.61H288.90" stroke="#3a58a6" stroke-width="0.9" fill="none"/>
<rect x="285.30" y="478.00" width="4.2" height="4.2" fill="#3a58a6"/>
<path d="M307.30 476.59V487.12M305.80 476.59H308.80M305.80 487.12H308.80" stroke="#3a58a6" stroke-width="0.9" fill="none"/>
<rect x="305.20" y="479.75" width="4.2" height="4.2" fill="#3a58a6"/>
<path d="M327.20 478.05V483.31M325.70 478.05H328.70M325.70 483.31H328.70" stroke="#3a58a6" stroke-width="0.9" fill="none"/>
<rect x="325.10" y="478.58" width="4.2" height="4.2" fill="#3a58a6"/>
<path d="M347.10 477.46V486.24M345.60 477.46H348.60M345.60 486.24H348.60" stroke="#3a58a6" stroke-width="0.9" fill="none"/>
<rect x="345.00" y="479.75" width="4.2" height="4.2" fill="#3a58a6"/>
<path d="M367.00 476.29V488.58M365.50 476.29H368.50M365.50 488.58H368.50" stroke="#3a58a6" stroke-width="0.9" fill="none"/>
<rect x="364.90" y="480.33" width="4.2" height="4.2" fill="#3a58a6"/>
<path d="M267.50 469.56V482.44M266.00 469.56H269.00M266.00 482.44H269.00" stroke="#8a8a38" stroke-width="0.9" fill="none"/>
<path d="M267.50 473.50L270.00 476.00L267.50 478.50L265.00 476.00Z" fill="#8a8a38"/>
<path d="M287.40 467.81V474.83M285.90 467.81H288.90M285.90 474.83H288.90" stroke="#8a8a38" stroke-width="0.9" fill="none"/>
<path d="M287.40 468.82L289.90 471.32L287.40 473.82L284.90 471.32Z" fill="#8a8a38"/>
<path d="M307.30 469.56V480.09M305.80 469.56H308.80M305.80 480.09H308.80" stroke="#8a8a38" stroke-width="0.9" fill="none"/>
<path d="M307.30 472.33L309.80 474.83L307.30 477.33L304.80 474.83Z" fill="#8a8a38"/>
<path d="M327.20 470.44V475.71M325.70 470.44H328.70M325.70 475.71H328.70" stroke="#8a8a38" stroke-width="0.9" fill="none"/>
<path d="M327.20 470.57L329.70 473.07L327.20 475.57L324.70 473.07Z" fill="#8a8a38"/>
<path d="M347.10 471.61V480.39M345.60 471.61H348.60M345.60 480.39H348.60" stroke="#8a8a38" stroke-width="0.9" fill="none"/>
<path d="M347.10 473.50L349.60 476.00L347.10 478.50L344.60 476.00Z" fill="#8a8a38"/>
<path d="M367.00 472.78V485.07M365.50 472.78H368.50M365.50 485.07H368.50" stroke="#8a8a38" stroke-width="0.9" fill="none"/>
<path d="M367.00 476.43L369.50 478.93L367.00 481.43L364.50 478.93Z" fill="#8a8a38"/>
<path d="M267.50 469.56V482.44M266.00 469.56H269.00M266.00 482.44H269.00" stroke="#6a2c8c" stroke-width="0.9" fill="none"/>
<circle cx="267.50" cy="476.00" r="2.1" fill="#6a2c8c"/>
<path d="M287.40 469.56V476.58M285.90 469.56H288.90M285.90 476.58H288.90" stroke="#6a2c8c" stroke-width="0.9" fill="none"/>
<circle cx="287.40" cy="473.07" r="2.1" fill="#6a2c8c"/>
<path d="M307.30 462.55V473.07M305.80 462.55H308.80M305.80 473.07H308.80" stroke="#6a2c8c" stroke-width="0.9" fill="none"/>
<circle cx="307.30" cy="467.81" r="2.1" fill="#6a2c8c"/>
<path d="M327.20 470.44V475.71M325.70 470.44H328.70M325.70 475.71H328.70" stroke="#6a2c8c" stroke-width="0.9" fill="none"/>
<circle cx="327.20" cy="473.07" r="2.1" fill="#6a2c8c"/>
<path d="M347.10 471.61V480.39M345.60 471.61H348.60M345.60 480.39H348.60" stroke="#6a2c8c" stroke-width="0.9" fill="none"/>
<circle cx="347.10" cy="476.00" r="2.1" fill="#6a2c8c"/>
<path d="M367.00 474.54V486.82M365.50 474.54H368.50M365.50 486.82H368.50" stroke="#6a2c8c" stroke-width="0.9" fill="none"/>
<circle cx="367.00" cy="480.68" r="2.1" fill="#6a2c8c"/>
<path d="M267.50 469.56V482.44M266.00 469.56H269.00M266.00 482.44H269.00" stroke="#74903c" stroke-width="0.9" fill="none"/>
<circle cx="267.50" cy="476.00" r="2.1" fill="#74903c"/>
<path d="M287.40 466.35V471.61M285.90 466.35H288.90M285.90 471.61H288.90" stroke="#74903c" stroke-width="0.9" fill="none"/>
<circle cx="287.40" cy="468.98" r="2.1" fill="#74903c"/>
<path d="M307.30 468.69V477.46M305.80 468.69H308.80M305.80 477.46H308.80" stroke="#74903c" stroke-width="0.9" fill="none"/>
<circle cx="307.30" cy="473.07" r="2.1" fill="#74903c"/>
<path d="M327.20 465.18V477.46M325.70 465.18H328.70M325.70 477.46H328.70" stroke="#74903c" stroke-width="0.9" fill="none"/>
<circle cx="327.20" cy="471.32" r="2.1" fill="#74903c"/>
<path d="M347.10 469.56V476.58M345.60 469.56H348.60M345.60 476.58H348.60" stroke="#74903c" stroke-width="0.9" fill="none"/>
<circle cx="347.10" cy="473.07" r="2.1" fill="#74903c"/>
<path d="M367.00 473.66V484.19M365.50 473.66H368.50M365.50 484.19H368.50" stroke="#74903c" stroke-width="0.9" fill="none"/>
<circle cx="367.00" cy="478.93" r="2.1" fill="#74903c"/>
<path d="M267.50 469.56V482.44M266.00 469.56H269.00M266.00 482.44H269.00" stroke="#f08a2c" stroke-width="0.9" fill="none"/>
<rect x="265.40" y="473.90" width="4.2" height="4.2" fill="#f08a2c"/>
<path d="M287.40 466.06V476.58M285.90 466.06H288.90M285.90 476.58H288.90" stroke="#f08a2c" stroke-width="0.9" fill="none"/>
<rect x="285.30" y="469.22" width="4.2" height="4.2" fill="#f08a2c"/>
<path d="M307.30 470.44V475.71M305.80 470.44H308.80M305.80 475.71H308.80" stroke="#f08a2c" stroke-width="0.9" fill="none"/>
<rect x="305.20" y="470.97" width="4.2" height="4.2" fill="#f08a2c"/>
<path d="M327.20 466.93V475.71M325.70 466.93H328.70M325.70 475.71H328.70" stroke="#f08a2c" stroke-width="0.9" fill="none"/>
<rect x="325.10" y="469.22" width="4.2" height="4.2" fill="#f08a2c"/>
<path d="M347.10 464.01V476.29M345.60 464.01H348.60M345.60 476.29H348.60" stroke="#f08a2c" stroke-width="0.9" fill="none"/>
<rect x="345.00" y="468.05" width="4.2" height="4.2" fill="#f08a2c"/>
<path d="M367.00 466.64V473.66M365.50 466.64H368.50M365.50 473.66H368.50" stroke="#f08a2c" stroke-width="0.9" fill="none"/>
<rect x="364.90" y="468.05" width="4.2" height="4.2" fill="#f08a2c"/>
<path d="M267.50 469.56V482.44M266.00 469.56H269.00M266.00 482.44H269.00" stroke="#d24496" stroke-width="0.9" fill="none"/>
<path d="M267.50 473.50L270.00 476.00L267.50 478.50L265.00 476.00Z" fill="#d24496"/>
<path d="M287.40 472.78V481.56M285.90 472.78H288.90M285.90 481.56H288.90" stroke="#d24496" stroke-width="0.9" fill="none"/>
<path d="M287.40 474.67L289.90 477.17L287.40 479.67L284.90 477.17Z" fill="#d24496"/>
<path d="M307.30 468.10V480.39M305.80 468.10H308.80M305.80 480.39H308.80" stroke="#d24496" stroke-width="0.9" fill="none"/>
<path d="M307.30 471.75L309.80 474.25L307.30 476.75L304.80 474.25Z" fill="#d24496"/>
<path d="M327.20 477.17V484.19M325.70 477.17H328.70M325.70 484.19H328.70" stroke="#d24496" stroke-width="0.9" fill="none"/>
<path d="M327.20 478.18L329.70 480.68L327.20 483.18L324.70 480.68Z" fill="#d24496"/>
<path d="M347.10 479.51V490.04M345.60 479.51H348.60M345.60 490.04H348.60" stroke="#d24496" stroke-width="0.9" fill="none"/>
<path d="M347.10 482.27L349.60 484.77L347.10 487.27L344.60 484.77Z" fill="#d24496"/>
<path d="M367.00 486.24V491.50M365.50 486.24H368.50M365.50 491.50H368.50" stroke="#d24496" stroke-width="0.9" fill="none"/>
<path d="M367.00 486.37L369.50 488.87L367.00 491.37L364.50 488.87Z" fill="#d24496"/>
<path d="M267.50 469.56V482.44M266.00 469.56H269.00M266.00 482.44H269.00" stroke="#e23434" stroke-width="0.9" fill="none"/>
<path d="M265.10 477.80L267.50 473.60L269.90 477.80Z" fill="#e23434"/>
<path d="M287.40 473.37V478.63M285.90 473.37H288.90M285.90 478.63H288.90" stroke="#e23434" stroke-width="0.9" fill="none"/>
<path d="M285.00 477.80L287.40 473.60L289.80 477.80Z" fill="#e23434"/>
<path d="M307.30 468.69V477.46M305.80 468.69H308.80M305.80 477.46H308.80" stroke="#e23434" stroke-width="0.9" fill="none"/>
<path d="M304.90 474.88L307.30 470.67L309.70 474.88Z" fill="#e23434"/>
<path d="M327.20 466.93V479.22M325.70 466.93H328.70M325.70 479.22H328.70" stroke="#e23434" stroke-width="0.9" fill="none"/>
<path d="M324.80 474.88L327.20 470.67L329.60 474.88Z" fill="#e23434"/>
<path d="M347.10 467.81V474.83M345.60 467.81H348.60M345.60 474.83H348.60" stroke="#e23434" stroke-width="0.9" fill="none"/>
<path d="M344.70 473.12L347.10 468.92L349.50 473.12Z" fill="#e23434"/>
<path d="M367.00 464.88V475.41M365.50 464.88H368.50M365.50 475.41H368.50" stroke="#e23434" stroke-width="0.9" fill="none"/>
<path d="M364.60 471.95L367.00 467.75L369.40 471.95Z" fill="#e23434"/>
<path d="M267.50 469.56V482.44M266.00 469.56H269.00M266.00 482.44H269.00" stroke="#e22a7c" stroke-width="0.9" fill="none"/>
<circle cx="267.50" cy="476.00" r="2.1" fill="#e22a7c"/>
<path d="M287.40 475.12V480.39M285.90 475.12H288.90M285.90 480.39H288.90" stroke="#e22a7c" stroke-width="0.9" fill="none"/>
<circle cx="287.40" cy="477.75" r="2.1" fill="#e22a7c"/>
<path d="M307.30 469.86V478.63M305.80 469.86H308.80M305.80 478.63H308.80" stroke="#e22a7c" stroke-width="0.9" fill="none"/>
<circle cx="307.30" cy="474.25" r="2.1" fill="#e22a7c"/>
<path d="M327.20 476.88V489.16M325.70 476.88H328.70M325.70 489.16H328.70" stroke="#e22a7c" stroke-width="0.9" fill="none"/>
<circle cx="327.20" cy="483.02" r="2.1" fill="#e22a7c"/>
<path d="M347.10 482.44V489.45M345.60 482.44H348.60M345.60 489.45H348.60" stroke="#e22a7c" stroke-width="0.9" fill="none"/>
<circle cx="347.10" cy="485.94" r="2.1" fill="#e22a7c"/>
<path d="M367.00 486.53V497.06M365.50 486.53H368.50M365.50 497.06H368.50" stroke="#e22a7c" stroke-width="0.9" fill="none"/>
<circle cx="367.00" cy="491.80" r="2.1" fill="#e22a7c"/>
<g stroke="#111" stroke-width="1.3" fill="none">
<path d="M397.70 463.50V535.30H516.00"/>
<path d="M395.10 535.30H397.70"/>
<path d="M395.10 513.30H397.70"/>
<path d="M395.10 491.30H397.70"/>
<path d="M395.10 469.30H397.70"/>
<path d="M407.00 535.30V537.90"/>
<path d="M426.70 535.30V537.90"/>
<path d="M446.40 535.30V537.90"/>
<path d="M466.10 535.30V537.90"/>
<path d="M485.80 535.30V537.90"/>
<path d="M505.50 535.30V537.90"/>
</g>
<text x="394.30" y="538.00" font-size="7.9" font-weight="bold" fill="#222" stroke="#222" stroke-width="0.08" text-anchor="end">0.0</text>
<text x="394.30" y="516.00" font-size="7.9" font-weight="bold" fill="#222" stroke="#222" stroke-width="0.08" text-anchor="end">0.5</text>
<text x="394.30" y="494.00" font-size="7.9" font-weight="bold" fill="#222" stroke="#222" stroke-width="0.08" text-anchor="end">1.0</text>
<text x="394.30" y="472.00" font-size="7.9" font-weight="bold" fill="#222" stroke="#222" stroke-width="0.08" text-anchor="end">1.5</text>
<text x="400.00" y="531.00" font-size="8.9" fill="#333" stroke="#333" stroke-width="0.18" text-anchor="start">VX-702 (p38 inh)</text>
<path d="M407.00 491.30L426.70 482.50L446.40 489.10L466.10 493.50L485.80 481.62L505.50 477.22" stroke="#d24496" stroke-width="1.35" fill="none"/>
<path d="M407.00 491.30L426.70 489.10L446.40 483.82L466.10 475.02L485.80 475.90L505.50 478.10" stroke="#f08a2c" stroke-width="1.35" fill="none"/>
<path d="M407.00 491.30L426.70 489.10L446.40 486.90L466.10 475.90L485.80 475.02L505.50 482.50" stroke="#8a8a38" stroke-width="1.35" fill="none"/>
<path d="M407.00 491.30L426.70 493.50L446.40 494.82L466.10 483.82L485.80 483.82L505.50 478.98" stroke="#2a8a80" stroke-width="1.35" fill="none"/>
<path d="M407.00 491.30L426.70 498.78L446.40 495.70L466.10 483.82L485.80 480.30L505.50 478.10" stroke="#3a4a96" stroke-width="1.35" fill="none"/>
<path d="M407.00 491.30L426.70 489.10L446.40 491.30L466.10 494.82L485.80 497.90L505.50 500.10" stroke="#6a2c8c" stroke-width="1.35" fill="none"/>
<path d="M407.00 491.30L426.70 490.42L446.40 490.42L466.10 495.70L485.80 498.78L505.50 500.98" stroke="#e22a7c" stroke-width="1.35" fill="none"/>
<path d="M407.00 491.30L426.70 491.30L446.40 493.50L466.10 494.82L485.80 495.70L505.50 495.70" stroke="#f08a2c" stroke-width="1.35" fill="none"/>
<path d="M407.00 491.30L426.70 492.18L446.40 495.70L466.10 493.50L485.80 492.62L505.50 495.70" stroke="#7a8a3a" stroke-width="1.35" fill="none"/>
<path d="M407.00 491.30L426.70 489.98L446.40 492.18L466.10 494.82L485.80 497.90L505.50 500.98" stroke="#e0307c" stroke-width="1.35" fill="none"/>
<path d="M407.00 486.46V496.14M405.50 486.46H408.50M405.50 496.14H408.50" stroke="#d24496" stroke-width="0.9" fill="none"/>
<path d="M407.00 488.80L409.50 491.30L407.00 493.80L404.50 491.30Z" fill="#d24496"/>
<path d="M426.70 479.20V485.80M425.20 479.20H428.20M425.20 485.80H428.20" stroke="#d24496" stroke-width="0.9" fill="none"/>
<path d="M426.70 480.00L429.20 482.50L426.70 485.00L424.20 482.50Z" fill="#d24496"/>
<path d="M446.40 484.48V493.72M444.90 484.48H447.90M444.90 493.72H447.90" stroke="#d24496" stroke-width="0.9" fill="none"/>
<path d="M446.40 486.60L448.90 489.10L446.40 491.60L443.90 489.10Z" fill="#d24496"/>
<path d="M466.10 490.86V496.14M464.60 490.86H467.60M464.60 496.14H467.60" stroke="#d24496" stroke-width="0.9" fill="none"/>
<path d="M466.10 491.00L468.60 493.50L466.10 496.00L463.60 493.50Z" fill="#d24496"/>
<path d="M485.80 477.66V485.58M484.30 477.66H487.30M484.30 485.58H487.30" stroke="#d24496" stroke-width="0.9" fill="none"/>
<path d="M485.80 479.12L488.30 481.62L485.80 484.12L483.30 481.62Z" fill="#d24496"/>
<path d="M505.50 475.24V479.20M504.00 475.24H507.00M504.00 479.20H507.00" stroke="#d24496" stroke-width="0.9" fill="none"/>
<path d="M505.50 474.72L508.00 477.22L505.50 479.72L503.00 477.22Z" fill="#d24496"/>
<path d="M407.00 486.46V496.14M405.50 486.46H408.50M405.50 496.14H408.50" stroke="#f08a2c" stroke-width="0.9" fill="none"/>
<rect x="404.90" y="489.20" width="4.2" height="4.2" fill="#f08a2c"/>
<path d="M426.70 486.46V491.74M425.20 486.46H428.20M425.20 491.74H428.20" stroke="#f08a2c" stroke-width="0.9" fill="none"/>
<rect x="424.60" y="487.00" width="4.2" height="4.2" fill="#f08a2c"/>
<path d="M446.40 479.86V487.78M444.90 479.86H447.90M444.90 487.78H447.90" stroke="#f08a2c" stroke-width="0.9" fill="none"/>
<rect x="444.30" y="481.72" width="4.2" height="4.2" fill="#f08a2c"/>
<path d="M466.10 473.04V477.00M464.60 473.04H467.60M464.60 477.00H467.60" stroke="#f08a2c" stroke-width="0.9" fill="none"/>
<rect x="464.00" y="472.92" width="4.2" height="4.2" fill="#f08a2c"/>
<path d="M485.80 472.60V479.20M484.30 472.60H487.30M484.30 479.20H487.30" stroke="#f08a2c" stroke-width="0.9" fill="none"/>
<rect x="483.70" y="473.80" width="4.2" height="4.2" fill="#f08a2c"/>
<path d="M505.50 473.48V482.72M504.00 473.48H507.00M504.00 482.72H507.00" stroke="#f08a2c" stroke-width="0.9" fill="none"/>
<rect x="503.40" y="476.00" width="4.2" height="4.2" fill="#f08a2c"/>
<path d="M407.00 486.46V496.14M405.50 486.46H408.50M405.50 496.14H408.50" stroke="#8a8a38" stroke-width="0.9" fill="none"/>
<path d="M404.60 493.10L407.00 488.90L409.40 493.10Z" fill="#8a8a38"/>
<path d="M426.70 486.46V491.74M425.20 486.46H428.20M425.20 491.74H428.20" stroke="#8a8a38" stroke-width="0.9" fill="none"/>
<path d="M424.30 490.90L426.70 486.70L429.10 490.90Z" fill="#8a8a38"/>
<path d="M446.40 482.94V490.86M444.90 482.94H447.90M444.90 490.86H447.90" stroke="#8a8a38" stroke-width="0.9" fill="none"/>
<path d="M444.00 488.70L446.40 484.50L448.80 488.70Z" fill="#8a8a38"/>
<path d="M466.10 473.92V477.88M464.60 473.92H467.60M464.60 477.88H467.60" stroke="#8a8a38" stroke-width="0.9" fill="none"/>
<path d="M463.70 477.70L466.10 473.50L468.50 477.70Z" fill="#8a8a38"/>
<path d="M485.80 471.72V478.32M484.30 471.72H487.30M484.30 478.32H487.30" stroke="#8a8a38" stroke-width="0.9" fill="none"/>
<path d="M483.40 476.82L485.80 472.62L488.20 476.82Z" fill="#8a8a38"/>
<path d="M505.50 477.88V487.12M504.00 477.88H507.00M504.00 487.12H507.00" stroke="#8a8a38" stroke-width="0.9" fill="none"/>
<path d="M503.10 484.30L505.50 480.10L507.90 484.30Z" fill="#8a8a38"/>
<path d="M407.00 486.46V496.14M405.50 486.46H408.50M405.50 496.14H408.50" stroke="#2a8a80" stroke-width="0.9" fill="none"/>
<path d="M407.00 488.80L409.50 491.30L407.00 493.80L404.50 491.30Z" fill="#2a8a80"/>
<path d="M426.70 488.88V498.12M425.20 488.88H428.20M425.20 498.12H428.20" stroke="#2a8a80" stroke-width="0.9" fill="none"/>
<path d="M426.70 491.00L429.20 493.50L426.70 496.00L424.20 493.50Z" fill="#2a8a80"/>
<path d="M446.40 492.18V497.46M444.90 492.18H447.90M444.90 497.46H447.90" stroke="#2a8a80" stroke-width="0.9" fill="none"/>
<path d="M446.40 492.32L448.90 494.82L446.40 497.32L443.90 494.82Z" fill="#2a8a80"/>
<path d="M466.10 479.86V487.78M464.60 479.86H467.60M464.60 487.78H467.60" stroke="#2a8a80" stroke-width="0.9" fill="none"/>
<path d="M466.10 481.32L468.60 483.82L466.10 486.32L463.60 483.82Z" fill="#2a8a80"/>
<path d="M485.80 481.84V485.80M484.30 481.84H487.30M484.30 485.80H487.30" stroke="#2a8a80" stroke-width="0.9" fill="none"/>
<path d="M485.80 481.32L488.30 483.82L485.80 486.32L483.30 483.82Z" fill="#2a8a80"/>
<path d="M505.50 475.68V482.28M504.00 475.68H507.00M504.00 482.28H507.00" stroke="#2a8a80" stroke-width="0.9" fill="none"/>
<path d="M505.50 476.48L508.00 478.98L505.50 481.48L503.00 478.98Z" fill="#2a8a80"/>
<path d="M407.00 486.46V496.14M405.50 486.46H408.50M405.50 496.14H408.50" stroke="#3a4a96" stroke-width="0.9" fill="none"/>
<rect x="404.90" y="489.20" width="4.2" height="4.2" fill="#3a4a96"/>
<path d="M426.70 496.80V500.76M425.20 496.80H428.20M425.20 500.76H428.20" stroke="#3a4a96" stroke-width="0.9" fill="none"/>
<rect x="424.60" y="496.68" width="4.2" height="4.2" fill="#3a4a96"/>
<path d="M446.40 492.40V499.00M444.90 492.40H447.90M444.90 499.00H447.90" stroke="#3a4a96" stroke-width="0.9" fill="none"/>
<rect x="444.30" y="493.60" width="4.2" height="4.2" fill="#3a4a96"/>
<path d="M466.10 479.20V488.44M464.60 479.20H467.60M464.60 488.44H467.60" stroke="#3a4a96" stroke-width="0.9" fill="none"/>
<rect x="464.00" y="481.72" width="4.2" height="4.2" fill="#3a4a96"/>
<path d="M485.80 477.66V482.94M484.30 477.66H487.30M484.30 482.94H487.30" stroke="#3a4a96" stroke-width="0.9" fill="none"/>
<rect x="483.70" y="478.20" width="4.2" height="4.2" fill="#3a4a96"/>
<path d="M505.50 474.14V482.06M504.00 474.14H507.00M504.00 482.06H507.00" stroke="#3a4a96" stroke-width="0.9" fill="none"/>
<rect x="503.40" y="476.00" width="4.2" height="4.2" fill="#3a4a96"/>
<path d="M407.00 486.46V496.14M405.50 486.46H408.50M405.50 496.14H408.50" stroke="#6a2c8c" stroke-width="0.9" fill="none"/>
<circle cx="407.00" cy="491.30" r="2.1" fill="#6a2c8c"/>
<path d="M426.70 484.48V493.72M425.20 484.48H428.20M425.20 493.72H428.20" stroke="#6a2c8c" stroke-width="0.9" fill="none"/>
<circle cx="426.70" cy="489.10" r="2.1" fill="#6a2c8c"/>
<path d="M446.40 488.66V493.94M444.90 488.66H447.90M444.90 493.94H447.90" stroke="#6a2c8c" stroke-width="0.9" fill="none"/>
<circle cx="446.40" cy="491.30" r="2.1" fill="#6a2c8c"/>
<path d="M466.10 490.86V498.78M464.60 490.86H467.60M464.60 498.78H467.60" stroke="#6a2c8c" stroke-width="0.9" fill="none"/>
<circle cx="466.10" cy="494.82" r="2.1" fill="#6a2c8c"/>
<path d="M485.80 495.92V499.88M484.30 495.92H487.30M484.30 499.88H487.30" stroke="#6a2c8c" stroke-width="0.9" fill="none"/>
<circle cx="485.80" cy="497.90" r="2.1" fill="#6a2c8c"/>
<path d="M505.50 496.80V503.40M504.00 496.80H507.00M504.00 503.40H507.00" stroke="#6a2c8c" stroke-width="0.9" fill="none"/>
<circle cx="505.50" cy="500.10" r="2.1" fill="#6a2c8c"/>
<path d="M407.00 486.46V496.14M405.50 486.46H408.50M405.50 496.14H408.50" stroke="#e22a7c" stroke-width="0.9" fill="none"/>
<circle cx="407.00" cy="491.30" r="2.1" fill="#e22a7c"/>
<path d="M426.70 486.46V494.38M425.20 486.46H428.20M425.20 494.38H428.20" stroke="#e22a7c" stroke-width="0.9" fill="none"/>
<circle cx="426.70" cy="490.42" r="2.1" fill="#e22a7c"/>
<path d="M446.40 488.44V492.40M444.90 488.44H447.90M444.90 492.40H447.90" stroke="#e22a7c" stroke-width="0.9" fill="none"/>
<circle cx="446.40" cy="490.42" r="2.1" fill="#e22a7c"/>
<path d="M466.10 492.40V499.00M464.60 492.40H467.60M464.60 499.00H467.60" stroke="#e22a7c" stroke-width="0.9" fill="none"/>
<circle cx="466.10" cy="495.70" r="2.1" fill="#e22a7c"/>
<path d="M485.80 494.16V503.40M484.30 494.16H487.30M484.30 503.40H487.30" stroke="#e22a7c" stroke-width="0.9" fill="none"/>
<circle cx="485.80" cy="498.78" r="2.1" fill="#e22a7c"/>
<path d="M505.50 498.34V503.62M504.00 498.34H507.00M504.00 503.62H507.00" stroke="#e22a7c" stroke-width="0.9" fill="none"/>
<circle cx="505.50" cy="500.98" r="2.1" fill="#e22a7c"/>
<path d="M407.00 486.46V496.14M405.50 486.46H408.50M405.50 496.14H408.50" stroke="#f08a2c" stroke-width="0.9" fill="none"/>
<rect x="404.90" y="489.20" width="4.2" height="4.2" fill="#f08a2c"/>
<path d="M426.70 487.34V495.26M425.20 487.34H428.20M425.20 495.26H428.20" stroke="#f08a2c" stroke-width="0.9" fill="none"/>
<rect x="424.60" y="489.20" width="4.2" height="4.2" fill="#f08a2c"/>
<path d="M446.40 491.52V495.48M444.90 491.52H447.90M444.90 495.48H447.90" stroke="#f08a2c" stroke-width="0.9" fill="none"/>
<rect x="444.30" y="491.40" width="4.2" height="4.2" fill="#f08a2c"/>
<path d="M466.10 491.52V498.12M464.60 491.52H467.60M464.60 498.12H467.60" stroke="#f08a2c" stroke-width="0.9" fill="none"/>
<rect x="464.00" y="492.72" width="4.2" height="4.2" fill="#f08a2c"/>
<path d="M485.80 491.08V500.32M484.30 491.08H487.30M484.30 500.32H487.30" stroke="#f08a2c" stroke-width="0.9" fill="none"/>
<rect x="483.70" y="493.60" width="4.2" height="4.2" fill="#f08a2c"/>
<path d="M505.50 493.06V498.34M504.00 493.06H507.00M504.00 498.34H507.00" stroke="#f08a2c" stroke-width="0.9" fill="none"/>
<rect x="503.40" y="493.60" width="4.2" height="4.2" fill="#f08a2c"/>
<path d="M407.00 486.46V496.14M405.50 486.46H408.50M405.50 496.14H408.50" stroke="#7a8a3a" stroke-width="0.9" fill="none"/>
<path d="M404.60 493.10L407.00 488.90L409.40 493.10Z" fill="#7a8a3a"/>
<path d="M426.70 489.54V494.82M425.20 489.54H428.20M425.20 494.82H428.20" stroke="#7a8a3a" stroke-width="0.9" fill="none"/>
<path d="M424.30 493.98L426.70 489.78L429.10 493.98Z" fill="#7a8a3a"/>
<path d="M446.40 491.74V499.66M444.90 491.74H447.90M444.90 499.66H447.90" stroke="#7a8a3a" stroke-width="0.9" fill="none"/>
<path d="M444.00 497.50L446.40 493.30L448.80 497.50Z" fill="#7a8a3a"/>
<path d="M466.10 491.52V495.48M464.60 491.52H467.60M464.60 495.48H467.60" stroke="#7a8a3a" stroke-width="0.9" fill="none"/>
<path d="M463.70 495.30L466.10 491.10L468.50 495.30Z" fill="#7a8a3a"/>
<path d="M485.80 489.32V495.92M484.30 489.32H487.30M484.30 495.92H487.30" stroke="#7a8a3a" stroke-width="0.9" fill="none"/>
<path d="M483.40 494.42L485.80 490.22L488.20 494.42Z" fill="#7a8a3a"/>
<path d="M505.50 491.08V500.32M504.00 491.08H507.00M504.00 500.32H507.00" stroke="#7a8a3a" stroke-width="0.9" fill="none"/>
<path d="M503.10 497.50L505.50 493.30L507.90 497.50Z" fill="#7a8a3a"/>
<path d="M407.00 486.46V496.14M405.50 486.46H408.50M405.50 496.14H408.50" stroke="#e0307c" stroke-width="0.9" fill="none"/>
<path d="M407.00 488.80L409.50 491.30L407.00 493.80L404.50 491.30Z" fill="#e0307c"/>
<path d="M426.70 486.68V493.28M425.20 486.68H428.20M425.20 493.28H428.20" stroke="#e0307c" stroke-width="0.9" fill="none"/>
<path d="M426.70 487.48L429.20 489.98L426.70 492.48L424.20 489.98Z" fill="#e0307c"/>
<path d="M446.40 487.56V496.80M444.90 487.56H447.90M444.90 496.80H447.90" stroke="#e0307c" stroke-width="0.9" fill="none"/>
<path d="M446.40 489.68L448.90 492.18L446.40 494.68L443.90 492.18Z" fill="#e0307c"/>
<path d="M466.10 492.18V497.46M464.60 492.18H467.60M464.60 497.46H467.60" stroke="#e0307c" stroke-width="0.9" fill="none"/>
<path d="M466.10 492.32L468.60 494.82L466.10 497.32L463.60 494.82Z" fill="#e0307c"/>
<path d="M485.80 493.94V501.86M484.30 493.94H487.30M484.30 501.86H487.30" stroke="#e0307c" stroke-width="0.9" fill="none"/>
<path d="M485.80 495.40L488.30 497.90L485.80 500.40L483.30 497.90Z" fill="#e0307c"/>
<path d="M505.50 499.00V502.96M504.00 499.00H507.00M504.00 502.96H507.00" stroke="#e0307c" stroke-width="0.9" fill="none"/>
<path d="M505.50 498.48L508.00 500.98L505.50 503.48L503.00 500.98Z" fill="#e0307c"/>
<g stroke="#111" stroke-width="1.3" fill="none">
<path d="M259.50 540.00V611.25H375.00"/>
<path d="M256.90 611.25H259.50"/>
<path d="M256.90 581.62H259.50"/>
<path d="M256.90 552.00H259.50"/>
<path d="M269.50 611.25V613.85"/>
<path d="M289.50 611.25V613.85"/>
<path d="M309.50 611.25V613.85"/>
<path d="M329.50 611.25V613.85"/>
<path d="M349.50 611.25V613.85"/>
<path d="M369.50 611.25V613.85"/>
</g>
<text x="256.10" y="613.95" font-size="7.9" font-weight="bold" fill="#222" stroke="#222" stroke-width="0.08" text-anchor="end">0.0</text>
<text x="256.10" y="584.33" font-size="7.9" font-weight="bold" fill="#222" stroke="#222" stroke-width="0.08" text-anchor="end">0.5</text>
<text x="256.10" y="554.70" font-size="7.9" font-weight="bold" fill="#222" stroke="#222" stroke-width="0.08" text-anchor="end">1.0</text>
<text x="269.50" y="621.50" font-size="7.2" fill="#333" text-anchor="middle">10<tspan font-size="4.46" dy="-3">-4</tspan></text>
<text x="289.50" y="621.50" font-size="7.2" fill="#333" text-anchor="middle">10<tspan font-size="4.46" dy="-3">-3</tspan></text>
<text x="309.50" y="621.50" font-size="7.2" fill="#333" text-anchor="middle">10<tspan font-size="4.46" dy="-3">-2</tspan></text>
<text x="329.50" y="621.50" font-size="7.2" fill="#333" text-anchor="middle">10<tspan font-size="4.46" dy="-3">-1</tspan></text>
<text x="349.50" y="621.50" font-size="7.4" fill="#333" stroke="#333" stroke-width="0.18" text-anchor="middle">1.0</text>
<text x="369.50" y="621.50" font-size="7.4" fill="#333" stroke="#333" stroke-width="0.18" text-anchor="middle">10</text>
<text x="319.50" y="630.80" font-size="7.4" font-weight="bold" fill="#222" stroke="#222" stroke-width="0.08" text-anchor="middle">(&#181;mol/L)</text>
<text x="240.60" y="580.80" font-size="8.6" fill="#3a3a3a" stroke="#3a3a3a" stroke-width="0.18" text-anchor="middle" transform="rotate(-90 240.6 580.8)" textLength="27.8" lengthAdjust="spacingAndGlyphs">Survival</text>
<text x="261.50" y="607.80" font-size="8.9" fill="#333" stroke="#333" stroke-width="0.18" text-anchor="start">JNK-IN-8 (JNK inh)</text>
<path d="M269.50 552.00L289.50 550.82L309.50 547.85L329.50 547.26L349.50 573.33L369.50 611.25" stroke="#f2b872" stroke-width="1.35" fill="none"/>
<path d="M269.50 552.00L289.50 552.00L309.50 550.82L329.50 554.96L349.50 577.48L369.50 611.25" stroke="#2a8a56" stroke-width="1.35" fill="none"/>
<path d="M269.50 552.00L289.50 554.96L309.50 552.00L329.50 556.15L349.50 578.66L369.50 611.25" stroke="#3a58a6" stroke-width="1.35" fill="none"/>
<path d="M269.50 552.00L289.50 549.04L309.50 550.82L329.50 553.18L349.50 575.70L369.50 611.25" stroke="#8a8a38" stroke-width="1.35" fill="none"/>
<path d="M269.50 552.00L289.50 550.22L309.50 545.48L329.50 554.96L349.50 578.66L369.50 611.25" stroke="#6a2c8c" stroke-width="1.35" fill="none"/>
<path d="M269.50 552.00L289.50 547.26L309.50 552.00L329.50 552.00L349.50 576.88L369.50 611.25" stroke="#74903c" stroke-width="1.35" fill="none"/>
<path d="M269.50 552.00L289.50 552.00L309.50 549.04L329.50 547.26L349.50 575.70L369.50 611.25" stroke="#f08a2c" stroke-width="1.35" fill="none"/>
<path d="M269.50 552.00L289.50 554.96L309.50 553.78L329.50 559.11L349.50 581.62L369.50 611.25" stroke="#d24496" stroke-width="1.35" fill="none"/>
<path d="M269.50 552.00L289.50 550.82L309.50 549.04L329.50 549.04L349.50 574.51L369.50 611.25" stroke="#e23434" stroke-width="1.35" fill="none"/>
<path d="M269.50 552.00L289.50 556.15L309.50 554.96L329.50 560.89L349.50 581.62L369.50 611.25" stroke="#e22a7c" stroke-width="1.35" fill="none"/>
<path d="M269.50 545.48V558.52M268.00 545.48H271.00M268.00 558.52H271.00" stroke="#f2b872" stroke-width="0.9" fill="none"/>
<path d="M267.40 549.90L271.60 554.10M271.60 549.90L267.40 554.10" stroke="#f2b872" stroke-width="1.2"/>
<path d="M289.50 544.59V557.04M288.00 544.59H291.00M288.00 557.04H291.00" stroke="#f2b872" stroke-width="0.9" fill="none"/>
<path d="M287.40 548.72L291.60 552.92M291.60 548.72L287.40 552.92" stroke="#f2b872" stroke-width="1.2"/>
<path d="M309.50 544.30V551.41M308.00 544.30H311.00M308.00 551.41H311.00" stroke="#f2b872" stroke-width="0.9" fill="none"/>
<path d="M307.40 545.75L311.60 549.95M311.60 545.75L307.40 549.95" stroke="#f2b872" stroke-width="1.2"/>
<path d="M329.50 541.93V552.59M328.00 541.93H331.00M328.00 552.59H331.00" stroke="#f2b872" stroke-width="0.9" fill="none"/>
<path d="M327.40 545.16L331.60 549.36M331.60 545.16L327.40 549.36" stroke="#f2b872" stroke-width="1.2"/>
<path d="M349.50 570.66V576.00M348.00 570.66H351.00M348.00 576.00H351.00" stroke="#f2b872" stroke-width="0.9" fill="none"/>
<path d="M347.40 571.23L351.60 575.43M351.60 571.23L347.40 575.43" stroke="#f2b872" stroke-width="1.2"/>
<path d="M367.40 609.15L371.60 613.35M371.60 609.15L367.40 613.35" stroke="#f2b872" stroke-width="1.2"/>
<path d="M269.50 545.48V558.52M268.00 545.48H271.00M268.00 558.52H271.00" stroke="#2a8a56" stroke-width="0.9" fill="none"/>
<path d="M267.10 553.80L269.50 549.60L271.90 553.80Z" fill="#2a8a56"/>
<path d="M289.50 545.78V558.22M288.00 545.78H291.00M288.00 558.22H291.00" stroke="#2a8a56" stroke-width="0.9" fill="none"/>
<path d="M287.10 553.80L289.50 549.60L291.90 553.80Z" fill="#2a8a56"/>
<path d="M309.50 547.26V554.37M308.00 547.26H311.00M308.00 554.37H311.00" stroke="#2a8a56" stroke-width="0.9" fill="none"/>
<path d="M307.10 552.62L309.50 548.42L311.90 552.62Z" fill="#2a8a56"/>
<path d="M329.50 549.63V560.29M328.00 549.63H331.00M328.00 560.29H331.00" stroke="#2a8a56" stroke-width="0.9" fill="none"/>
<path d="M327.10 556.76L329.50 552.56L331.90 556.76Z" fill="#2a8a56"/>
<path d="M349.50 574.81V580.14M348.00 574.81H351.00M348.00 580.14H351.00" stroke="#2a8a56" stroke-width="0.9" fill="none"/>
<path d="M347.10 579.28L349.50 575.08L351.90 579.28Z" fill="#2a8a56"/>
<path d="M367.10 613.05L369.50 608.85L371.90 613.05Z" fill="#2a8a56"/>
<path d="M269.50 545.48V558.52M268.00 545.48H271.00M268.00 558.52H271.00" stroke="#3a58a6" stroke-width="0.9" fill="none"/>
<rect x="267.40" y="549.90" width="4.2" height="4.2" fill="#3a58a6"/>
<path d="M289.50 551.41V558.52M288.00 551.41H291.00M288.00 558.52H291.00" stroke="#3a58a6" stroke-width="0.9" fill="none"/>
<rect x="287.40" y="552.86" width="4.2" height="4.2" fill="#3a58a6"/>
<path d="M309.50 546.67V557.33M308.00 546.67H311.00M308.00 557.33H311.00" stroke="#3a58a6" stroke-width="0.9" fill="none"/>
<rect x="307.40" y="549.90" width="4.2" height="4.2" fill="#3a58a6"/>
<path d="M329.50 553.48V558.81M328.00 553.48H331.00M328.00 558.81H331.00" stroke="#3a58a6" stroke-width="0.9" fill="none"/>
<rect x="327.40" y="554.05" width="4.2" height="4.2" fill="#3a58a6"/>
<path d="M349.50 574.22V583.11M348.00 574.22H351.00M348.00 583.11H351.00" stroke="#3a58a6" stroke-width="0.9" fill="none"/>
<rect x="347.40" y="576.56" width="4.2" height="4.2" fill="#3a58a6"/>
<rect x="367.40" y="609.15" width="4.2" height="4.2" fill="#3a58a6"/>
<path d="M269.50 545.48V558.52M268.00 545.48H271.00M268.00 558.52H271.00" stroke="#8a8a38" stroke-width="0.9" fill="none"/>
<path d="M269.50 549.50L272.00 552.00L269.50 554.50L267.00 552.00Z" fill="#8a8a38"/>
<path d="M289.50 545.48V552.59M288.00 545.48H291.00M288.00 552.59H291.00" stroke="#8a8a38" stroke-width="0.9" fill="none"/>
<path d="M289.50 546.54L292.00 549.04L289.50 551.54L287.00 549.04Z" fill="#8a8a38"/>
<path d="M309.50 545.48V556.15M308.00 545.48H311.00M308.00 556.15H311.00" stroke="#8a8a38" stroke-width="0.9" fill="none"/>
<path d="M309.50 548.32L312.00 550.82L309.50 553.32L307.00 550.82Z" fill="#8a8a38"/>
<path d="M329.50 550.52V555.85M328.00 550.52H331.00M328.00 555.85H331.00" stroke="#8a8a38" stroke-width="0.9" fill="none"/>
<path d="M329.50 550.68L332.00 553.18L329.50 555.68L327.00 553.18Z" fill="#8a8a38"/>
<path d="M349.50 571.26V580.14M348.00 571.26H351.00M348.00 580.14H351.00" stroke="#8a8a38" stroke-width="0.9" fill="none"/>
<path d="M349.50 573.20L352.00 575.70L349.50 578.20L347.00 575.70Z" fill="#8a8a38"/>
<path d="M369.50 608.75L372.00 611.25L369.50 613.75L367.00 611.25Z" fill="#8a8a38"/>
<path d="M269.50 545.48V558.52M268.00 545.48H271.00M268.00 558.52H271.00" stroke="#6a2c8c" stroke-width="0.9" fill="none"/>
<circle cx="269.50" cy="552.00" r="2.1" fill="#6a2c8c"/>
<path d="M289.50 546.67V553.78M288.00 546.67H291.00M288.00 553.78H291.00" stroke="#6a2c8c" stroke-width="0.9" fill="none"/>
<circle cx="289.50" cy="550.22" r="2.1" fill="#6a2c8c"/>
<path d="M309.50 540.15V550.81M308.00 540.15H311.00M308.00 550.81H311.00" stroke="#6a2c8c" stroke-width="0.9" fill="none"/>
<circle cx="309.50" cy="545.48" r="2.1" fill="#6a2c8c"/>
<path d="M329.50 552.30V557.63M328.00 552.30H331.00M328.00 557.63H331.00" stroke="#6a2c8c" stroke-width="0.9" fill="none"/>
<circle cx="329.50" cy="554.96" r="2.1" fill="#6a2c8c"/>
<path d="M349.50 574.22V583.11M348.00 574.22H351.00M348.00 583.11H351.00" stroke="#6a2c8c" stroke-width="0.9" fill="none"/>
<circle cx="349.50" cy="578.66" r="2.1" fill="#6a2c8c"/>
<circle cx="369.50" cy="611.25" r="2.1" fill="#6a2c8c"/>
<path d="M269.50 545.48V558.52M268.00 545.48H271.00M268.00 558.52H271.00" stroke="#74903c" stroke-width="0.9" fill="none"/>
<circle cx="269.50" cy="552.00" r="2.1" fill="#74903c"/>
<path d="M289.50 544.59V549.93M288.00 544.59H291.00M288.00 549.93H291.00" stroke="#74903c" stroke-width="0.9" fill="none"/>
<circle cx="289.50" cy="547.26" r="2.1" fill="#74903c"/>
<path d="M309.50 547.56V556.44M308.00 547.56H311.00M308.00 556.44H311.00" stroke="#74903c" stroke-width="0.9" fill="none"/>
<circle cx="309.50" cy="552.00" r="2.1" fill="#74903c"/>
<path d="M329.50 545.78V558.22M328.00 545.78H331.00M328.00 558.22H331.00" stroke="#74903c" stroke-width="0.9" fill="none"/>
<circle cx="329.50" cy="552.00" r="2.1" fill="#74903c"/>
<path d="M349.50 573.33V580.44M348.00 573.33H351.00M348.00 580.44H351.00" stroke="#74903c" stroke-width="0.9" fill="none"/>
<circle cx="349.50" cy="576.88" r="2.1" fill="#74903c"/>
<circle cx="369.50" cy="611.25" r="2.1" fill="#74903c"/>
<path d="M269.50 545.48V558.52M268.00 545.48H271.00M268.00 558.52H271.00" stroke="#f08a2c" stroke-width="0.9" fill="none"/>
<rect x="267.40" y="549.90" width="4.2" height="4.2" fill="#f08a2c"/>
<path d="M289.50 546.67V557.33M288.00 546.67H291.00M288.00 557.33H291.00" stroke="#f08a2c" stroke-width="0.9" fill="none"/>
<rect x="287.40" y="549.90" width="4.2" height="4.2" fill="#f08a2c"/>
<path d="M309.50 546.37V551.70M308.00 546.37H311.00M308.00 551.70H311.00" stroke="#f08a2c" stroke-width="0.9" fill="none"/>
<rect x="307.40" y="546.94" width="4.2" height="4.2" fill="#f08a2c"/>
<path d="M329.50 542.82V551.70M328.00 542.82H331.00M328.00 551.70H331.00" stroke="#f08a2c" stroke-width="0.9" fill="none"/>
<rect x="327.40" y="545.16" width="4.2" height="4.2" fill="#f08a2c"/>
<path d="M349.50 569.48V581.92M348.00 569.48H351.00M348.00 581.92H351.00" stroke="#f08a2c" stroke-width="0.9" fill="none"/>
<rect x="347.40" y="573.60" width="4.2" height="4.2" fill="#f08a2c"/>
<rect x="367.40" y="609.15" width="4.2" height="4.2" fill="#f08a2c"/>
<path d="M269.50 545.48V558.52M268.00 545.48H271.00M268.00 558.52H271.00" stroke="#d24496" stroke-width="0.9" fill="none"/>
<path d="M269.50 549.50L272.00 552.00L269.50 554.50L267.00 552.00Z" fill="#d24496"/>
<path d="M289.50 550.52V559.41M288.00 550.52H291.00M288.00 559.41H291.00" stroke="#d24496" stroke-width="0.9" fill="none"/>
<path d="M289.50 552.46L292.00 554.96L289.50 557.46L287.00 554.96Z" fill="#d24496"/>
<path d="M309.50 547.56V560.00M308.00 547.56H311.00M308.00 560.00H311.00" stroke="#d24496" stroke-width="0.9" fill="none"/>
<path d="M309.50 551.28L312.00 553.78L309.50 556.28L307.00 553.78Z" fill="#d24496"/>
<path d="M329.50 555.56V562.66M328.00 555.56H331.00M328.00 562.66H331.00" stroke="#d24496" stroke-width="0.9" fill="none"/>
<path d="M329.50 556.61L332.00 559.11L329.50 561.61L327.00 559.11Z" fill="#d24496"/>
<path d="M349.50 576.29V586.96M348.00 576.29H351.00M348.00 586.96H351.00" stroke="#d24496" stroke-width="0.9" fill="none"/>
<path d="M349.50 579.12L352.00 581.62L349.50 584.12L347.00 581.62Z" fill="#d24496"/>
<path d="M369.50 608.75L372.00 611.25L369.50 613.75L367.00 611.25Z" fill="#d24496"/>
<path d="M269.50 545.48V558.52M268.00 545.48H271.00M268.00 558.52H271.00" stroke="#e23434" stroke-width="0.9" fill="none"/>
<path d="M267.10 553.80L269.50 549.60L271.90 553.80Z" fill="#e23434"/>
<path d="M289.50 548.15V553.48M288.00 548.15H291.00M288.00 553.48H291.00" stroke="#e23434" stroke-width="0.9" fill="none"/>
<path d="M287.10 552.62L289.50 548.42L291.90 552.62Z" fill="#e23434"/>
<path d="M309.50 544.59V553.48M308.00 544.59H311.00M308.00 553.48H311.00" stroke="#e23434" stroke-width="0.9" fill="none"/>
<path d="M307.10 550.84L309.50 546.64L311.90 550.84Z" fill="#e23434"/>
<path d="M329.50 542.82V555.26M328.00 542.82H331.00M328.00 555.26H331.00" stroke="#e23434" stroke-width="0.9" fill="none"/>
<path d="M327.10 550.84L329.50 546.64L331.90 550.84Z" fill="#e23434"/>
<path d="M349.50 570.96V578.07M348.00 570.96H351.00M348.00 578.07H351.00" stroke="#e23434" stroke-width="0.9" fill="none"/>
<path d="M347.10 576.32L349.50 572.12L351.90 576.32Z" fill="#e23434"/>
<path d="M367.10 613.05L369.50 608.85L371.90 613.05Z" fill="#e23434"/>
<path d="M269.50 545.48V558.52M268.00 545.48H271.00M268.00 558.52H271.00" stroke="#e22a7c" stroke-width="0.9" fill="none"/>
<circle cx="269.50" cy="552.00" r="2.1" fill="#e22a7c"/>
<path d="M289.50 553.48V558.81M288.00 553.48H291.00M288.00 558.81H291.00" stroke="#e22a7c" stroke-width="0.9" fill="none"/>
<circle cx="289.50" cy="556.15" r="2.1" fill="#e22a7c"/>
<path d="M309.50 550.52V559.41M308.00 550.52H311.00M308.00 559.41H311.00" stroke="#e22a7c" stroke-width="0.9" fill="none"/>
<circle cx="309.50" cy="554.96" r="2.1" fill="#e22a7c"/>
<path d="M329.50 554.67V567.11M328.00 554.67H331.00M328.00 567.11H331.00" stroke="#e22a7c" stroke-width="0.9" fill="none"/>
<circle cx="329.50" cy="560.89" r="2.1" fill="#e22a7c"/>
<path d="M349.50 578.07V585.18M348.00 578.07H351.00M348.00 585.18H351.00" stroke="#e22a7c" stroke-width="0.9" fill="none"/>
<circle cx="349.50" cy="581.62" r="2.1" fill="#e22a7c"/>
<circle cx="369.50" cy="611.25" r="2.1" fill="#e22a7c"/>
<g stroke="#111" stroke-width="1.3" fill="none">
<path d="M397.00 540.00V611.50H516.00"/>
<path d="M394.40 611.50H397.00"/>
<path d="M394.40 589.88H397.00"/>
<path d="M394.40 568.25H397.00"/>
<path d="M394.40 546.62H397.00"/>
<path d="M406.25 611.50V614.10"/>
<path d="M426.15 611.50V614.10"/>
<path d="M446.05 611.50V614.10"/>
<path d="M465.95 611.50V614.10"/>
<path d="M485.85 611.50V614.10"/>
<path d="M505.75 611.50V614.10"/>
</g>
<text x="393.60" y="614.20" font-size="7.9" font-weight="bold" fill="#222" stroke="#222" stroke-width="0.08" text-anchor="end">0.0</text>
<text x="393.60" y="592.58" font-size="7.9" font-weight="bold" fill="#222" stroke="#222" stroke-width="0.08" text-anchor="end">0.5</text>
<text x="393.60" y="570.95" font-size="7.9" font-weight="bold" fill="#222" stroke="#222" stroke-width="0.08" text-anchor="end">1.0</text>
<text x="393.60" y="549.33" font-size="7.9" font-weight="bold" fill="#222" stroke="#222" stroke-width="0.08" text-anchor="end">1.5</text>
<text x="406.25" y="621.50" font-size="7.2" fill="#333" text-anchor="middle">10<tspan font-size="4.46" dy="-3">-4</tspan></text>
<text x="426.15" y="621.50" font-size="7.2" fill="#333" text-anchor="middle">10<tspan font-size="4.46" dy="-3">-3</tspan></text>
<text x="446.05" y="621.50" font-size="7.2" fill="#333" text-anchor="middle">10<tspan font-size="4.46" dy="-3">-2</tspan></text>
<text x="465.95" y="621.50" font-size="7.2" fill="#333" text-anchor="middle">10<tspan font-size="4.46" dy="-3">-1</tspan></text>
<text x="485.85" y="621.50" font-size="7.4" fill="#333" stroke="#333" stroke-width="0.18" text-anchor="middle">1.0</text>
<text x="505.75" y="621.50" font-size="7.4" fill="#333" stroke="#333" stroke-width="0.18" text-anchor="middle">10</text>
<text x="456.00" y="630.80" font-size="7.4" font-weight="bold" fill="#222" stroke="#222" stroke-width="0.08" text-anchor="middle">(&#181;mol/L)</text>
<text x="399.50" y="607.80" font-size="8.9" fill="#333" stroke="#333" stroke-width="0.18" text-anchor="start">JNK-IN-8 (JNK inh)</text>
<path d="M406.25 568.25L426.15 569.55L446.05 569.55L465.95 571.71L485.85 573.44L505.75 611.50" stroke="#d24496" stroke-width="1.35" fill="none"/>
<path d="M406.25 568.25L426.15 567.38L446.05 566.09L465.95 565.22L485.85 566.09L505.75 611.50" stroke="#f08a2c" stroke-width="1.35" fill="none"/>
<path d="M406.25 568.25L426.15 568.25L446.05 567.38L465.95 564.79L485.85 565.22L505.75 611.50" stroke="#8a8a38" stroke-width="1.35" fill="none"/>
<path d="M406.25 568.25L426.15 568.25L446.05 568.25L465.95 570.41L485.85 572.58L505.75 611.50" stroke="#2a8a80" stroke-width="1.35" fill="none"/>
<path d="M406.25 568.25L426.15 562.63L446.05 568.25L465.95 573.44L485.85 574.74L505.75 611.50" stroke="#3a4a96" stroke-width="1.35" fill="none"/>
<path d="M406.25 568.25L426.15 569.12L446.05 569.55L465.95 571.71L485.85 573.44L505.75 611.50" stroke="#6a2c8c" stroke-width="1.35" fill="none"/>
<path d="M406.25 568.25L426.15 570.41L446.05 570.41L465.95 571.28L485.85 572.58L505.75 611.50" stroke="#e22a7c" stroke-width="1.35" fill="none"/>
<path d="M406.25 568.25L426.15 567.38L446.05 566.09L465.95 566.09L485.85 566.95L505.75 611.50" stroke="#f08a2c" stroke-width="1.35" fill="none"/>
<path d="M406.25 568.25L426.15 568.25L446.05 567.38L465.95 566.09L485.85 566.09L505.75 611.50" stroke="#7a8a3a" stroke-width="1.35" fill="none"/>
<path d="M406.25 568.25L426.15 569.55L446.05 570.41L465.95 572.58L485.85 574.74L505.75 611.50" stroke="#e0307c" stroke-width="1.35" fill="none"/>
<path d="M406.25 563.49V573.01M404.75 563.49H407.75M404.75 573.01H407.75" stroke="#d24496" stroke-width="0.9" fill="none"/>
<path d="M406.25 565.75L408.75 568.25L406.25 570.75L403.75 568.25Z" fill="#d24496"/>
<path d="M426.15 566.30V572.79M424.65 566.30H427.65M424.65 572.79H427.65" stroke="#d24496" stroke-width="0.9" fill="none"/>
<path d="M426.15 567.05L428.65 569.55L426.15 572.05L423.65 569.55Z" fill="#d24496"/>
<path d="M446.05 565.01V574.09M444.55 565.01H447.55M444.55 574.09H447.55" stroke="#d24496" stroke-width="0.9" fill="none"/>
<path d="M446.05 567.05L448.55 569.55L446.05 572.05L443.55 569.55Z" fill="#d24496"/>
<path d="M465.95 569.12V574.31M464.45 569.12H467.45M464.45 574.31H467.45" stroke="#d24496" stroke-width="0.9" fill="none"/>
<path d="M465.95 569.21L468.45 571.71L465.95 574.21L463.45 571.71Z" fill="#d24496"/>
<path d="M485.85 569.55V577.33M484.35 569.55H487.35M484.35 577.33H487.35" stroke="#d24496" stroke-width="0.9" fill="none"/>
<path d="M485.85 570.94L488.35 573.44L485.85 575.94L483.35 573.44Z" fill="#d24496"/>
<path d="M505.75 609.00L508.25 611.50L505.75 614.00L503.25 611.50Z" fill="#d24496"/>
<path d="M406.25 563.49V573.01M404.75 563.49H407.75M404.75 573.01H407.75" stroke="#f08a2c" stroke-width="0.9" fill="none"/>
<rect x="404.15" y="566.15" width="4.2" height="4.2" fill="#f08a2c"/>
<path d="M426.15 564.79V569.98M424.65 564.79H427.65M424.65 569.98H427.65" stroke="#f08a2c" stroke-width="0.9" fill="none"/>
<rect x="424.05" y="565.28" width="4.2" height="4.2" fill="#f08a2c"/>
<path d="M446.05 562.19V569.98M444.55 562.19H447.55M444.55 569.98H447.55" stroke="#f08a2c" stroke-width="0.9" fill="none"/>
<rect x="443.95" y="563.99" width="4.2" height="4.2" fill="#f08a2c"/>
<path d="M465.95 563.28V567.17M464.45 563.28H467.45M464.45 567.17H467.45" stroke="#f08a2c" stroke-width="0.9" fill="none"/>
<rect x="463.85" y="563.12" width="4.2" height="4.2" fill="#f08a2c"/>
<path d="M485.85 562.84V569.33M484.35 562.84H487.35M484.35 569.33H487.35" stroke="#f08a2c" stroke-width="0.9" fill="none"/>
<rect x="483.75" y="563.99" width="4.2" height="4.2" fill="#f08a2c"/>
<rect x="503.65" y="609.40" width="4.2" height="4.2" fill="#f08a2c"/>
<path d="M406.25 563.49V573.01M404.75 563.49H407.75M404.75 573.01H407.75" stroke="#8a8a38" stroke-width="0.9" fill="none"/>
<path d="M403.85 570.05L406.25 565.85L408.65 570.05Z" fill="#8a8a38"/>
<path d="M426.15 565.65V570.85M424.65 565.65H427.65M424.65 570.85H427.65" stroke="#8a8a38" stroke-width="0.9" fill="none"/>
<path d="M423.75 570.05L426.15 565.85L428.55 570.05Z" fill="#8a8a38"/>
<path d="M446.05 563.49V571.28M444.55 563.49H447.55M444.55 571.28H447.55" stroke="#8a8a38" stroke-width="0.9" fill="none"/>
<path d="M443.65 569.19L446.05 564.99L448.45 569.19Z" fill="#8a8a38"/>
<path d="M465.95 562.84V566.74M464.45 562.84H467.45M464.45 566.74H467.45" stroke="#8a8a38" stroke-width="0.9" fill="none"/>
<path d="M463.55 566.59L465.95 562.39L468.35 566.59Z" fill="#8a8a38"/>
<path d="M485.85 561.98V568.47M484.35 561.98H487.35M484.35 568.47H487.35" stroke="#8a8a38" stroke-width="0.9" fill="none"/>
<path d="M483.45 567.02L485.85 562.82L488.25 567.02Z" fill="#8a8a38"/>
<path d="M503.35 613.30L505.75 609.10L508.15 613.30Z" fill="#8a8a38"/>
<path d="M406.25 563.49V573.01M404.75 563.49H407.75M404.75 573.01H407.75" stroke="#2a8a80" stroke-width="0.9" fill="none"/>
<path d="M406.25 565.75L408.75 568.25L406.25 570.75L403.75 568.25Z" fill="#2a8a80"/>
<path d="M426.15 563.71V572.79M424.65 563.71H427.65M424.65 572.79H427.65" stroke="#2a8a80" stroke-width="0.9" fill="none"/>
<path d="M426.15 565.75L428.65 568.25L426.15 570.75L423.65 568.25Z" fill="#2a8a80"/>
<path d="M446.05 565.65V570.85M444.55 565.65H447.55M444.55 570.85H447.55" stroke="#2a8a80" stroke-width="0.9" fill="none"/>
<path d="M446.05 565.75L448.55 568.25L446.05 570.75L443.55 568.25Z" fill="#2a8a80"/>
<path d="M465.95 566.52V574.31M464.45 566.52H467.45M464.45 574.31H467.45" stroke="#2a8a80" stroke-width="0.9" fill="none"/>
<path d="M465.95 567.91L468.45 570.41L465.95 572.91L463.45 570.41Z" fill="#2a8a80"/>
<path d="M485.85 570.63V574.52M484.35 570.63H487.35M484.35 574.52H487.35" stroke="#2a8a80" stroke-width="0.9" fill="none"/>
<path d="M485.85 570.08L488.35 572.58L485.85 575.08L483.35 572.58Z" fill="#2a8a80"/>
<path d="M505.75 609.00L508.25 611.50L505.75 614.00L503.25 611.50Z" fill="#2a8a80"/>
<path d="M406.25 563.49V573.01M404.75 563.49H407.75M404.75 573.01H407.75" stroke="#3a4a96" stroke-width="0.9" fill="none"/>
<rect x="404.15" y="566.15" width="4.2" height="4.2" fill="#3a4a96"/>
<path d="M426.15 560.68V564.57M424.65 560.68H427.65M424.65 564.57H427.65" stroke="#3a4a96" stroke-width="0.9" fill="none"/>
<rect x="424.05" y="560.53" width="4.2" height="4.2" fill="#3a4a96"/>
<path d="M446.05 565.01V571.49M444.55 565.01H447.55M444.55 571.49H447.55" stroke="#3a4a96" stroke-width="0.9" fill="none"/>
<rect x="443.95" y="566.15" width="4.2" height="4.2" fill="#3a4a96"/>
<path d="M465.95 568.90V577.98M464.45 568.90H467.45M464.45 577.98H467.45" stroke="#3a4a96" stroke-width="0.9" fill="none"/>
<rect x="463.85" y="571.34" width="4.2" height="4.2" fill="#3a4a96"/>
<path d="M485.85 572.14V577.33M484.35 572.14H487.35M484.35 577.33H487.35" stroke="#3a4a96" stroke-width="0.9" fill="none"/>
<rect x="483.75" y="572.64" width="4.2" height="4.2" fill="#3a4a96"/>
<rect x="503.65" y="609.40" width="4.2" height="4.2" fill="#3a4a96"/>
<path d="M406.25 563.49V573.01M404.75 563.49H407.75M404.75 573.01H407.75" stroke="#6a2c8c" stroke-width="0.9" fill="none"/>
<circle cx="406.25" cy="568.25" r="2.1" fill="#6a2c8c"/>
<path d="M426.15 564.57V573.66M424.65 564.57H427.65M424.65 573.66H427.65" stroke="#6a2c8c" stroke-width="0.9" fill="none"/>
<circle cx="426.15" cy="569.12" r="2.1" fill="#6a2c8c"/>
<path d="M446.05 566.95V572.14M444.55 566.95H447.55M444.55 572.14H447.55" stroke="#6a2c8c" stroke-width="0.9" fill="none"/>
<circle cx="446.05" cy="569.55" r="2.1" fill="#6a2c8c"/>
<path d="M465.95 567.82V575.60M464.45 567.82H467.45M464.45 575.60H467.45" stroke="#6a2c8c" stroke-width="0.9" fill="none"/>
<circle cx="465.95" cy="571.71" r="2.1" fill="#6a2c8c"/>
<path d="M485.85 571.49V575.39M484.35 571.49H487.35M484.35 575.39H487.35" stroke="#6a2c8c" stroke-width="0.9" fill="none"/>
<circle cx="485.85" cy="573.44" r="2.1" fill="#6a2c8c"/>
<circle cx="505.75" cy="611.50" r="2.1" fill="#6a2c8c"/>
<path d="M406.25 563.49V573.01M404.75 563.49H407.75M404.75 573.01H407.75" stroke="#e22a7c" stroke-width="0.9" fill="none"/>
<circle cx="406.25" cy="568.25" r="2.1" fill="#e22a7c"/>
<path d="M426.15 566.52V574.31M424.65 566.52H427.65M424.65 574.31H427.65" stroke="#e22a7c" stroke-width="0.9" fill="none"/>
<circle cx="426.15" cy="570.41" r="2.1" fill="#e22a7c"/>
<path d="M446.05 568.47V572.36M444.55 568.47H447.55M444.55 572.36H447.55" stroke="#e22a7c" stroke-width="0.9" fill="none"/>
<circle cx="446.05" cy="570.41" r="2.1" fill="#e22a7c"/>
<path d="M465.95 568.03V574.52M464.45 568.03H467.45M464.45 574.52H467.45" stroke="#e22a7c" stroke-width="0.9" fill="none"/>
<circle cx="465.95" cy="571.28" r="2.1" fill="#e22a7c"/>
<path d="M485.85 568.03V577.12M484.35 568.03H487.35M484.35 577.12H487.35" stroke="#e22a7c" stroke-width="0.9" fill="none"/>
<circle cx="485.85" cy="572.58" r="2.1" fill="#e22a7c"/>
<circle cx="505.75" cy="611.50" r="2.1" fill="#e22a7c"/>
<path d="M406.25 563.49V573.01M404.75 563.49H407.75M404.75 573.01H407.75" stroke="#f08a2c" stroke-width="0.9" fill="none"/>
<rect x="404.15" y="566.15" width="4.2" height="4.2" fill="#f08a2c"/>
<path d="M426.15 563.49V571.28M424.65 563.49H427.65M424.65 571.28H427.65" stroke="#f08a2c" stroke-width="0.9" fill="none"/>
<rect x="424.05" y="565.28" width="4.2" height="4.2" fill="#f08a2c"/>
<path d="M446.05 564.14V568.03M444.55 564.14H447.55M444.55 568.03H447.55" stroke="#f08a2c" stroke-width="0.9" fill="none"/>
<rect x="443.95" y="563.99" width="4.2" height="4.2" fill="#f08a2c"/>
<path d="M465.95 562.84V569.33M464.45 562.84H467.45M464.45 569.33H467.45" stroke="#f08a2c" stroke-width="0.9" fill="none"/>
<rect x="463.85" y="563.99" width="4.2" height="4.2" fill="#f08a2c"/>
<path d="M485.85 562.41V571.49M484.35 562.41H487.35M484.35 571.49H487.35" stroke="#f08a2c" stroke-width="0.9" fill="none"/>
<rect x="483.75" y="564.85" width="4.2" height="4.2" fill="#f08a2c"/>
<rect x="503.65" y="609.40" width="4.2" height="4.2" fill="#f08a2c"/>
<path d="M406.25 563.49V573.01M404.75 563.49H407.75M404.75 573.01H407.75" stroke="#7a8a3a" stroke-width="0.9" fill="none"/>
<path d="M403.85 570.05L406.25 565.85L408.65 570.05Z" fill="#7a8a3a"/>
<path d="M426.15 565.65V570.85M424.65 565.65H427.65M424.65 570.85H427.65" stroke="#7a8a3a" stroke-width="0.9" fill="none"/>
<path d="M423.75 570.05L426.15 565.85L428.55 570.05Z" fill="#7a8a3a"/>
<path d="M446.05 563.49V571.28M444.55 563.49H447.55M444.55 571.28H447.55" stroke="#7a8a3a" stroke-width="0.9" fill="none"/>
<path d="M443.65 569.19L446.05 564.99L448.45 569.19Z" fill="#7a8a3a"/>
<path d="M465.95 564.14V568.03M464.45 564.14H467.45M464.45 568.03H467.45" stroke="#7a8a3a" stroke-width="0.9" fill="none"/>
<path d="M463.55 567.89L465.95 563.69L468.35 567.89Z" fill="#7a8a3a"/>
<path d="M485.85 562.84V569.33M484.35 562.84H487.35M484.35 569.33H487.35" stroke="#7a8a3a" stroke-width="0.9" fill="none"/>
<path d="M483.45 567.89L485.85 563.69L488.25 567.89Z" fill="#7a8a3a"/>
<path d="M503.35 613.30L505.75 609.10L508.15 613.30Z" fill="#7a8a3a"/>
<path d="M406.25 563.49V573.01M404.75 563.49H407.75M404.75 573.01H407.75" stroke="#e0307c" stroke-width="0.9" fill="none"/>
<path d="M406.25 565.75L408.75 568.25L406.25 570.75L403.75 568.25Z" fill="#e0307c"/>
<path d="M426.15 566.30V572.79M424.65 566.30H427.65M424.65 572.79H427.65" stroke="#e0307c" stroke-width="0.9" fill="none"/>
<path d="M426.15 567.05L428.65 569.55L426.15 572.05L423.65 569.55Z" fill="#e0307c"/>
<path d="M446.05 565.87V574.95M444.55 565.87H447.55M444.55 574.95H447.55" stroke="#e0307c" stroke-width="0.9" fill="none"/>
<path d="M446.05 567.91L448.55 570.41L446.05 572.91L443.55 570.41Z" fill="#e0307c"/>
<path d="M465.95 569.98V575.17M464.45 569.98H467.45M464.45 575.17H467.45" stroke="#e0307c" stroke-width="0.9" fill="none"/>
<path d="M465.95 570.08L468.45 572.58L465.95 575.08L463.45 572.58Z" fill="#e0307c"/>
<path d="M485.85 570.84V578.63M484.35 570.84H487.35M484.35 578.63H487.35" stroke="#e0307c" stroke-width="0.9" fill="none"/>
<path d="M485.85 572.24L488.35 574.74L485.85 577.24L483.35 574.74Z" fill="#e0307c"/>
<path d="M505.75 609.00L508.25 611.50L505.75 614.00L503.25 611.50Z" fill="#e0307c"/>
<path d="M262.50 647.00H271.00" stroke="#74903c" stroke-width="1.5"/>
<circle cx="266.75" cy="647.00" r="2.4" fill="#74903c"/>
<text x="276.25" y="649.80" font-size="7.8" fill="#262a58" stroke="#262a58" stroke-width="0.18" text-anchor="start">Parental</text>
<path d="M262.50 657.25H271.00" stroke="#f08a2c" stroke-width="1.5"/>
<rect x="264.35" y="654.85" width="4.8" height="4.8" fill="#f08a2c"/>
<text x="276.25" y="660.05" font-size="7.8" fill="#262a58" stroke="#262a58" stroke-width="0.18" text-anchor="start">WT</text>
<path d="M262.50 667.50H271.00" stroke="#e23434" stroke-width="1.5"/>
<path d="M264.05 669.60L266.75 664.80L269.45 669.60Z" fill="#e23434"/>
<text x="276.25" y="670.30" font-size="7.8" fill="#262a58" stroke="#262a58" stroke-width="0.18" text-anchor="start">T1025T</text>
<path d="M262.50 677.75H271.00" stroke="#d24496" stroke-width="1.5"/>
<path d="M266.75 674.95L269.55 677.75L266.75 680.55L263.95 677.75Z" fill="#d24496"/>
<text x="276.25" y="680.55" font-size="7.8" fill="#262a58" stroke="#262a58" stroke-width="0.18" text-anchor="start">Q546K</text>
<path d="M262.50 688.00H271.00" stroke="#6a2c8c" stroke-width="1.5"/>
<circle cx="266.75" cy="688.00" r="2.4" fill="#6a2c8c"/>
<text x="276.25" y="690.80" font-size="7.8" fill="#262a58" stroke="#262a58" stroke-width="0.18" text-anchor="start">G1049R</text>
<path d="M330.50 647.50H339.00" stroke="#3a58a6" stroke-width="1.5"/>
<rect x="332.35" y="645.10" width="4.8" height="4.8" fill="#3a58a6"/>
<text x="343.75" y="650.30" font-size="7.8" fill="#262a58" stroke="#262a58" stroke-width="0.18" text-anchor="start">N345K</text>
<path d="M330.50 657.70H339.00" stroke="#2a8a56" stroke-width="1.5"/>
<path d="M332.05 659.80L334.75 655.00L337.45 659.80Z" fill="#2a8a56"/>
<text x="343.75" y="660.50" font-size="7.8" fill="#262a58" stroke="#262a58" stroke-width="0.18" text-anchor="start">H1047L</text>
<path d="M330.50 667.90H339.00" stroke="#8a8a38" stroke-width="1.5"/>
<path d="M334.75 665.10L337.55 667.90L334.75 670.70L331.95 667.90Z" fill="#8a8a38"/>
<text x="343.75" y="670.70" font-size="7.8" fill="#262a58" stroke="#262a58" stroke-width="0.18" text-anchor="start">E542K</text>
<path d="M330.50 678.10H339.00" stroke="#f2b872" stroke-width="1.5"/>
<path d="M332.35 675.70L337.15 680.50M337.15 675.70L332.35 680.50" stroke="#f2b872" stroke-width="1.2"/>
<text x="343.75" y="680.90" font-size="7.8" fill="#262a58" stroke="#262a58" stroke-width="0.18" text-anchor="start">E545K</text>
<path d="M330.50 688.30H339.00" stroke="#e22a7c" stroke-width="1.5"/>
<circle cx="334.75" cy="688.30" r="2.4" fill="#e22a7c"/>
<text x="343.75" y="691.10" font-size="7.8" fill="#262a58" stroke="#262a58" stroke-width="0.18" text-anchor="start">H1047R</text>
<path d="M391.30 646.20H400.20" stroke="#d24496" stroke-width="1.5"/>
<path d="M395.75 643.40L398.55 646.20L395.75 649.00L392.95 646.20Z" fill="#d24496"/>
<text x="403.70" y="649.00" font-size="7.8" fill="#262a58" stroke="#262a58" stroke-width="0.18" text-anchor="start">Q546K +IL3</text>
<path d="M391.30 656.30H400.20" stroke="#f08a2c" stroke-width="1.5"/>
<rect x="393.35" y="653.90" width="4.8" height="4.8" fill="#f08a2c"/>
<text x="403.70" y="659.10" font-size="7.8" fill="#262a58" stroke="#262a58" stroke-width="0.18" text-anchor="start">G1049R +IL3</text>
<path d="M391.30 666.40H400.20" stroke="#8a8a38" stroke-width="1.5"/>
<path d="M393.05 668.50L395.75 663.70L398.45 668.50Z" fill="#8a8a38"/>
<text x="403.70" y="669.20" font-size="7.8" fill="#262a58" stroke="#262a58" stroke-width="0.18" text-anchor="start">N345K +IL3</text>
<path d="M391.30 676.50H400.20" stroke="#2a8a80" stroke-width="1.5"/>
<path d="M395.75 673.70L398.55 676.50L395.75 679.30L392.95 676.50Z" fill="#2a8a80"/>
<text x="403.70" y="679.30" font-size="7.8" fill="#262a58" stroke="#262a58" stroke-width="0.18" text-anchor="start">E545K +IL3</text>
<path d="M391.30 686.60H400.20" stroke="#3a4a96" stroke-width="1.5"/>
<rect x="393.35" y="684.20" width="4.8" height="4.8" fill="#3a4a96"/>
<text x="403.70" y="689.40" font-size="7.8" fill="#262a58" stroke="#262a58" stroke-width="0.18" text-anchor="start">H1047R +IL3</text>
<path d="M462.00 647.00H471.50" stroke="#6a2c8c" stroke-width="1.5"/>
<circle cx="466.75" cy="647.00" r="2.4" fill="#6a2c8c"/>
<text x="474.80" y="649.80" font-size="7.8" fill="#262a58" stroke="#262a58" stroke-width="0.18" text-anchor="start">Q546K -IL3</text>
<path d="M462.00 657.00H471.50" stroke="#e22a7c" stroke-width="1.5"/>
<circle cx="466.75" cy="657.00" r="2.4" fill="#e22a7c"/>
<text x="474.80" y="659.80" font-size="7.8" fill="#262a58" stroke="#262a58" stroke-width="0.18" text-anchor="start">G1049R -IL3</text>
<path d="M462.00 667.00H471.50" stroke="#f08a2c" stroke-width="1.5"/>
<rect x="464.35" y="664.60" width="4.8" height="4.8" fill="#f08a2c"/>
<text x="474.80" y="669.80" font-size="7.8" fill="#262a58" stroke="#262a58" stroke-width="0.18" text-anchor="start">N345K -IL3</text>
<path d="M462.00 677.00H471.50" stroke="#7a8a3a" stroke-width="1.5"/>
<path d="M464.05 679.10L466.75 674.30L469.45 679.10Z" fill="#7a8a3a"/>
<text x="474.80" y="679.80" font-size="7.8" fill="#262a58" stroke="#262a58" stroke-width="0.18" text-anchor="start">E545K -IL3</text>
<path d="M462.00 687.00H471.50" stroke="#e0307c" stroke-width="1.5"/>
<path d="M466.75 684.20L469.55 687.00L466.75 689.80L463.95 687.00Z" fill="#e0307c"/>
<text x="474.80" y="689.80" font-size="7.8" fill="#262a58" stroke="#262a58" stroke-width="0.18" text-anchor="start">H1047R -IL3</text>
</svg></body></html>
